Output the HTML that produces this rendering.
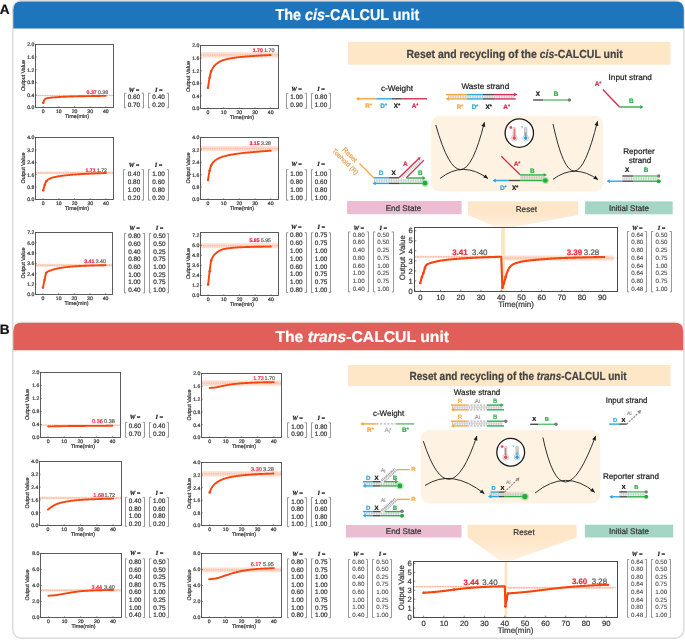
<!DOCTYPE html>
<html><head><meta charset="utf-8"><title>CALCUL units</title>
<style>html,body{margin:0;padding:0;background:#fff;} svg{display:block;will-change:transform;} text{text-rendering:geometricPrecision;stroke-width:0.22px;}</style></head>
<body><svg width="685" height="640" viewBox="0 0 685 640" font-family='"Liberation Sans", sans-serif'>
<rect x="0" y="0" width="685" height="640" fill="#fff"/>
<rect x="12.7" y="0.7" width="671.2" height="637.6" rx="9" ry="9" fill="#fff" stroke="#dcdcdc" stroke-width="1.5"/>
<path d="M13.3,28.5 L13.3,10 Q13.3,1.6 21.5,1.6 L675.5,1.6 Q683.8,1.6 683.8,10 L683.8,28.5 Z" stroke="none" stroke-width="1" fill="#1f75bb"/>
<path d="M12.8,350.2 L12.8,330.5 Q12.8,321.6 21.5,321.6 L675,321.6 Q683.8,321.6 683.8,330.5 L683.8,350.2 Z" stroke="none" stroke-width="1" fill="#ebebeb"/>
<path d="M13.3,350.2 L13.3,331 Q13.3,322.7 21.5,322.7 L675,322.7 Q683.2,322.7 683.2,331 L683.2,350.2 Z" stroke="none" stroke-width="1" fill="#e15e59"/>
<text x="-0.3" y="14.2" font-size="13.6" font-family='"Liberation Sans", sans-serif' font-weight="bold" fill="#111" stroke="#111">A</text>
<text x="-0.3" y="334.1" font-size="13.6" font-family='"Liberation Sans", sans-serif' font-weight="bold" fill="#111" stroke="#111">B</text>
<text x="275.5" y="20.3" font-size="15.6" font-family='"Liberation Sans", sans-serif' font-weight="bold" fill="#fff" textLength="143.7" lengthAdjust="spacingAndGlyphs" stroke="#fff">The <tspan font-style="italic">cis</tspan>-CALCUL unit</text>
<text x="275.4" y="342.2" font-size="15.6" font-family='"Liberation Sans", sans-serif' font-weight="bold" fill="#fff" textLength="173.6" lengthAdjust="spacingAndGlyphs" stroke="#fff">The <tspan font-style="italic">trans</tspan>-CALCUL unit</text>
<rect x="35.5" y="94.93" width="78" height="1.2" fill="#fcd8c8" opacity="0.85"/>
<line x1="35.5" y1="95.53" x2="113.5" y2="95.53" stroke="#f59c82" stroke-width="0.7" stroke-dasharray="1.4,0.9"/>
<path d="M43.20,102.78 L43.59,101.79 L43.98,100.74 L44.37,99.82 L44.77,99.25 L45.16,98.96 L45.55,98.74 L45.94,98.57 L46.33,98.43 L46.72,98.31 L47.11,98.21 L47.50,98.12 L47.90,98.05 L48.29,97.98 L48.68,97.92 L49.07,97.87 L49.46,97.82 L49.85,97.77 L50.24,97.72 L50.63,97.68 L51.03,97.64 L51.42,97.60 L51.81,97.56 L52.20,97.53 L52.59,97.49 L52.98,97.46 L53.37,97.42 L53.76,97.39 L54.16,97.36 L54.55,97.33 L54.94,97.30 L55.33,97.27 L55.72,97.24 L56.11,97.21 L56.50,97.18 L56.89,97.16 L57.29,97.13 L57.68,97.11 L58.07,97.09 L58.46,97.06 L58.85,97.04 L59.24,97.02 L59.63,97.00 L60.02,96.98 L60.41,96.96 L60.81,96.94 L61.20,96.92 L61.59,96.90 L61.98,96.88 L62.37,96.86 L62.76,96.84 L63.15,96.82 L63.55,96.81 L63.94,96.79 L64.33,96.77 L64.72,96.75 L65.11,96.74 L65.50,96.72 L65.89,96.70 L66.28,96.69 L66.67,96.67 L67.07,96.66 L67.46,96.64 L67.85,96.63 L68.24,96.61 L68.63,96.60 L69.02,96.58 L69.41,96.57 L69.81,96.56 L70.20,96.54 L70.59,96.53 L70.98,96.52 L71.37,96.50 L71.76,96.49 L72.15,96.48 L72.54,96.47 L72.94,96.46 L73.33,96.44 L73.72,96.43 L74.11,96.42 L74.50,96.41 L74.89,96.40 L75.28,96.39 L75.67,96.38 L76.06,96.37 L76.46,96.36 L76.85,96.35 L77.24,96.34 L77.63,96.33 L78.02,96.33 L78.41,96.32 L78.80,96.31 L79.19,96.30 L79.59,96.29 L79.98,96.28 L80.37,96.28 L80.76,96.27 L81.15,96.26 L81.54,96.25 L81.93,96.24 L82.32,96.24 L82.72,96.23 L83.11,96.22 L83.50,96.22 L83.89,96.21 L84.28,96.20 L84.67,96.19 L85.06,96.19 L85.45,96.18 L85.85,96.17 L86.24,96.17 L86.63,96.16 L87.02,96.15 L87.41,96.15 L87.80,96.14 L88.19,96.13 L88.59,96.12 L88.98,96.12 L89.37,96.11 L89.76,96.10 L90.15,96.10 L90.54,96.09 L90.93,96.08 L91.32,96.08 L91.72,96.07 L92.11,96.06 L92.50,96.06 L92.89,96.05 L93.28,96.04 L93.67,96.04 L94.06,96.03 L94.45,96.02 L94.84,96.02 L95.24,96.01 L95.63,96.00 L96.02,96.00 L96.41,95.99 L96.80,95.99 L97.19,95.98 L97.58,95.97 L97.97,95.97 L98.37,95.96 L98.76,95.96 L99.15,95.95 L99.54,95.94 L99.93,95.94 L100.32,95.93 L100.71,95.92 L101.10,95.92 L101.50,95.91 L101.89,95.91 L102.28,95.90 L102.67,95.89 L103.06,95.89 L103.45,95.88 L103.84,95.88 L104.23,95.87 L104.63,95.86 L105.02,95.86 L105.41,95.85 L105.80,95.84" stroke="#f6450e" stroke-width="1.9" fill="none" stroke-linejoin="round" stroke-linecap="round"/>
<circle cx="43.2" cy="102.78" r="1.2" fill="#f6450e"/>
<rect x="35.5" y="44.5" width="78" height="63" fill="none" stroke="#4a4a4a" stroke-width="0.9"/>
<line x1="35.5" y1="107.5" x2="36.8" y2="107.5" stroke="#4a4a4a" stroke-width="0.6"/>
<text x="34.3" y="109.3" font-size="5.1" font-family='"Liberation Sans", sans-serif' text-anchor="end" fill="#3a3a3a" stroke="#3a3a3a">0.0</text>
<line x1="35.5" y1="94.9" x2="36.8" y2="94.9" stroke="#4a4a4a" stroke-width="0.6"/>
<text x="34.3" y="96.7" font-size="5.1" font-family='"Liberation Sans", sans-serif' text-anchor="end" fill="#3a3a3a" stroke="#3a3a3a">0.4</text>
<line x1="35.5" y1="82.3" x2="36.8" y2="82.3" stroke="#4a4a4a" stroke-width="0.6"/>
<text x="34.3" y="84.1" font-size="5.1" font-family='"Liberation Sans", sans-serif' text-anchor="end" fill="#3a3a3a" stroke="#3a3a3a">0.8</text>
<line x1="35.5" y1="69.7" x2="36.8" y2="69.7" stroke="#4a4a4a" stroke-width="0.6"/>
<text x="34.3" y="71.5" font-size="5.1" font-family='"Liberation Sans", sans-serif' text-anchor="end" fill="#3a3a3a" stroke="#3a3a3a">1.2</text>
<line x1="35.5" y1="57.1" x2="36.8" y2="57.1" stroke="#4a4a4a" stroke-width="0.6"/>
<text x="34.3" y="58.9" font-size="5.1" font-family='"Liberation Sans", sans-serif' text-anchor="end" fill="#3a3a3a" stroke="#3a3a3a">1.6</text>
<line x1="35.5" y1="44.5" x2="36.8" y2="44.5" stroke="#4a4a4a" stroke-width="0.6"/>
<text x="34.3" y="46.3" font-size="5.1" font-family='"Liberation Sans", sans-serif' text-anchor="end" fill="#3a3a3a" stroke="#3a3a3a">2.0</text>
<line x1="43.2" y1="107.5" x2="43.2" y2="106.2" stroke="#4a4a4a" stroke-width="0.6"/>
<text x="43.2" y="113.1" font-size="5.1" font-family='"Liberation Sans", sans-serif' text-anchor="middle" fill="#3a3a3a" stroke="#3a3a3a">0</text>
<line x1="58.85" y1="107.5" x2="58.85" y2="106.2" stroke="#4a4a4a" stroke-width="0.6"/>
<text x="58.85" y="113.1" font-size="5.1" font-family='"Liberation Sans", sans-serif' text-anchor="middle" fill="#3a3a3a" stroke="#3a3a3a">10</text>
<line x1="74.5" y1="107.5" x2="74.5" y2="106.2" stroke="#4a4a4a" stroke-width="0.6"/>
<text x="74.5" y="113.1" font-size="5.1" font-family='"Liberation Sans", sans-serif' text-anchor="middle" fill="#3a3a3a" stroke="#3a3a3a">20</text>
<line x1="90.15" y1="107.5" x2="90.15" y2="106.2" stroke="#4a4a4a" stroke-width="0.6"/>
<text x="90.15" y="113.1" font-size="5.1" font-family='"Liberation Sans", sans-serif' text-anchor="middle" fill="#3a3a3a" stroke="#3a3a3a">30</text>
<line x1="105.8" y1="107.5" x2="105.8" y2="106.2" stroke="#4a4a4a" stroke-width="0.6"/>
<text x="105.8" y="113.1" font-size="5.1" font-family='"Liberation Sans", sans-serif' text-anchor="middle" fill="#3a3a3a" stroke="#3a3a3a">40</text>
<text x="77" y="117.7" font-size="5.4" font-family='"Liberation Sans", sans-serif' text-anchor="middle" fill="#3a3a3a" stroke="#3a3a3a">Time(min)</text>
<text transform="translate(25.1,75.5) rotate(-90)" font-size="5.4" font-family='"Liberation Sans", sans-serif' text-anchor="middle" fill="#3a3a3a" stroke="#3a3a3a">Output Value</text>
<text x="108.1" y="93.7" font-size="5.2" font-family='"Liberation Sans", sans-serif' text-anchor="end" fill="#666" stroke="#666"><tspan fill="#f2283f" font-weight="bold" stroke="#f2283f">0.37</tspan><tspan dx="1.3">0.38</tspan></text>
<rect x="200.5" y="52.27" width="78" height="5.35" fill="#fcd8c8" opacity="0.85"/>
<line x1="200.5" y1="54.95" x2="278.5" y2="54.95" stroke="#f59c82" stroke-width="0.7" stroke-dasharray="1.4,0.9"/>
<path d="M208.00,87.71 L208.39,85.08 L208.78,82.38 L209.18,79.82 L209.57,77.63 L209.96,75.73 L210.35,73.97 L210.74,72.47 L211.13,71.33 L211.53,70.45 L211.92,69.64 L212.31,68.89 L212.70,68.20 L213.09,67.57 L213.49,66.99 L213.88,66.46 L214.27,65.97 L214.66,65.53 L215.05,65.12 L215.45,64.74 L215.84,64.40 L216.23,64.07 L216.62,63.76 L217.01,63.46 L217.41,63.17 L217.80,62.89 L218.19,62.62 L218.58,62.36 L218.97,62.11 L219.36,61.88 L219.76,61.65 L220.15,61.44 L220.54,61.23 L220.93,61.04 L221.32,60.86 L221.72,60.69 L222.11,60.53 L222.50,60.38 L222.89,60.24 L223.28,60.11 L223.68,59.99 L224.07,59.88 L224.46,59.77 L224.85,59.66 L225.24,59.56 L225.63,59.46 L226.03,59.36 L226.42,59.26 L226.81,59.17 L227.20,59.08 L227.59,58.99 L227.99,58.90 L228.38,58.82 L228.77,58.74 L229.16,58.66 L229.55,58.58 L229.94,58.50 L230.34,58.43 L230.73,58.36 L231.12,58.29 L231.51,58.22 L231.90,58.16 L232.30,58.09 L232.69,58.03 L233.08,57.97 L233.47,57.91 L233.86,57.85 L234.26,57.79 L234.65,57.74 L235.04,57.68 L235.43,57.63 L235.82,57.58 L236.22,57.53 L236.61,57.48 L237.00,57.43 L237.39,57.38 L237.78,57.33 L238.17,57.29 L238.57,57.24 L238.96,57.20 L239.35,57.16 L239.74,57.11 L240.13,57.07 L240.53,57.03 L240.92,56.99 L241.31,56.95 L241.70,56.91 L242.09,56.87 L242.48,56.84 L242.88,56.80 L243.27,56.76 L243.66,56.73 L244.05,56.69 L244.44,56.66 L244.84,56.63 L245.23,56.60 L245.62,56.56 L246.01,56.53 L246.40,56.50 L246.80,56.47 L247.19,56.44 L247.58,56.41 L247.97,56.38 L248.36,56.35 L248.75,56.33 L249.15,56.30 L249.54,56.27 L249.93,56.24 L250.32,56.22 L250.71,56.19 L251.11,56.16 L251.50,56.14 L251.89,56.11 L252.28,56.08 L252.67,56.06 L253.07,56.03 L253.46,56.00 L253.85,55.98 L254.24,55.95 L254.63,55.92 L255.02,55.90 L255.42,55.87 L255.81,55.84 L256.20,55.82 L256.59,55.79 L256.98,55.76 L257.38,55.74 L257.77,55.71 L258.16,55.69 L258.55,55.66 L258.94,55.64 L259.34,55.62 L259.73,55.59 L260.12,55.57 L260.51,55.54 L260.90,55.52 L261.30,55.50 L261.69,55.47 L262.08,55.45 L262.47,55.43 L262.86,55.41 L263.25,55.38 L263.65,55.36 L264.04,55.34 L264.43,55.32 L264.82,55.29 L265.21,55.27 L265.61,55.25 L266.00,55.22 L266.39,55.20 L266.78,55.18 L267.17,55.16 L267.56,55.13 L267.96,55.11 L268.35,55.09 L268.74,55.07 L269.13,55.04 L269.52,55.02 L269.92,55.00 L270.31,54.97 L270.70,54.95" stroke="#f6450e" stroke-width="1.9" fill="none" stroke-linejoin="round" stroke-linecap="round"/>
<circle cx="208" cy="87.71" r="1.2" fill="#f6450e"/>
<circle cx="209.57" cy="77.63" r="1.2" fill="#f6450e"/>
<circle cx="211.13" cy="71.33" r="1.2" fill="#f6450e"/>
<rect x="200.5" y="45.5" width="78" height="63" fill="none" stroke="#4a4a4a" stroke-width="0.9"/>
<line x1="200.5" y1="108.5" x2="201.8" y2="108.5" stroke="#4a4a4a" stroke-width="0.6"/>
<text x="199.3" y="110.3" font-size="5.1" font-family='"Liberation Sans", sans-serif' text-anchor="end" fill="#3a3a3a" stroke="#3a3a3a">0.0</text>
<line x1="200.5" y1="95.9" x2="201.8" y2="95.9" stroke="#4a4a4a" stroke-width="0.6"/>
<text x="199.3" y="97.7" font-size="5.1" font-family='"Liberation Sans", sans-serif' text-anchor="end" fill="#3a3a3a" stroke="#3a3a3a">0.4</text>
<line x1="200.5" y1="83.3" x2="201.8" y2="83.3" stroke="#4a4a4a" stroke-width="0.6"/>
<text x="199.3" y="85.1" font-size="5.1" font-family='"Liberation Sans", sans-serif' text-anchor="end" fill="#3a3a3a" stroke="#3a3a3a">0.8</text>
<line x1="200.5" y1="70.7" x2="201.8" y2="70.7" stroke="#4a4a4a" stroke-width="0.6"/>
<text x="199.3" y="72.5" font-size="5.1" font-family='"Liberation Sans", sans-serif' text-anchor="end" fill="#3a3a3a" stroke="#3a3a3a">1.2</text>
<line x1="200.5" y1="58.1" x2="201.8" y2="58.1" stroke="#4a4a4a" stroke-width="0.6"/>
<text x="199.3" y="59.9" font-size="5.1" font-family='"Liberation Sans", sans-serif' text-anchor="end" fill="#3a3a3a" stroke="#3a3a3a">1.6</text>
<line x1="200.5" y1="45.5" x2="201.8" y2="45.5" stroke="#4a4a4a" stroke-width="0.6"/>
<text x="199.3" y="47.3" font-size="5.1" font-family='"Liberation Sans", sans-serif' text-anchor="end" fill="#3a3a3a" stroke="#3a3a3a">2.0</text>
<line x1="208" y1="108.5" x2="208" y2="107.2" stroke="#4a4a4a" stroke-width="0.6"/>
<text x="208" y="114.1" font-size="5.1" font-family='"Liberation Sans", sans-serif' text-anchor="middle" fill="#3a3a3a" stroke="#3a3a3a">0</text>
<line x1="223.68" y1="108.5" x2="223.68" y2="107.2" stroke="#4a4a4a" stroke-width="0.6"/>
<text x="223.68" y="114.1" font-size="5.1" font-family='"Liberation Sans", sans-serif' text-anchor="middle" fill="#3a3a3a" stroke="#3a3a3a">10</text>
<line x1="239.35" y1="108.5" x2="239.35" y2="107.2" stroke="#4a4a4a" stroke-width="0.6"/>
<text x="239.35" y="114.1" font-size="5.1" font-family='"Liberation Sans", sans-serif' text-anchor="middle" fill="#3a3a3a" stroke="#3a3a3a">20</text>
<line x1="255.02" y1="108.5" x2="255.02" y2="107.2" stroke="#4a4a4a" stroke-width="0.6"/>
<text x="255.02" y="114.1" font-size="5.1" font-family='"Liberation Sans", sans-serif' text-anchor="middle" fill="#3a3a3a" stroke="#3a3a3a">30</text>
<line x1="270.7" y1="108.5" x2="270.7" y2="107.2" stroke="#4a4a4a" stroke-width="0.6"/>
<text x="270.7" y="114.1" font-size="5.1" font-family='"Liberation Sans", sans-serif' text-anchor="middle" fill="#3a3a3a" stroke="#3a3a3a">40</text>
<text x="242" y="118.7" font-size="5.4" font-family='"Liberation Sans", sans-serif' text-anchor="middle" fill="#3a3a3a" stroke="#3a3a3a">Time(min)</text>
<text transform="translate(190.1,76.5) rotate(-90)" font-size="5.4" font-family='"Liberation Sans", sans-serif' text-anchor="middle" fill="#3a3a3a" stroke="#3a3a3a">Output Value</text>
<text x="274.3" y="52" font-size="5.2" font-family='"Liberation Sans", sans-serif' text-anchor="end" fill="#666" stroke="#666"><tspan fill="#f2283f" font-weight="bold" stroke="#f2283f">1.70</tspan><tspan dx="1.3">1.70</tspan></text>
<rect x="35.5" y="171.51" width="78" height="2.67" fill="#fcd8c8" opacity="0.85"/>
<line x1="35.5" y1="172.84" x2="113.5" y2="172.84" stroke="#f59c82" stroke-width="0.7" stroke-dasharray="1.4,0.9"/>
<path d="M43.20,190.20 L43.59,188.79 L43.98,187.35 L44.38,185.97 L44.77,184.78 L45.16,183.70 L45.55,182.68 L45.94,181.81 L46.34,181.21 L46.73,180.79 L47.12,180.41 L47.51,180.06 L47.90,179.75 L48.29,179.47 L48.69,179.21 L49.08,178.98 L49.47,178.77 L49.86,178.59 L50.25,178.41 L50.65,178.26 L51.04,178.11 L51.43,177.97 L51.82,177.84 L52.21,177.71 L52.61,177.59 L53.00,177.48 L53.39,177.37 L53.78,177.26 L54.17,177.16 L54.56,177.07 L54.96,176.98 L55.35,176.89 L55.74,176.81 L56.13,176.73 L56.52,176.65 L56.92,176.58 L57.31,176.51 L57.70,176.44 L58.09,176.38 L58.48,176.31 L58.88,176.25 L59.27,176.19 L59.66,176.13 L60.05,176.07 L60.44,176.02 L60.83,175.96 L61.23,175.91 L61.62,175.85 L62.01,175.80 L62.40,175.75 L62.79,175.70 L63.19,175.65 L63.58,175.60 L63.97,175.55 L64.36,175.50 L64.75,175.46 L65.15,175.41 L65.54,175.37 L65.93,175.33 L66.32,175.28 L66.71,175.24 L67.10,175.20 L67.50,175.16 L67.89,175.12 L68.28,175.08 L68.67,175.05 L69.06,175.01 L69.46,174.97 L69.85,174.94 L70.24,174.90 L70.63,174.87 L71.02,174.83 L71.42,174.80 L71.81,174.77 L72.20,174.73 L72.59,174.70 L72.98,174.67 L73.37,174.64 L73.77,174.61 L74.16,174.58 L74.55,174.54 L74.94,174.52 L75.33,174.49 L75.73,174.46 L76.12,174.43 L76.51,174.40 L76.90,174.37 L77.29,174.34 L77.69,174.32 L78.08,174.29 L78.47,174.27 L78.86,174.24 L79.25,174.21 L79.64,174.19 L80.04,174.16 L80.43,174.14 L80.82,174.12 L81.21,174.09 L81.60,174.07 L82.00,174.05 L82.39,174.02 L82.78,174.00 L83.17,173.98 L83.56,173.96 L83.96,173.93 L84.35,173.91 L84.74,173.89 L85.13,173.87 L85.52,173.85 L85.91,173.83 L86.31,173.81 L86.70,173.79 L87.09,173.77 L87.48,173.75 L87.87,173.73 L88.27,173.71 L88.66,173.69 L89.05,173.67 L89.44,173.65 L89.83,173.63 L90.22,173.62 L90.62,173.60 L91.01,173.58 L91.40,173.56 L91.79,173.54 L92.18,173.53 L92.58,173.51 L92.97,173.49 L93.36,173.48 L93.75,173.46 L94.14,173.44 L94.54,173.43 L94.93,173.41 L95.32,173.40 L95.71,173.38 L96.10,173.36 L96.50,173.35 L96.89,173.33 L97.28,173.32 L97.67,173.30 L98.06,173.29 L98.45,173.27 L98.85,173.26 L99.24,173.25 L99.63,173.23 L100.02,173.22 L100.41,173.20 L100.81,173.19 L101.20,173.17 L101.59,173.16 L101.98,173.14 L102.37,173.13 L102.77,173.12 L103.16,173.10 L103.55,173.09 L103.94,173.07 L104.33,173.06 L104.72,173.04 L105.12,173.03 L105.51,173.01 L105.90,173.00" stroke="#f6450e" stroke-width="1.9" fill="none" stroke-linejoin="round" stroke-linecap="round"/>
<circle cx="43.2" cy="190.2" r="1.2" fill="#f6450e"/>
<circle cx="44.77" cy="184.78" r="1.2" fill="#f6450e"/>
<circle cx="46.34" cy="181.21" r="1.2" fill="#f6450e"/>
<rect x="35.5" y="137.5" width="78" height="62" fill="none" stroke="#4a4a4a" stroke-width="0.9"/>
<line x1="35.5" y1="199.5" x2="36.8" y2="199.5" stroke="#4a4a4a" stroke-width="0.6"/>
<text x="34.3" y="201.3" font-size="5.1" font-family='"Liberation Sans", sans-serif' text-anchor="end" fill="#3a3a3a" stroke="#3a3a3a">0.0</text>
<line x1="35.5" y1="187.1" x2="36.8" y2="187.1" stroke="#4a4a4a" stroke-width="0.6"/>
<text x="34.3" y="188.9" font-size="5.1" font-family='"Liberation Sans", sans-serif' text-anchor="end" fill="#3a3a3a" stroke="#3a3a3a">0.8</text>
<line x1="35.5" y1="174.7" x2="36.8" y2="174.7" stroke="#4a4a4a" stroke-width="0.6"/>
<text x="34.3" y="176.5" font-size="5.1" font-family='"Liberation Sans", sans-serif' text-anchor="end" fill="#3a3a3a" stroke="#3a3a3a">1.6</text>
<line x1="35.5" y1="162.3" x2="36.8" y2="162.3" stroke="#4a4a4a" stroke-width="0.6"/>
<text x="34.3" y="164.1" font-size="5.1" font-family='"Liberation Sans", sans-serif' text-anchor="end" fill="#3a3a3a" stroke="#3a3a3a">2.4</text>
<line x1="35.5" y1="149.9" x2="36.8" y2="149.9" stroke="#4a4a4a" stroke-width="0.6"/>
<text x="34.3" y="151.7" font-size="5.1" font-family='"Liberation Sans", sans-serif' text-anchor="end" fill="#3a3a3a" stroke="#3a3a3a">3.2</text>
<line x1="35.5" y1="137.5" x2="36.8" y2="137.5" stroke="#4a4a4a" stroke-width="0.6"/>
<text x="34.3" y="139.3" font-size="5.1" font-family='"Liberation Sans", sans-serif' text-anchor="end" fill="#3a3a3a" stroke="#3a3a3a">4.0</text>
<line x1="43.2" y1="199.5" x2="43.2" y2="198.2" stroke="#4a4a4a" stroke-width="0.6"/>
<text x="43.2" y="205.1" font-size="5.1" font-family='"Liberation Sans", sans-serif' text-anchor="middle" fill="#3a3a3a" stroke="#3a3a3a">0</text>
<line x1="58.88" y1="199.5" x2="58.88" y2="198.2" stroke="#4a4a4a" stroke-width="0.6"/>
<text x="58.88" y="205.1" font-size="5.1" font-family='"Liberation Sans", sans-serif' text-anchor="middle" fill="#3a3a3a" stroke="#3a3a3a">10</text>
<line x1="74.55" y1="199.5" x2="74.55" y2="198.2" stroke="#4a4a4a" stroke-width="0.6"/>
<text x="74.55" y="205.1" font-size="5.1" font-family='"Liberation Sans", sans-serif' text-anchor="middle" fill="#3a3a3a" stroke="#3a3a3a">20</text>
<line x1="90.22" y1="199.5" x2="90.22" y2="198.2" stroke="#4a4a4a" stroke-width="0.6"/>
<text x="90.22" y="205.1" font-size="5.1" font-family='"Liberation Sans", sans-serif' text-anchor="middle" fill="#3a3a3a" stroke="#3a3a3a">30</text>
<line x1="105.9" y1="199.5" x2="105.9" y2="198.2" stroke="#4a4a4a" stroke-width="0.6"/>
<text x="105.9" y="205.1" font-size="5.1" font-family='"Liberation Sans", sans-serif' text-anchor="middle" fill="#3a3a3a" stroke="#3a3a3a">40</text>
<text x="77" y="209.7" font-size="5.4" font-family='"Liberation Sans", sans-serif' text-anchor="middle" fill="#3a3a3a" stroke="#3a3a3a">Time(min)</text>
<text transform="translate(25.1,168) rotate(-90)" font-size="5.4" font-family='"Liberation Sans", sans-serif' text-anchor="middle" fill="#3a3a3a" stroke="#3a3a3a">Output Value</text>
<text x="107" y="171.5" font-size="5.2" font-family='"Liberation Sans", sans-serif' text-anchor="end" fill="#666" stroke="#666"><tspan fill="#f2283f" font-weight="bold" stroke="#f2283f">1.71</tspan><tspan dx="1.3">1.72</tspan></text>
<rect x="200.5" y="146.12" width="78" height="5.08" fill="#fcd8c8" opacity="0.85"/>
<line x1="200.5" y1="148.66" x2="278.5" y2="148.66" stroke="#f59c82" stroke-width="0.7" stroke-dasharray="1.4,0.9"/>
<path d="M208.00,180.12 L208.39,177.69 L208.78,175.17 L209.18,172.81 L209.57,170.82 L209.96,169.15 L210.35,167.63 L210.74,166.34 L211.13,165.40 L211.53,164.69 L211.92,164.04 L212.31,163.45 L212.70,162.91 L213.09,162.42 L213.49,161.98 L213.88,161.57 L214.27,161.20 L214.66,160.85 L215.05,160.54 L215.45,160.25 L215.84,159.97 L216.23,159.71 L216.62,159.47 L217.01,159.23 L217.41,159.00 L217.80,158.77 L218.19,158.56 L218.58,158.36 L218.97,158.17 L219.36,157.98 L219.76,157.80 L220.15,157.63 L220.54,157.47 L220.93,157.32 L221.32,157.17 L221.72,157.03 L222.11,156.89 L222.50,156.76 L222.89,156.64 L223.28,156.52 L223.68,156.41 L224.07,156.30 L224.46,156.20 L224.85,156.09 L225.24,155.99 L225.63,155.89 L226.03,155.80 L226.42,155.70 L226.81,155.61 L227.20,155.52 L227.59,155.43 L227.99,155.34 L228.38,155.26 L228.77,155.18 L229.16,155.10 L229.55,155.02 L229.94,154.94 L230.34,154.86 L230.73,154.79 L231.12,154.72 L231.51,154.65 L231.90,154.58 L232.30,154.51 L232.69,154.44 L233.08,154.37 L233.47,154.31 L233.86,154.25 L234.26,154.19 L234.65,154.12 L235.04,154.06 L235.43,154.01 L235.82,153.95 L236.22,153.89 L236.61,153.84 L237.00,153.78 L237.39,153.73 L237.78,153.67 L238.17,153.62 L238.57,153.57 L238.96,153.52 L239.35,153.47 L239.74,153.41 L240.13,153.37 L240.53,153.32 L240.92,153.27 L241.31,153.22 L241.70,153.18 L242.09,153.13 L242.48,153.09 L242.88,153.04 L243.27,153.00 L243.66,152.96 L244.05,152.92 L244.44,152.88 L244.84,152.84 L245.23,152.80 L245.62,152.76 L246.01,152.72 L246.40,152.68 L246.80,152.65 L247.19,152.61 L247.58,152.57 L247.97,152.54 L248.36,152.50 L248.75,152.46 L249.15,152.43 L249.54,152.39 L249.93,152.36 L250.32,152.32 L250.71,152.29 L251.11,152.26 L251.50,152.22 L251.89,152.19 L252.28,152.15 L252.67,152.12 L253.07,152.09 L253.46,152.05 L253.85,152.02 L254.24,151.98 L254.63,151.95 L255.02,151.91 L255.42,151.88 L255.81,151.85 L256.20,151.81 L256.59,151.78 L256.98,151.75 L257.38,151.71 L257.77,151.68 L258.16,151.65 L258.55,151.62 L258.94,151.59 L259.34,151.55 L259.73,151.52 L260.12,151.49 L260.51,151.46 L260.90,151.43 L261.30,151.40 L261.69,151.37 L262.08,151.34 L262.47,151.31 L262.86,151.28 L263.25,151.25 L263.65,151.22 L264.04,151.19 L264.43,151.16 L264.82,151.13 L265.21,151.10 L265.61,151.07 L266.00,151.04 L266.39,151.01 L266.78,150.98 L267.17,150.95 L267.56,150.92 L267.96,150.89 L268.35,150.86 L268.74,150.83 L269.13,150.80 L269.52,150.77 L269.92,150.74 L270.31,150.71 L270.70,150.68" stroke="#f6450e" stroke-width="1.9" fill="none" stroke-linejoin="round" stroke-linecap="round"/>
<circle cx="208" cy="180.12" r="1.2" fill="#f6450e"/>
<circle cx="209.57" cy="170.82" r="1.2" fill="#f6450e"/>
<circle cx="211.13" cy="165.4" r="1.2" fill="#f6450e"/>
<rect x="200.5" y="137.5" width="78" height="62" fill="none" stroke="#4a4a4a" stroke-width="0.9"/>
<line x1="200.5" y1="199.5" x2="201.8" y2="199.5" stroke="#4a4a4a" stroke-width="0.6"/>
<text x="199.3" y="201.3" font-size="5.1" font-family='"Liberation Sans", sans-serif' text-anchor="end" fill="#3a3a3a" stroke="#3a3a3a">0.0</text>
<line x1="200.5" y1="187.1" x2="201.8" y2="187.1" stroke="#4a4a4a" stroke-width="0.6"/>
<text x="199.3" y="188.9" font-size="5.1" font-family='"Liberation Sans", sans-serif' text-anchor="end" fill="#3a3a3a" stroke="#3a3a3a">0.8</text>
<line x1="200.5" y1="174.7" x2="201.8" y2="174.7" stroke="#4a4a4a" stroke-width="0.6"/>
<text x="199.3" y="176.5" font-size="5.1" font-family='"Liberation Sans", sans-serif' text-anchor="end" fill="#3a3a3a" stroke="#3a3a3a">1.6</text>
<line x1="200.5" y1="162.3" x2="201.8" y2="162.3" stroke="#4a4a4a" stroke-width="0.6"/>
<text x="199.3" y="164.1" font-size="5.1" font-family='"Liberation Sans", sans-serif' text-anchor="end" fill="#3a3a3a" stroke="#3a3a3a">2.4</text>
<line x1="200.5" y1="149.9" x2="201.8" y2="149.9" stroke="#4a4a4a" stroke-width="0.6"/>
<text x="199.3" y="151.7" font-size="5.1" font-family='"Liberation Sans", sans-serif' text-anchor="end" fill="#3a3a3a" stroke="#3a3a3a">3.2</text>
<line x1="200.5" y1="137.5" x2="201.8" y2="137.5" stroke="#4a4a4a" stroke-width="0.6"/>
<text x="199.3" y="139.3" font-size="5.1" font-family='"Liberation Sans", sans-serif' text-anchor="end" fill="#3a3a3a" stroke="#3a3a3a">4.0</text>
<line x1="208" y1="199.5" x2="208" y2="198.2" stroke="#4a4a4a" stroke-width="0.6"/>
<text x="208" y="205.1" font-size="5.1" font-family='"Liberation Sans", sans-serif' text-anchor="middle" fill="#3a3a3a" stroke="#3a3a3a">0</text>
<line x1="223.68" y1="199.5" x2="223.68" y2="198.2" stroke="#4a4a4a" stroke-width="0.6"/>
<text x="223.68" y="205.1" font-size="5.1" font-family='"Liberation Sans", sans-serif' text-anchor="middle" fill="#3a3a3a" stroke="#3a3a3a">10</text>
<line x1="239.35" y1="199.5" x2="239.35" y2="198.2" stroke="#4a4a4a" stroke-width="0.6"/>
<text x="239.35" y="205.1" font-size="5.1" font-family='"Liberation Sans", sans-serif' text-anchor="middle" fill="#3a3a3a" stroke="#3a3a3a">20</text>
<line x1="255.02" y1="199.5" x2="255.02" y2="198.2" stroke="#4a4a4a" stroke-width="0.6"/>
<text x="255.02" y="205.1" font-size="5.1" font-family='"Liberation Sans", sans-serif' text-anchor="middle" fill="#3a3a3a" stroke="#3a3a3a">30</text>
<line x1="270.7" y1="199.5" x2="270.7" y2="198.2" stroke="#4a4a4a" stroke-width="0.6"/>
<text x="270.7" y="205.1" font-size="5.1" font-family='"Liberation Sans", sans-serif' text-anchor="middle" fill="#3a3a3a" stroke="#3a3a3a">40</text>
<text x="242" y="209.7" font-size="5.4" font-family='"Liberation Sans", sans-serif' text-anchor="middle" fill="#3a3a3a" stroke="#3a3a3a">Time(min)</text>
<text transform="translate(190.1,168) rotate(-90)" font-size="5.4" font-family='"Liberation Sans", sans-serif' text-anchor="middle" fill="#3a3a3a" stroke="#3a3a3a">Output Value</text>
<text x="271" y="144.5" font-size="5.2" font-family='"Liberation Sans", sans-serif' text-anchor="end" fill="#666" stroke="#666"><tspan fill="#f2283f" font-weight="bold" stroke="#f2283f">3.15</tspan><tspan dx="1.3">3.28</tspan></text>
<rect x="35.5" y="263.76" width="77" height="2.93" fill="#fcd8c8" opacity="0.85"/>
<line x1="35.5" y1="265.22" x2="112.5" y2="265.22" stroke="#f59c82" stroke-width="0.7" stroke-dasharray="1.4,0.9"/>
<path d="M43.00,287.61 L43.39,285.65 L43.78,283.68 L44.17,281.73 L44.56,279.86 L44.96,277.84 L45.35,275.72 L45.74,273.95 L46.13,272.97 L46.52,272.56 L46.91,272.21 L47.30,271.91 L47.70,271.65 L48.09,271.43 L48.48,271.24 L48.87,271.08 L49.26,270.93 L49.65,270.79 L50.04,270.66 L50.43,270.53 L50.83,270.39 L51.22,270.24 L51.61,270.10 L52.00,269.96 L52.39,269.83 L52.78,269.70 L53.17,269.58 L53.56,269.46 L53.95,269.34 L54.35,269.22 L54.74,269.12 L55.13,269.01 L55.52,268.91 L55.91,268.81 L56.30,268.72 L56.69,268.63 L57.09,268.54 L57.48,268.46 L57.87,268.38 L58.26,268.31 L58.65,268.24 L59.04,268.17 L59.43,268.10 L59.82,268.03 L60.21,267.97 L60.61,267.91 L61.00,267.84 L61.39,267.78 L61.78,267.72 L62.17,267.66 L62.56,267.60 L62.95,267.55 L63.34,267.49 L63.74,267.44 L64.13,267.38 L64.52,267.33 L64.91,267.28 L65.30,267.23 L65.69,267.18 L66.08,267.13 L66.47,267.08 L66.87,267.04 L67.26,266.99 L67.65,266.95 L68.04,266.90 L68.43,266.86 L68.82,266.82 L69.21,266.78 L69.60,266.74 L70.00,266.70 L70.39,266.66 L70.78,266.63 L71.17,266.59 L71.56,266.56 L71.95,266.52 L72.34,266.49 L72.73,266.46 L73.13,266.43 L73.52,266.40 L73.91,266.37 L74.30,266.34 L74.69,266.31 L75.08,266.29 L75.47,266.26 L75.86,266.24 L76.26,266.21 L76.65,266.19 L77.04,266.16 L77.43,266.14 L77.82,266.11 L78.21,266.09 L78.60,266.07 L79.00,266.05 L79.39,266.03 L79.78,266.00 L80.17,265.98 L80.56,265.96 L80.95,265.94 L81.34,265.92 L81.73,265.90 L82.12,265.89 L82.52,265.87 L82.91,265.85 L83.30,265.83 L83.69,265.81 L84.08,265.80 L84.47,265.78 L84.86,265.76 L85.25,265.75 L85.65,265.73 L86.04,265.71 L86.43,265.70 L86.82,265.68 L87.21,265.67 L87.60,265.65 L87.99,265.64 L88.38,265.62 L88.78,265.61 L89.17,265.59 L89.56,265.58 L89.95,265.57 L90.34,265.55 L90.73,265.54 L91.12,265.53 L91.52,265.51 L91.91,265.50 L92.30,265.49 L92.69,265.48 L93.08,265.46 L93.47,265.45 L93.86,265.44 L94.25,265.43 L94.64,265.42 L95.04,265.41 L95.43,265.40 L95.82,265.39 L96.21,265.38 L96.60,265.37 L96.99,265.36 L97.38,265.35 L97.78,265.34 L98.17,265.33 L98.56,265.32 L98.95,265.31 L99.34,265.30 L99.73,265.29 L100.12,265.28 L100.51,265.27 L100.91,265.26 L101.30,265.25 L101.69,265.24 L102.08,265.23 L102.47,265.22 L102.86,265.21 L103.25,265.20 L103.64,265.19 L104.03,265.18 L104.43,265.17 L104.82,265.16 L105.21,265.15 L105.60,265.14" stroke="#f6450e" stroke-width="1.9" fill="none" stroke-linejoin="round" stroke-linecap="round"/>
<circle cx="43" cy="287.61" r="1.2" fill="#f6450e"/>
<circle cx="44.56" cy="279.86" r="1.2" fill="#f6450e"/>
<circle cx="46.13" cy="272.97" r="1.2" fill="#f6450e"/>
<rect x="35.5" y="232.5" width="77" height="62" fill="none" stroke="#4a4a4a" stroke-width="0.9"/>
<line x1="35.5" y1="294.5" x2="36.8" y2="294.5" stroke="#4a4a4a" stroke-width="0.6"/>
<text x="34.3" y="296.3" font-size="5.1" font-family='"Liberation Sans", sans-serif' text-anchor="end" fill="#3a3a3a" stroke="#3a3a3a">0.0</text>
<line x1="35.5" y1="284.17" x2="36.8" y2="284.17" stroke="#4a4a4a" stroke-width="0.6"/>
<text x="34.3" y="285.97" font-size="5.1" font-family='"Liberation Sans", sans-serif' text-anchor="end" fill="#3a3a3a" stroke="#3a3a3a">1.2</text>
<line x1="35.5" y1="273.83" x2="36.8" y2="273.83" stroke="#4a4a4a" stroke-width="0.6"/>
<text x="34.3" y="275.63" font-size="5.1" font-family='"Liberation Sans", sans-serif' text-anchor="end" fill="#3a3a3a" stroke="#3a3a3a">2.4</text>
<line x1="35.5" y1="263.5" x2="36.8" y2="263.5" stroke="#4a4a4a" stroke-width="0.6"/>
<text x="34.3" y="265.3" font-size="5.1" font-family='"Liberation Sans", sans-serif' text-anchor="end" fill="#3a3a3a" stroke="#3a3a3a">3.6</text>
<line x1="35.5" y1="253.17" x2="36.8" y2="253.17" stroke="#4a4a4a" stroke-width="0.6"/>
<text x="34.3" y="254.97" font-size="5.1" font-family='"Liberation Sans", sans-serif' text-anchor="end" fill="#3a3a3a" stroke="#3a3a3a">4.8</text>
<line x1="35.5" y1="242.83" x2="36.8" y2="242.83" stroke="#4a4a4a" stroke-width="0.6"/>
<text x="34.3" y="244.63" font-size="5.1" font-family='"Liberation Sans", sans-serif' text-anchor="end" fill="#3a3a3a" stroke="#3a3a3a">6.0</text>
<line x1="35.5" y1="232.5" x2="36.8" y2="232.5" stroke="#4a4a4a" stroke-width="0.6"/>
<text x="34.3" y="234.3" font-size="5.1" font-family='"Liberation Sans", sans-serif' text-anchor="end" fill="#3a3a3a" stroke="#3a3a3a">7.2</text>
<line x1="43" y1="294.5" x2="43" y2="293.2" stroke="#4a4a4a" stroke-width="0.6"/>
<text x="43" y="300.1" font-size="5.1" font-family='"Liberation Sans", sans-serif' text-anchor="middle" fill="#3a3a3a" stroke="#3a3a3a">0</text>
<line x1="58.65" y1="294.5" x2="58.65" y2="293.2" stroke="#4a4a4a" stroke-width="0.6"/>
<text x="58.65" y="300.1" font-size="5.1" font-family='"Liberation Sans", sans-serif' text-anchor="middle" fill="#3a3a3a" stroke="#3a3a3a">10</text>
<line x1="74.3" y1="294.5" x2="74.3" y2="293.2" stroke="#4a4a4a" stroke-width="0.6"/>
<text x="74.3" y="300.1" font-size="5.1" font-family='"Liberation Sans", sans-serif' text-anchor="middle" fill="#3a3a3a" stroke="#3a3a3a">20</text>
<line x1="89.95" y1="294.5" x2="89.95" y2="293.2" stroke="#4a4a4a" stroke-width="0.6"/>
<text x="89.95" y="300.1" font-size="5.1" font-family='"Liberation Sans", sans-serif' text-anchor="middle" fill="#3a3a3a" stroke="#3a3a3a">30</text>
<line x1="105.6" y1="294.5" x2="105.6" y2="293.2" stroke="#4a4a4a" stroke-width="0.6"/>
<text x="105.6" y="300.1" font-size="5.1" font-family='"Liberation Sans", sans-serif' text-anchor="middle" fill="#3a3a3a" stroke="#3a3a3a">40</text>
<text x="76.5" y="304.7" font-size="5.4" font-family='"Liberation Sans", sans-serif' text-anchor="middle" fill="#3a3a3a" stroke="#3a3a3a">Time(min)</text>
<text transform="translate(25.1,263) rotate(-90)" font-size="5.4" font-family='"Liberation Sans", sans-serif' text-anchor="middle" fill="#3a3a3a" stroke="#3a3a3a">Output Value</text>
<text x="105.8" y="262.6" font-size="5.2" font-family='"Liberation Sans", sans-serif' text-anchor="end" fill="#666" stroke="#666"><tspan fill="#f2283f" font-weight="bold" stroke="#f2283f">3.41</tspan><tspan dx="1.3">3.40</tspan></text>
<rect x="200.5" y="243.23" width="78" height="4.98" fill="#fcd8c8" opacity="0.85"/>
<line x1="200.5" y1="245.72" x2="278.5" y2="245.72" stroke="#f59c82" stroke-width="0.7" stroke-dasharray="1.4,0.9"/>
<path d="M208.10,284.62 L208.49,281.21 L208.88,277.76 L209.28,274.39 L209.67,271.24 L210.06,268.05 L210.45,264.84 L210.85,262.11 L211.24,260.36 L211.63,259.33 L212.03,258.41 L212.42,257.59 L212.81,256.87 L213.20,256.22 L213.59,255.65 L213.99,255.15 L214.38,254.70 L214.77,254.29 L215.16,253.92 L215.56,253.58 L215.95,253.25 L216.34,252.93 L216.73,252.62 L217.13,252.33 L217.52,252.04 L217.91,251.76 L218.30,251.50 L218.70,251.24 L219.09,251.00 L219.48,250.77 L219.88,250.55 L220.27,250.34 L220.66,250.15 L221.05,249.96 L221.44,249.79 L221.84,249.64 L222.23,249.50 L222.62,249.37 L223.01,249.25 L223.41,249.15 L223.80,249.07 L224.19,248.99 L224.58,248.91 L224.98,248.84 L225.37,248.77 L225.76,248.70 L226.16,248.63 L226.55,248.57 L226.94,248.51 L227.33,248.45 L227.72,248.39 L228.12,248.33 L228.51,248.28 L228.90,248.22 L229.29,248.17 L229.69,248.12 L230.08,248.07 L230.47,248.02 L230.86,247.98 L231.26,247.94 L231.65,247.89 L232.04,247.85 L232.44,247.81 L232.83,247.78 L233.22,247.74 L233.61,247.70 L234.00,247.67 L234.40,247.64 L234.79,247.61 L235.18,247.58 L235.57,247.55 L235.97,247.52 L236.36,247.49 L236.75,247.47 L237.14,247.44 L237.54,247.42 L237.93,247.39 L238.32,247.37 L238.71,247.35 L239.11,247.33 L239.50,247.31 L239.89,247.29 L240.28,247.27 L240.68,247.25 L241.07,247.23 L241.46,247.22 L241.85,247.20 L242.25,247.18 L242.64,247.17 L243.03,247.15 L243.42,247.14 L243.82,247.12 L244.21,247.11 L244.60,247.09 L244.99,247.08 L245.39,247.06 L245.78,247.05 L246.17,247.04 L246.56,247.03 L246.96,247.01 L247.35,247.00 L247.74,246.99 L248.13,246.98 L248.53,246.97 L248.92,246.96 L249.31,246.95 L249.70,246.94 L250.10,246.93 L250.49,246.92 L250.88,246.91 L251.27,246.90 L251.67,246.89 L252.06,246.88 L252.45,246.87 L252.84,246.86 L253.24,246.85 L253.63,246.84 L254.02,246.83 L254.41,246.82 L254.81,246.82 L255.20,246.81 L255.59,246.80 L255.98,246.79 L256.38,246.78 L256.77,246.77 L257.16,246.77 L257.55,246.76 L257.95,246.75 L258.34,246.75 L258.73,246.74 L259.12,246.73 L259.52,246.73 L259.91,246.72 L260.30,246.71 L260.69,246.71 L261.09,246.70 L261.48,246.69 L261.87,246.69 L262.26,246.68 L262.66,246.68 L263.05,246.67 L263.44,246.67 L263.83,246.66 L264.23,246.65 L264.62,246.65 L265.01,246.64 L265.40,246.64 L265.80,246.63 L266.19,246.63 L266.58,246.62 L266.97,246.61 L267.37,246.61 L267.76,246.60 L268.15,246.60 L268.54,246.59 L268.94,246.59 L269.33,246.58 L269.72,246.57 L270.12,246.57 L270.51,246.56 L270.90,246.56" stroke="#f6450e" stroke-width="1.9" fill="none" stroke-linejoin="round" stroke-linecap="round"/>
<circle cx="208.1" cy="284.62" r="1.2" fill="#f6450e"/>
<circle cx="209.67" cy="271.24" r="1.2" fill="#f6450e"/>
<circle cx="211.24" cy="260.36" r="1.2" fill="#f6450e"/>
<rect x="200.5" y="232.5" width="78" height="63" fill="none" stroke="#4a4a4a" stroke-width="0.9"/>
<line x1="200.5" y1="295.5" x2="201.8" y2="295.5" stroke="#4a4a4a" stroke-width="0.6"/>
<text x="199.3" y="297.3" font-size="5.1" font-family='"Liberation Sans", sans-serif' text-anchor="end" fill="#3a3a3a" stroke="#3a3a3a">0.0</text>
<line x1="200.5" y1="285.46" x2="201.8" y2="285.46" stroke="#4a4a4a" stroke-width="0.6"/>
<text x="199.3" y="287.26" font-size="5.1" font-family='"Liberation Sans", sans-serif' text-anchor="end" fill="#3a3a3a" stroke="#3a3a3a">1.2</text>
<line x1="200.5" y1="275.42" x2="201.8" y2="275.42" stroke="#4a4a4a" stroke-width="0.6"/>
<text x="199.3" y="277.22" font-size="5.1" font-family='"Liberation Sans", sans-serif' text-anchor="end" fill="#3a3a3a" stroke="#3a3a3a">2.4</text>
<line x1="200.5" y1="265.38" x2="201.8" y2="265.38" stroke="#4a4a4a" stroke-width="0.6"/>
<text x="199.3" y="267.18" font-size="5.1" font-family='"Liberation Sans", sans-serif' text-anchor="end" fill="#3a3a3a" stroke="#3a3a3a">3.6</text>
<line x1="200.5" y1="255.34" x2="201.8" y2="255.34" stroke="#4a4a4a" stroke-width="0.6"/>
<text x="199.3" y="257.14" font-size="5.1" font-family='"Liberation Sans", sans-serif' text-anchor="end" fill="#3a3a3a" stroke="#3a3a3a">4.8</text>
<line x1="200.5" y1="245.3" x2="201.8" y2="245.3" stroke="#4a4a4a" stroke-width="0.6"/>
<text x="199.3" y="247.1" font-size="5.1" font-family='"Liberation Sans", sans-serif' text-anchor="end" fill="#3a3a3a" stroke="#3a3a3a">6.0</text>
<line x1="200.5" y1="235.26" x2="201.8" y2="235.26" stroke="#4a4a4a" stroke-width="0.6"/>
<text x="199.3" y="237.06" font-size="5.1" font-family='"Liberation Sans", sans-serif' text-anchor="end" fill="#3a3a3a" stroke="#3a3a3a">7.2</text>
<line x1="208.1" y1="295.5" x2="208.1" y2="294.2" stroke="#4a4a4a" stroke-width="0.6"/>
<text x="208.1" y="301.1" font-size="5.1" font-family='"Liberation Sans", sans-serif' text-anchor="middle" fill="#3a3a3a" stroke="#3a3a3a">0</text>
<line x1="223.8" y1="295.5" x2="223.8" y2="294.2" stroke="#4a4a4a" stroke-width="0.6"/>
<text x="223.8" y="301.1" font-size="5.1" font-family='"Liberation Sans", sans-serif' text-anchor="middle" fill="#3a3a3a" stroke="#3a3a3a">10</text>
<line x1="239.5" y1="295.5" x2="239.5" y2="294.2" stroke="#4a4a4a" stroke-width="0.6"/>
<text x="239.5" y="301.1" font-size="5.1" font-family='"Liberation Sans", sans-serif' text-anchor="middle" fill="#3a3a3a" stroke="#3a3a3a">20</text>
<line x1="255.2" y1="295.5" x2="255.2" y2="294.2" stroke="#4a4a4a" stroke-width="0.6"/>
<text x="255.2" y="301.1" font-size="5.1" font-family='"Liberation Sans", sans-serif' text-anchor="middle" fill="#3a3a3a" stroke="#3a3a3a">30</text>
<line x1="270.9" y1="295.5" x2="270.9" y2="294.2" stroke="#4a4a4a" stroke-width="0.6"/>
<text x="270.9" y="301.1" font-size="5.1" font-family='"Liberation Sans", sans-serif' text-anchor="middle" fill="#3a3a3a" stroke="#3a3a3a">40</text>
<text x="242" y="305.7" font-size="5.4" font-family='"Liberation Sans", sans-serif' text-anchor="middle" fill="#3a3a3a" stroke="#3a3a3a">Time(min)</text>
<text transform="translate(190.1,263.5) rotate(-90)" font-size="5.4" font-family='"Liberation Sans", sans-serif' text-anchor="middle" fill="#3a3a3a" stroke="#3a3a3a">Output Value</text>
<text x="271" y="241.8" font-size="5.2" font-family='"Liberation Sans", sans-serif' text-anchor="end" fill="#666" stroke="#666"><tspan fill="#f2283f" font-weight="bold" stroke="#f2283f">5.85</tspan><tspan dx="1.3">5.95</tspan></text>
<path d="M126.3,93.2 L124.5,93.2 L124.5,107.9 L126.3,107.9" stroke="#777" stroke-width="0.75" fill="none"/>
<path d="M141.7,93.2 L143.5,93.2 L143.5,107.9 L141.7,107.9" stroke="#777" stroke-width="0.75" fill="none"/>
<text x="134" y="91.5" font-size="6.3" font-family='"Liberation Serif", serif' text-anchor="middle" font-weight="bold" font-style="italic" fill="#222" stroke="#222">W =</text>
<text x="133.9" y="99" font-size="6.4" font-family='"Liberation Sans", sans-serif' text-anchor="middle" fill="#3a3a3a" stroke="#3a3a3a">0.60</text>
<text x="133.9" y="106.9" font-size="6.4" font-family='"Liberation Sans", sans-serif' text-anchor="middle" fill="#3a3a3a" stroke="#3a3a3a">0.70</text>
<path d="M150.3,93.2 L148.5,93.2 L148.5,107.9 L150.3,107.9" stroke="#777" stroke-width="0.75" fill="none"/>
<path d="M166.7,93.2 L168.5,93.2 L168.5,107.9 L166.7,107.9" stroke="#777" stroke-width="0.75" fill="none"/>
<text x="158.7" y="91.5" font-size="6.3" font-family='"Liberation Serif", serif' text-anchor="middle" font-weight="bold" font-style="italic" fill="#222" stroke="#222">I =</text>
<text x="158.6" y="99" font-size="6.4" font-family='"Liberation Sans", sans-serif' text-anchor="middle" fill="#3a3a3a" stroke="#3a3a3a">0.40</text>
<text x="158.6" y="106.9" font-size="6.4" font-family='"Liberation Sans", sans-serif' text-anchor="middle" fill="#3a3a3a" stroke="#3a3a3a">0.20</text>
<path d="M288.3,93.3 L286.5,93.3 L286.5,108.3 L288.3,108.3" stroke="#777" stroke-width="0.75" fill="none"/>
<path d="M304.7,93.3 L306.5,93.3 L306.5,108.3 L304.7,108.3" stroke="#777" stroke-width="0.75" fill="none"/>
<text x="296.65" y="91.3" font-size="6.3" font-family='"Liberation Serif", serif' text-anchor="middle" font-weight="bold" font-style="italic" fill="#222" stroke="#222">W =</text>
<text x="296.55" y="99.3" font-size="6.4" font-family='"Liberation Sans", sans-serif' text-anchor="middle" fill="#3a3a3a" stroke="#3a3a3a">1.00</text>
<text x="296.55" y="107.2" font-size="6.4" font-family='"Liberation Sans", sans-serif' text-anchor="middle" fill="#3a3a3a" stroke="#3a3a3a">0.90</text>
<path d="M313.3,93.3 L311.5,93.3 L311.5,108.3 L313.3,108.3" stroke="#777" stroke-width="0.75" fill="none"/>
<path d="M328.7,93.3 L330.5,93.3 L330.5,108.3 L328.7,108.3" stroke="#777" stroke-width="0.75" fill="none"/>
<text x="321.1" y="91.3" font-size="6.3" font-family='"Liberation Serif", serif' text-anchor="middle" font-weight="bold" font-style="italic" fill="#222" stroke="#222">I =</text>
<text x="321" y="99.3" font-size="6.4" font-family='"Liberation Sans", sans-serif' text-anchor="middle" fill="#3a3a3a" stroke="#3a3a3a">0.80</text>
<text x="321" y="107.2" font-size="6.4" font-family='"Liberation Sans", sans-serif' text-anchor="middle" fill="#3a3a3a" stroke="#3a3a3a">1.00</text>
<path d="M125.3,169.7 L123.5,169.7 L123.5,200.2 L125.3,200.2" stroke="#777" stroke-width="0.75" fill="none"/>
<path d="M141.7,169.7 L143.5,169.7 L143.5,200.2 L141.7,200.2" stroke="#777" stroke-width="0.75" fill="none"/>
<text x="134.1" y="166.5" font-size="6.3" font-family='"Liberation Serif", serif' text-anchor="middle" font-weight="bold" font-style="italic" fill="#222" stroke="#222">W =</text>
<text x="134" y="175.7" font-size="6.4" font-family='"Liberation Sans", sans-serif' text-anchor="middle" fill="#3a3a3a" stroke="#3a3a3a">0.40</text>
<text x="134" y="183.7" font-size="6.4" font-family='"Liberation Sans", sans-serif' text-anchor="middle" fill="#3a3a3a" stroke="#3a3a3a">0.80</text>
<text x="134" y="191.7" font-size="6.4" font-family='"Liberation Sans", sans-serif' text-anchor="middle" fill="#3a3a3a" stroke="#3a3a3a">1.00</text>
<text x="134" y="199.7" font-size="6.4" font-family='"Liberation Sans", sans-serif' text-anchor="middle" fill="#3a3a3a" stroke="#3a3a3a">0.20</text>
<path d="M150.3,169.7 L148.5,169.7 L148.5,200.2 L150.3,200.2" stroke="#777" stroke-width="0.75" fill="none"/>
<path d="M166.7,169.7 L168.5,169.7 L168.5,200.2 L166.7,200.2" stroke="#777" stroke-width="0.75" fill="none"/>
<text x="158.65" y="166.5" font-size="6.3" font-family='"Liberation Serif", serif' text-anchor="middle" font-weight="bold" font-style="italic" fill="#222" stroke="#222">I =</text>
<text x="158.55" y="175.7" font-size="6.4" font-family='"Liberation Sans", sans-serif' text-anchor="middle" fill="#3a3a3a" stroke="#3a3a3a">1.00</text>
<text x="158.55" y="183.7" font-size="6.4" font-family='"Liberation Sans", sans-serif' text-anchor="middle" fill="#3a3a3a" stroke="#3a3a3a">0.60</text>
<text x="158.55" y="191.7" font-size="6.4" font-family='"Liberation Sans", sans-serif' text-anchor="middle" fill="#3a3a3a" stroke="#3a3a3a">0.80</text>
<text x="158.55" y="199.7" font-size="6.4" font-family='"Liberation Sans", sans-serif' text-anchor="middle" fill="#3a3a3a" stroke="#3a3a3a">0.20</text>
<path d="M288.3,169.7 L286.5,169.7 L286.5,200.2 L288.3,200.2" stroke="#777" stroke-width="0.75" fill="none"/>
<path d="M304.7,169.7 L306.5,169.7 L306.5,200.2 L304.7,200.2" stroke="#777" stroke-width="0.75" fill="none"/>
<text x="296.65" y="166.3" font-size="6.3" font-family='"Liberation Serif", serif' text-anchor="middle" font-weight="bold" font-style="italic" fill="#222" stroke="#222">W =</text>
<text x="296.55" y="176.3" font-size="6.4" font-family='"Liberation Sans", sans-serif' text-anchor="middle" fill="#3a3a3a" stroke="#3a3a3a">1.00</text>
<text x="296.55" y="184.05" font-size="6.4" font-family='"Liberation Sans", sans-serif' text-anchor="middle" fill="#3a3a3a" stroke="#3a3a3a">0.80</text>
<text x="296.55" y="191.8" font-size="6.4" font-family='"Liberation Sans", sans-serif' text-anchor="middle" fill="#3a3a3a" stroke="#3a3a3a">1.00</text>
<text x="296.55" y="199.55" font-size="6.4" font-family='"Liberation Sans", sans-serif' text-anchor="middle" fill="#3a3a3a" stroke="#3a3a3a">1.00</text>
<path d="M313.3,169.7 L311.5,169.7 L311.5,200.2 L313.3,200.2" stroke="#777" stroke-width="0.75" fill="none"/>
<path d="M328.7,169.7 L330.5,169.7 L330.5,200.2 L328.7,200.2" stroke="#777" stroke-width="0.75" fill="none"/>
<text x="321.1" y="166.3" font-size="6.3" font-family='"Liberation Serif", serif' text-anchor="middle" font-weight="bold" font-style="italic" fill="#222" stroke="#222">I =</text>
<text x="321" y="176.3" font-size="6.4" font-family='"Liberation Sans", sans-serif' text-anchor="middle" fill="#3a3a3a" stroke="#3a3a3a">1.00</text>
<text x="321" y="184.05" font-size="6.4" font-family='"Liberation Sans", sans-serif' text-anchor="middle" fill="#3a3a3a" stroke="#3a3a3a">0.60</text>
<text x="321" y="191.8" font-size="6.4" font-family='"Liberation Sans", sans-serif' text-anchor="middle" fill="#3a3a3a" stroke="#3a3a3a">0.80</text>
<text x="321" y="199.55" font-size="6.4" font-family='"Liberation Sans", sans-serif' text-anchor="middle" fill="#3a3a3a" stroke="#3a3a3a">1.00</text>
<path d="M126.3,233.4 L124.5,233.4 L124.5,292.9 L126.3,292.9" stroke="#777" stroke-width="0.75" fill="none"/>
<path d="M142.7,233.4 L144.5,233.4 L144.5,292.9 L142.7,292.9" stroke="#777" stroke-width="0.75" fill="none"/>
<text x="134.55" y="229.6" font-size="6.3" font-family='"Liberation Serif", serif' text-anchor="middle" font-weight="bold" font-style="italic" fill="#222" stroke="#222">W =</text>
<text x="134.45" y="238.2" font-size="6.4" font-family='"Liberation Sans", sans-serif' text-anchor="middle" fill="#3a3a3a" stroke="#3a3a3a">0.80</text>
<text x="134.45" y="245.87" font-size="6.4" font-family='"Liberation Sans", sans-serif' text-anchor="middle" fill="#3a3a3a" stroke="#3a3a3a">0.60</text>
<text x="134.45" y="253.54" font-size="6.4" font-family='"Liberation Sans", sans-serif' text-anchor="middle" fill="#3a3a3a" stroke="#3a3a3a">0.40</text>
<text x="134.45" y="261.21" font-size="6.4" font-family='"Liberation Sans", sans-serif' text-anchor="middle" fill="#3a3a3a" stroke="#3a3a3a">0.80</text>
<text x="134.45" y="268.88" font-size="6.4" font-family='"Liberation Sans", sans-serif' text-anchor="middle" fill="#3a3a3a" stroke="#3a3a3a">0.60</text>
<text x="134.45" y="276.55" font-size="6.4" font-family='"Liberation Sans", sans-serif' text-anchor="middle" fill="#3a3a3a" stroke="#3a3a3a">1.00</text>
<text x="134.45" y="284.22" font-size="6.4" font-family='"Liberation Sans", sans-serif' text-anchor="middle" fill="#3a3a3a" stroke="#3a3a3a">1.00</text>
<text x="134.45" y="291.89" font-size="6.4" font-family='"Liberation Sans", sans-serif' text-anchor="middle" fill="#3a3a3a" stroke="#3a3a3a">0.40</text>
<path d="M151.3,233.4 L149.5,233.4 L149.5,292.9 L151.3,292.9" stroke="#777" stroke-width="0.75" fill="none"/>
<path d="M166.7,233.4 L168.5,233.4 L168.5,292.9 L166.7,292.9" stroke="#777" stroke-width="0.75" fill="none"/>
<text x="159.55" y="229.6" font-size="6.3" font-family='"Liberation Serif", serif' text-anchor="middle" font-weight="bold" font-style="italic" fill="#222" stroke="#222">I =</text>
<text x="159.45" y="238.2" font-size="6.4" font-family='"Liberation Sans", sans-serif' text-anchor="middle" fill="#3a3a3a" stroke="#3a3a3a">0.50</text>
<text x="159.45" y="245.87" font-size="6.4" font-family='"Liberation Sans", sans-serif' text-anchor="middle" fill="#3a3a3a" stroke="#3a3a3a">0.50</text>
<text x="159.45" y="253.54" font-size="6.4" font-family='"Liberation Sans", sans-serif' text-anchor="middle" fill="#3a3a3a" stroke="#3a3a3a">0.25</text>
<text x="159.45" y="261.21" font-size="6.4" font-family='"Liberation Sans", sans-serif' text-anchor="middle" fill="#3a3a3a" stroke="#3a3a3a">0.75</text>
<text x="159.45" y="268.88" font-size="6.4" font-family='"Liberation Sans", sans-serif' text-anchor="middle" fill="#3a3a3a" stroke="#3a3a3a">1.00</text>
<text x="159.45" y="276.55" font-size="6.4" font-family='"Liberation Sans", sans-serif' text-anchor="middle" fill="#3a3a3a" stroke="#3a3a3a">0.25</text>
<text x="159.45" y="284.22" font-size="6.4" font-family='"Liberation Sans", sans-serif' text-anchor="middle" fill="#3a3a3a" stroke="#3a3a3a">0.75</text>
<text x="159.45" y="291.89" font-size="6.4" font-family='"Liberation Sans", sans-serif' text-anchor="middle" fill="#3a3a3a" stroke="#3a3a3a">1.00</text>
<path d="M288.3,232.7 L286.5,232.7 L286.5,292.5 L288.3,292.5" stroke="#777" stroke-width="0.75" fill="none"/>
<path d="M304.7,232.7 L306.5,232.7 L306.5,292.5 L304.7,292.5" stroke="#777" stroke-width="0.75" fill="none"/>
<text x="296.4" y="229" font-size="6.3" font-family='"Liberation Serif", serif' text-anchor="middle" font-weight="bold" font-style="italic" fill="#222" stroke="#222">W =</text>
<text x="296.3" y="237.3" font-size="6.4" font-family='"Liberation Sans", sans-serif' text-anchor="middle" fill="#3a3a3a" stroke="#3a3a3a">0.80</text>
<text x="296.3" y="245.1" font-size="6.4" font-family='"Liberation Sans", sans-serif' text-anchor="middle" fill="#3a3a3a" stroke="#3a3a3a">0.60</text>
<text x="296.3" y="252.9" font-size="6.4" font-family='"Liberation Sans", sans-serif' text-anchor="middle" fill="#3a3a3a" stroke="#3a3a3a">1.00</text>
<text x="296.3" y="260.7" font-size="6.4" font-family='"Liberation Sans", sans-serif' text-anchor="middle" fill="#3a3a3a" stroke="#3a3a3a">1.00</text>
<text x="296.3" y="268.5" font-size="6.4" font-family='"Liberation Sans", sans-serif' text-anchor="middle" fill="#3a3a3a" stroke="#3a3a3a">0.60</text>
<text x="296.3" y="276.3" font-size="6.4" font-family='"Liberation Sans", sans-serif' text-anchor="middle" fill="#3a3a3a" stroke="#3a3a3a">1.00</text>
<text x="296.3" y="284.1" font-size="6.4" font-family='"Liberation Sans", sans-serif' text-anchor="middle" fill="#3a3a3a" stroke="#3a3a3a">1.00</text>
<text x="296.3" y="291.9" font-size="6.4" font-family='"Liberation Sans", sans-serif' text-anchor="middle" fill="#3a3a3a" stroke="#3a3a3a">0.80</text>
<path d="M313.3,232.7 L311.5,232.7 L311.5,292.5 L313.3,292.5" stroke="#777" stroke-width="0.75" fill="none"/>
<path d="M328.7,232.7 L330.5,232.7 L330.5,292.5 L328.7,292.5" stroke="#777" stroke-width="0.75" fill="none"/>
<text x="321.2" y="229" font-size="6.3" font-family='"Liberation Serif", serif' text-anchor="middle" font-weight="bold" font-style="italic" fill="#222" stroke="#222">I =</text>
<text x="321.1" y="237.3" font-size="6.4" font-family='"Liberation Sans", sans-serif' text-anchor="middle" fill="#3a3a3a" stroke="#3a3a3a">0.75</text>
<text x="321.1" y="245.1" font-size="6.4" font-family='"Liberation Sans", sans-serif' text-anchor="middle" fill="#3a3a3a" stroke="#3a3a3a">0.75</text>
<text x="321.1" y="252.9" font-size="6.4" font-family='"Liberation Sans", sans-serif' text-anchor="middle" fill="#3a3a3a" stroke="#3a3a3a">1.00</text>
<text x="321.1" y="260.7" font-size="6.4" font-family='"Liberation Sans", sans-serif' text-anchor="middle" fill="#3a3a3a" stroke="#3a3a3a">1.00</text>
<text x="321.1" y="268.5" font-size="6.4" font-family='"Liberation Sans", sans-serif' text-anchor="middle" fill="#3a3a3a" stroke="#3a3a3a">1.00</text>
<text x="321.1" y="276.3" font-size="6.4" font-family='"Liberation Sans", sans-serif' text-anchor="middle" fill="#3a3a3a" stroke="#3a3a3a">0.75</text>
<text x="321.1" y="284.1" font-size="6.4" font-family='"Liberation Sans", sans-serif' text-anchor="middle" fill="#3a3a3a" stroke="#3a3a3a">0.75</text>
<text x="321.1" y="291.9" font-size="6.4" font-family='"Liberation Sans", sans-serif' text-anchor="middle" fill="#3a3a3a" stroke="#3a3a3a">1.00</text>
<rect x="40.5" y="424.53" width="80" height="1.23" fill="#fcd8c8" opacity="0.85"/>
<line x1="40.5" y1="425.15" x2="120.5" y2="425.15" stroke="#f59c82" stroke-width="0.7" stroke-dasharray="1.4,0.9"/>
<path d="M48.10,426.45 L48.50,426.44 L48.91,426.43 L49.31,426.43 L49.71,426.42 L50.11,426.41 L50.52,426.40 L50.92,426.39 L51.32,426.38 L51.72,426.37 L52.12,426.36 L52.53,426.35 L52.93,426.35 L53.33,426.34 L53.73,426.33 L54.14,426.32 L54.54,426.31 L54.94,426.30 L55.34,426.29 L55.75,426.28 L56.15,426.27 L56.55,426.27 L56.95,426.26 L57.36,426.25 L57.76,426.24 L58.16,426.23 L58.56,426.22 L58.97,426.21 L59.37,426.21 L59.77,426.20 L60.18,426.19 L60.58,426.18 L60.98,426.18 L61.38,426.17 L61.79,426.16 L62.19,426.16 L62.59,426.15 L62.99,426.14 L63.40,426.14 L63.80,426.13 L64.20,426.12 L64.60,426.12 L65.00,426.11 L65.41,426.11 L65.81,426.10 L66.21,426.10 L66.62,426.09 L67.02,426.09 L67.42,426.08 L67.82,426.08 L68.23,426.07 L68.63,426.07 L69.03,426.07 L69.43,426.06 L69.84,426.06 L70.24,426.05 L70.64,426.05 L71.04,426.04 L71.45,426.04 L71.85,426.04 L72.25,426.03 L72.65,426.03 L73.06,426.02 L73.46,426.02 L73.86,426.02 L74.26,426.01 L74.67,426.01 L75.07,426.01 L75.47,426.00 L75.87,426.00 L76.28,425.99 L76.68,425.99 L77.08,425.99 L77.48,425.98 L77.89,425.98 L78.29,425.98 L78.69,425.97 L79.09,425.97 L79.50,425.97 L79.90,425.97 L80.30,425.96 L80.70,425.96 L81.11,425.96 L81.51,425.95 L81.91,425.95 L82.31,425.95 L82.72,425.94 L83.12,425.94 L83.52,425.94 L83.92,425.94 L84.33,425.93 L84.73,425.93 L85.13,425.93 L85.53,425.93 L85.94,425.92 L86.34,425.92 L86.74,425.92 L87.14,425.92 L87.55,425.91 L87.95,425.91 L88.35,425.91 L88.75,425.91 L89.16,425.90 L89.56,425.90 L89.96,425.90 L90.36,425.90 L90.77,425.89 L91.17,425.89 L91.57,425.89 L91.97,425.89 L92.38,425.89 L92.78,425.88 L93.18,425.88 L93.58,425.88 L93.99,425.88 L94.39,425.87 L94.79,425.87 L95.19,425.87 L95.59,425.87 L96.00,425.87 L96.40,425.87 L96.80,425.86 L97.21,425.86 L97.61,425.86 L98.01,425.86 L98.41,425.86 L98.81,425.85 L99.22,425.85 L99.62,425.85 L100.02,425.85 L100.43,425.85 L100.83,425.85 L101.23,425.84 L101.63,425.84 L102.03,425.84 L102.44,425.84 L102.84,425.84 L103.24,425.84 L103.65,425.83 L104.05,425.83 L104.45,425.83 L104.85,425.83 L105.26,425.83 L105.66,425.83 L106.06,425.82 L106.46,425.82 L106.87,425.82 L107.27,425.82 L107.67,425.82 L108.07,425.82 L108.47,425.82 L108.88,425.81 L109.28,425.81 L109.68,425.81 L110.09,425.81 L110.49,425.81 L110.89,425.81 L111.29,425.80 L111.70,425.80 L112.10,425.80 L112.50,425.80" stroke="#f6450e" stroke-width="1.9" fill="none" stroke-linejoin="round" stroke-linecap="round"/>
<rect x="40.5" y="372.5" width="80" height="65" fill="none" stroke="#4a4a4a" stroke-width="0.9"/>
<line x1="40.5" y1="437.5" x2="41.8" y2="437.5" stroke="#4a4a4a" stroke-width="0.6"/>
<text x="39.3" y="439.3" font-size="5.1" font-family='"Liberation Sans", sans-serif' text-anchor="end" fill="#3a3a3a" stroke="#3a3a3a">0.0</text>
<line x1="40.5" y1="424.5" x2="41.8" y2="424.5" stroke="#4a4a4a" stroke-width="0.6"/>
<text x="39.3" y="426.3" font-size="5.1" font-family='"Liberation Sans", sans-serif' text-anchor="end" fill="#3a3a3a" stroke="#3a3a3a">0.4</text>
<line x1="40.5" y1="411.5" x2="41.8" y2="411.5" stroke="#4a4a4a" stroke-width="0.6"/>
<text x="39.3" y="413.3" font-size="5.1" font-family='"Liberation Sans", sans-serif' text-anchor="end" fill="#3a3a3a" stroke="#3a3a3a">0.8</text>
<line x1="40.5" y1="398.5" x2="41.8" y2="398.5" stroke="#4a4a4a" stroke-width="0.6"/>
<text x="39.3" y="400.3" font-size="5.1" font-family='"Liberation Sans", sans-serif' text-anchor="end" fill="#3a3a3a" stroke="#3a3a3a">1.2</text>
<line x1="40.5" y1="385.5" x2="41.8" y2="385.5" stroke="#4a4a4a" stroke-width="0.6"/>
<text x="39.3" y="387.3" font-size="5.1" font-family='"Liberation Sans", sans-serif' text-anchor="end" fill="#3a3a3a" stroke="#3a3a3a">1.6</text>
<line x1="40.5" y1="372.5" x2="41.8" y2="372.5" stroke="#4a4a4a" stroke-width="0.6"/>
<text x="39.3" y="374.3" font-size="5.1" font-family='"Liberation Sans", sans-serif' text-anchor="end" fill="#3a3a3a" stroke="#3a3a3a">2.0</text>
<line x1="48.1" y1="437.5" x2="48.1" y2="436.2" stroke="#4a4a4a" stroke-width="0.6"/>
<text x="48.1" y="443.1" font-size="5.1" font-family='"Liberation Sans", sans-serif' text-anchor="middle" fill="#3a3a3a" stroke="#3a3a3a">0</text>
<line x1="64.2" y1="437.5" x2="64.2" y2="436.2" stroke="#4a4a4a" stroke-width="0.6"/>
<text x="64.2" y="443.1" font-size="5.1" font-family='"Liberation Sans", sans-serif' text-anchor="middle" fill="#3a3a3a" stroke="#3a3a3a">10</text>
<line x1="80.3" y1="437.5" x2="80.3" y2="436.2" stroke="#4a4a4a" stroke-width="0.6"/>
<text x="80.3" y="443.1" font-size="5.1" font-family='"Liberation Sans", sans-serif' text-anchor="middle" fill="#3a3a3a" stroke="#3a3a3a">20</text>
<line x1="96.4" y1="437.5" x2="96.4" y2="436.2" stroke="#4a4a4a" stroke-width="0.6"/>
<text x="96.4" y="443.1" font-size="5.1" font-family='"Liberation Sans", sans-serif' text-anchor="middle" fill="#3a3a3a" stroke="#3a3a3a">30</text>
<line x1="112.5" y1="437.5" x2="112.5" y2="436.2" stroke="#4a4a4a" stroke-width="0.6"/>
<text x="112.5" y="443.1" font-size="5.1" font-family='"Liberation Sans", sans-serif' text-anchor="middle" fill="#3a3a3a" stroke="#3a3a3a">40</text>
<text x="83" y="447.7" font-size="5.4" font-family='"Liberation Sans", sans-serif' text-anchor="middle" fill="#3a3a3a" stroke="#3a3a3a">Time(min)</text>
<text transform="translate(29.3,404.5) rotate(-90)" font-size="5.4" font-family='"Liberation Sans", sans-serif' text-anchor="middle" fill="#3a3a3a" stroke="#3a3a3a">Output Value</text>
<text x="114.8" y="422.5" font-size="5.5" font-family='"Liberation Sans", sans-serif' text-anchor="end" fill="#666" stroke="#666"><tspan fill="#f2283f" stroke="#f2283f">0.36</tspan><tspan dx="1.3">0.38</tspan></text>
<rect x="201.5" y="380.38" width="80" height="5.44" fill="#fcd8c8" opacity="0.85"/>
<line x1="201.5" y1="383.1" x2="281.5" y2="383.1" stroke="#f59c82" stroke-width="0.7" stroke-dasharray="1.4,0.9"/>
<path d="M209.70,387.90 L210.10,387.87 L210.50,387.85 L210.90,387.83 L211.30,387.80 L211.70,387.78 L212.10,387.76 L212.50,387.73 L212.91,387.71 L213.31,387.68 L213.71,387.65 L214.11,387.62 L214.51,387.58 L214.91,387.54 L215.31,387.49 L215.71,387.43 L216.11,387.36 L216.51,387.29 L216.91,387.21 L217.31,387.13 L217.71,387.05 L218.11,386.96 L218.51,386.87 L218.91,386.78 L219.31,386.68 L219.72,386.59 L220.12,386.50 L220.52,386.40 L220.92,386.31 L221.32,386.22 L221.72,386.14 L222.12,386.06 L222.52,385.98 L222.92,385.91 L223.32,385.83 L223.72,385.75 L224.12,385.68 L224.52,385.60 L224.92,385.52 L225.32,385.45 L225.72,385.37 L226.13,385.29 L226.53,385.22 L226.93,385.14 L227.33,385.07 L227.73,384.99 L228.13,384.92 L228.53,384.85 L228.93,384.78 L229.33,384.71 L229.73,384.64 L230.13,384.57 L230.53,384.51 L230.93,384.44 L231.33,384.38 L231.73,384.32 L232.13,384.26 L232.54,384.21 L232.94,384.16 L233.34,384.11 L233.74,384.06 L234.14,384.01 L234.54,383.97 L234.94,383.93 L235.34,383.88 L235.74,383.84 L236.14,383.80 L236.54,383.76 L236.94,383.72 L237.34,383.69 L237.74,383.65 L238.14,383.61 L238.54,383.58 L238.95,383.54 L239.35,383.51 L239.75,383.48 L240.15,383.44 L240.55,383.41 L240.95,383.38 L241.35,383.35 L241.75,383.32 L242.15,383.29 L242.55,383.26 L242.95,383.23 L243.35,383.21 L243.75,383.18 L244.15,383.15 L244.55,383.13 L244.95,383.10 L245.36,383.07 L245.76,383.05 L246.16,383.02 L246.56,383.00 L246.96,382.98 L247.36,382.95 L247.76,382.93 L248.16,382.90 L248.56,382.88 L248.96,382.86 L249.36,382.83 L249.76,382.81 L250.16,382.79 L250.56,382.77 L250.96,382.75 L251.37,382.72 L251.77,382.70 L252.17,382.68 L252.57,382.66 L252.97,382.65 L253.37,382.63 L253.77,382.61 L254.17,382.59 L254.57,382.57 L254.97,382.56 L255.37,382.54 L255.77,382.53 L256.17,382.51 L256.57,382.50 L256.97,382.48 L257.37,382.47 L257.77,382.46 L258.18,382.45 L258.58,382.44 L258.98,382.43 L259.38,382.42 L259.78,382.41 L260.18,382.40 L260.58,382.39 L260.98,382.38 L261.38,382.37 L261.78,382.36 L262.18,382.35 L262.58,382.34 L262.98,382.33 L263.38,382.33 L263.78,382.32 L264.19,382.31 L264.59,382.30 L264.99,382.30 L265.39,382.29 L265.79,382.28 L266.19,382.27 L266.59,382.27 L266.99,382.26 L267.39,382.25 L267.79,382.25 L268.19,382.24 L268.59,382.23 L268.99,382.23 L269.39,382.22 L269.79,382.21 L270.19,382.21 L270.60,382.20 L271.00,382.19 L271.40,382.19 L271.80,382.18 L272.20,382.17 L272.60,382.16 L273.00,382.16 L273.40,382.15 L273.80,382.14" stroke="#f6450e" stroke-width="1.9" fill="none" stroke-linejoin="round" stroke-linecap="round"/>
<rect x="201.5" y="373.5" width="80" height="64" fill="none" stroke="#4a4a4a" stroke-width="0.9"/>
<line x1="201.5" y1="437.5" x2="202.8" y2="437.5" stroke="#4a4a4a" stroke-width="0.6"/>
<text x="200.3" y="439.3" font-size="5.1" font-family='"Liberation Sans", sans-serif' text-anchor="end" fill="#3a3a3a" stroke="#3a3a3a">0.0</text>
<line x1="201.5" y1="424.7" x2="202.8" y2="424.7" stroke="#4a4a4a" stroke-width="0.6"/>
<text x="200.3" y="426.5" font-size="5.1" font-family='"Liberation Sans", sans-serif' text-anchor="end" fill="#3a3a3a" stroke="#3a3a3a">0.4</text>
<line x1="201.5" y1="411.9" x2="202.8" y2="411.9" stroke="#4a4a4a" stroke-width="0.6"/>
<text x="200.3" y="413.7" font-size="5.1" font-family='"Liberation Sans", sans-serif' text-anchor="end" fill="#3a3a3a" stroke="#3a3a3a">0.8</text>
<line x1="201.5" y1="399.1" x2="202.8" y2="399.1" stroke="#4a4a4a" stroke-width="0.6"/>
<text x="200.3" y="400.9" font-size="5.1" font-family='"Liberation Sans", sans-serif' text-anchor="end" fill="#3a3a3a" stroke="#3a3a3a">1.2</text>
<line x1="201.5" y1="386.3" x2="202.8" y2="386.3" stroke="#4a4a4a" stroke-width="0.6"/>
<text x="200.3" y="388.1" font-size="5.1" font-family='"Liberation Sans", sans-serif' text-anchor="end" fill="#3a3a3a" stroke="#3a3a3a">1.6</text>
<line x1="201.5" y1="373.5" x2="202.8" y2="373.5" stroke="#4a4a4a" stroke-width="0.6"/>
<text x="200.3" y="375.3" font-size="5.1" font-family='"Liberation Sans", sans-serif' text-anchor="end" fill="#3a3a3a" stroke="#3a3a3a">2.0</text>
<line x1="209.7" y1="437.5" x2="209.7" y2="436.2" stroke="#4a4a4a" stroke-width="0.6"/>
<text x="209.7" y="443.1" font-size="5.1" font-family='"Liberation Sans", sans-serif' text-anchor="middle" fill="#3a3a3a" stroke="#3a3a3a">0</text>
<line x1="225.72" y1="437.5" x2="225.72" y2="436.2" stroke="#4a4a4a" stroke-width="0.6"/>
<text x="225.72" y="443.1" font-size="5.1" font-family='"Liberation Sans", sans-serif' text-anchor="middle" fill="#3a3a3a" stroke="#3a3a3a">10</text>
<line x1="241.75" y1="437.5" x2="241.75" y2="436.2" stroke="#4a4a4a" stroke-width="0.6"/>
<text x="241.75" y="443.1" font-size="5.1" font-family='"Liberation Sans", sans-serif' text-anchor="middle" fill="#3a3a3a" stroke="#3a3a3a">20</text>
<line x1="257.77" y1="437.5" x2="257.77" y2="436.2" stroke="#4a4a4a" stroke-width="0.6"/>
<text x="257.77" y="443.1" font-size="5.1" font-family='"Liberation Sans", sans-serif' text-anchor="middle" fill="#3a3a3a" stroke="#3a3a3a">30</text>
<line x1="273.8" y1="437.5" x2="273.8" y2="436.2" stroke="#4a4a4a" stroke-width="0.6"/>
<text x="273.8" y="443.1" font-size="5.1" font-family='"Liberation Sans", sans-serif' text-anchor="middle" fill="#3a3a3a" stroke="#3a3a3a">40</text>
<text x="244" y="447.7" font-size="5.4" font-family='"Liberation Sans", sans-serif' text-anchor="middle" fill="#3a3a3a" stroke="#3a3a3a">Time(min)</text>
<text transform="translate(191.1,405) rotate(-90)" font-size="5.4" font-family='"Liberation Sans", sans-serif' text-anchor="middle" fill="#3a3a3a" stroke="#3a3a3a">Output Value</text>
<text x="274.9" y="379.8" font-size="5.4" font-family='"Liberation Sans", sans-serif' text-anchor="end" fill="#666" stroke="#666"><tspan fill="#f2283f" stroke="#f2283f">1.73</tspan><tspan dx="0.6">1.70</tspan></text>
<rect x="39.5" y="496.6" width="82" height="2.75" fill="#fcd8c8" opacity="0.85"/>
<line x1="39.5" y1="497.98" x2="121.5" y2="497.98" stroke="#f59c82" stroke-width="0.7" stroke-dasharray="1.4,0.9"/>
<path d="M47.90,509.50 L48.31,509.20 L48.71,508.89 L49.12,508.57 L49.53,508.26 L49.94,507.95 L50.34,507.66 L50.75,507.37 L51.16,507.10 L51.57,506.84 L51.97,506.58 L52.38,506.33 L52.79,506.07 L53.20,505.83 L53.60,505.59 L54.01,505.36 L54.42,505.14 L54.83,504.93 L55.23,504.73 L55.64,504.55 L56.05,504.38 L56.46,504.22 L56.86,504.07 L57.27,503.91 L57.68,503.77 L58.09,503.62 L58.49,503.48 L58.90,503.35 L59.31,503.22 L59.72,503.09 L60.12,502.97 L60.53,502.85 L60.94,502.73 L61.35,502.62 L61.75,502.52 L62.16,502.42 L62.57,502.32 L62.98,502.23 L63.38,502.14 L63.79,502.06 L64.20,501.98 L64.61,501.90 L65.02,501.83 L65.42,501.76 L65.83,501.69 L66.24,501.62 L66.64,501.55 L67.05,501.48 L67.46,501.41 L67.87,501.35 L68.27,501.28 L68.68,501.22 L69.09,501.16 L69.50,501.10 L69.91,501.04 L70.31,500.98 L70.72,500.92 L71.13,500.87 L71.53,500.81 L71.94,500.76 L72.35,500.70 L72.76,500.65 L73.16,500.60 L73.57,500.55 L73.98,500.51 L74.39,500.46 L74.79,500.42 L75.20,500.37 L75.61,500.33 L76.02,500.29 L76.42,500.25 L76.83,500.21 L77.24,500.17 L77.65,500.13 L78.05,500.09 L78.46,500.06 L78.87,500.02 L79.28,499.99 L79.69,499.96 L80.09,499.93 L80.50,499.90 L80.91,499.87 L81.31,499.84 L81.72,499.82 L82.13,499.79 L82.54,499.76 L82.94,499.74 L83.35,499.71 L83.76,499.69 L84.17,499.66 L84.57,499.64 L84.98,499.62 L85.39,499.60 L85.80,499.57 L86.20,499.55 L86.61,499.53 L87.02,499.51 L87.43,499.49 L87.83,499.47 L88.24,499.45 L88.65,499.43 L89.06,499.41 L89.46,499.39 L89.87,499.37 L90.28,499.36 L90.69,499.34 L91.09,499.32 L91.50,499.31 L91.91,499.29 L92.32,499.27 L92.72,499.26 L93.13,499.24 L93.54,499.22 L93.95,499.21 L94.35,499.19 L94.76,499.18 L95.17,499.16 L95.58,499.15 L95.98,499.13 L96.39,499.12 L96.80,499.10 L97.21,499.09 L97.61,499.07 L98.02,499.06 L98.43,499.04 L98.84,499.03 L99.24,499.01 L99.65,499.00 L100.06,498.99 L100.47,498.98 L100.87,498.96 L101.28,498.95 L101.69,498.94 L102.10,498.93 L102.50,498.91 L102.91,498.90 L103.32,498.89 L103.73,498.88 L104.13,498.87 L104.54,498.86 L104.95,498.85 L105.36,498.83 L105.76,498.82 L106.17,498.81 L106.58,498.80 L106.99,498.79 L107.39,498.78 L107.80,498.77 L108.21,498.76 L108.62,498.75 L109.02,498.73 L109.43,498.72 L109.84,498.71 L110.25,498.70 L110.65,498.69 L111.06,498.68 L111.47,498.67 L111.88,498.66 L112.28,498.64 L112.69,498.63 L113.10,498.62" stroke="#f6450e" stroke-width="1.9" fill="none" stroke-linejoin="round" stroke-linecap="round"/>
<rect x="39.5" y="461.5" width="82" height="64" fill="none" stroke="#4a4a4a" stroke-width="0.9"/>
<line x1="39.5" y1="525.5" x2="40.8" y2="525.5" stroke="#4a4a4a" stroke-width="0.6"/>
<text x="38.3" y="527.3" font-size="5.1" font-family='"Liberation Sans", sans-serif' text-anchor="end" fill="#3a3a3a" stroke="#3a3a3a">0.0</text>
<line x1="39.5" y1="512.7" x2="40.8" y2="512.7" stroke="#4a4a4a" stroke-width="0.6"/>
<text x="38.3" y="514.5" font-size="5.1" font-family='"Liberation Sans", sans-serif' text-anchor="end" fill="#3a3a3a" stroke="#3a3a3a">0.8</text>
<line x1="39.5" y1="499.9" x2="40.8" y2="499.9" stroke="#4a4a4a" stroke-width="0.6"/>
<text x="38.3" y="501.7" font-size="5.1" font-family='"Liberation Sans", sans-serif' text-anchor="end" fill="#3a3a3a" stroke="#3a3a3a">1.6</text>
<line x1="39.5" y1="487.1" x2="40.8" y2="487.1" stroke="#4a4a4a" stroke-width="0.6"/>
<text x="38.3" y="488.9" font-size="5.1" font-family='"Liberation Sans", sans-serif' text-anchor="end" fill="#3a3a3a" stroke="#3a3a3a">2.4</text>
<line x1="39.5" y1="474.3" x2="40.8" y2="474.3" stroke="#4a4a4a" stroke-width="0.6"/>
<text x="38.3" y="476.1" font-size="5.1" font-family='"Liberation Sans", sans-serif' text-anchor="end" fill="#3a3a3a" stroke="#3a3a3a">3.2</text>
<line x1="39.5" y1="461.5" x2="40.8" y2="461.5" stroke="#4a4a4a" stroke-width="0.6"/>
<text x="38.3" y="463.3" font-size="5.1" font-family='"Liberation Sans", sans-serif' text-anchor="end" fill="#3a3a3a" stroke="#3a3a3a">4.0</text>
<line x1="47.9" y1="525.5" x2="47.9" y2="524.2" stroke="#4a4a4a" stroke-width="0.6"/>
<text x="47.9" y="531.1" font-size="5.1" font-family='"Liberation Sans", sans-serif' text-anchor="middle" fill="#3a3a3a" stroke="#3a3a3a">0</text>
<line x1="64.2" y1="525.5" x2="64.2" y2="524.2" stroke="#4a4a4a" stroke-width="0.6"/>
<text x="64.2" y="531.1" font-size="5.1" font-family='"Liberation Sans", sans-serif' text-anchor="middle" fill="#3a3a3a" stroke="#3a3a3a">10</text>
<line x1="80.5" y1="525.5" x2="80.5" y2="524.2" stroke="#4a4a4a" stroke-width="0.6"/>
<text x="80.5" y="531.1" font-size="5.1" font-family='"Liberation Sans", sans-serif' text-anchor="middle" fill="#3a3a3a" stroke="#3a3a3a">20</text>
<line x1="96.8" y1="525.5" x2="96.8" y2="524.2" stroke="#4a4a4a" stroke-width="0.6"/>
<text x="96.8" y="531.1" font-size="5.1" font-family='"Liberation Sans", sans-serif' text-anchor="middle" fill="#3a3a3a" stroke="#3a3a3a">30</text>
<line x1="113.1" y1="525.5" x2="113.1" y2="524.2" stroke="#4a4a4a" stroke-width="0.6"/>
<text x="113.1" y="531.1" font-size="5.1" font-family='"Liberation Sans", sans-serif' text-anchor="middle" fill="#3a3a3a" stroke="#3a3a3a">40</text>
<text x="83" y="535.7" font-size="5.4" font-family='"Liberation Sans", sans-serif' text-anchor="middle" fill="#3a3a3a" stroke="#3a3a3a">Time(min)</text>
<text transform="translate(28.6,493) rotate(-90)" font-size="5.4" font-family='"Liberation Sans", sans-serif' text-anchor="middle" fill="#3a3a3a" stroke="#3a3a3a">Output Value</text>
<text x="115.2" y="496.6" font-size="5.5" font-family='"Liberation Sans", sans-serif' text-anchor="end" fill="#666" stroke="#666"><tspan fill="#f2283f" stroke="#f2283f">1.68</tspan><tspan dx="0.4">1.72</tspan></text>
<rect x="201.5" y="471.26" width="80" height="5.17" fill="#fcd8c8" opacity="0.85"/>
<line x1="201.5" y1="473.84" x2="281.5" y2="473.84" stroke="#f59c82" stroke-width="0.7" stroke-dasharray="1.4,0.9"/>
<path d="M209.70,492.43 L210.10,491.39 L210.50,490.32 L210.90,489.32 L211.29,488.49 L211.69,487.80 L212.09,487.15 L212.49,486.56 L212.89,486.01 L213.29,485.50 L213.69,485.04 L214.09,484.61 L214.48,484.24 L214.88,483.88 L215.28,483.55 L215.68,483.23 L216.08,482.92 L216.48,482.63 L216.88,482.35 L217.28,482.08 L217.67,481.82 L218.07,481.58 L218.47,481.35 L218.87,481.12 L219.27,480.91 L219.67,480.71 L220.07,480.51 L220.47,480.32 L220.86,480.14 L221.26,479.96 L221.66,479.79 L222.06,479.63 L222.46,479.46 L222.86,479.30 L223.26,479.15 L223.66,479.00 L224.05,478.86 L224.45,478.72 L224.85,478.58 L225.25,478.45 L225.65,478.32 L226.05,478.20 L226.45,478.08 L226.85,477.96 L227.25,477.85 L227.64,477.75 L228.04,477.65 L228.44,477.55 L228.84,477.46 L229.24,477.37 L229.64,477.29 L230.04,477.20 L230.44,477.12 L230.83,477.04 L231.23,476.96 L231.63,476.88 L232.03,476.81 L232.43,476.73 L232.83,476.66 L233.23,476.59 L233.62,476.52 L234.02,476.45 L234.42,476.38 L234.82,476.32 L235.22,476.25 L235.62,476.19 L236.02,476.13 L236.42,476.07 L236.81,476.01 L237.21,475.96 L237.61,475.90 L238.01,475.85 L238.41,475.79 L238.81,475.74 L239.21,475.69 L239.61,475.64 L240.00,475.59 L240.40,475.55 L240.80,475.50 L241.20,475.46 L241.60,475.42 L242.00,475.37 L242.40,475.33 L242.80,475.29 L243.19,475.25 L243.59,475.21 L243.99,475.17 L244.39,475.13 L244.79,475.09 L245.19,475.05 L245.59,475.02 L245.99,474.98 L246.38,474.94 L246.78,474.91 L247.18,474.87 L247.58,474.84 L247.98,474.81 L248.38,474.77 L248.78,474.74 L249.18,474.71 L249.57,474.68 L249.97,474.65 L250.37,474.61 L250.77,474.58 L251.17,474.56 L251.57,474.53 L251.97,474.50 L252.37,474.47 L252.76,474.44 L253.16,474.42 L253.56,474.39 L253.96,474.36 L254.36,474.34 L254.76,474.31 L255.16,474.29 L255.56,474.27 L255.95,474.24 L256.35,474.22 L256.75,474.20 L257.15,474.18 L257.55,474.15 L257.95,474.13 L258.35,474.11 L258.75,474.09 L259.14,474.07 L259.54,474.06 L259.94,474.04 L260.34,474.02 L260.74,474.00 L261.14,473.98 L261.54,473.97 L261.94,473.95 L262.33,473.94 L262.73,473.92 L263.13,473.90 L263.53,473.89 L263.93,473.87 L264.33,473.86 L264.73,473.84 L265.13,473.83 L265.52,473.81 L265.92,473.80 L266.32,473.79 L266.72,473.77 L267.12,473.76 L267.52,473.74 L267.92,473.73 L268.32,473.71 L268.71,473.70 L269.11,473.69 L269.51,473.67 L269.91,473.66 L270.31,473.64 L270.71,473.63 L271.11,473.62 L271.51,473.60 L271.90,473.59 L272.30,473.57 L272.70,473.56 L273.10,473.54 L273.50,473.52" stroke="#f6450e" stroke-width="1.9" fill="none" stroke-linejoin="round" stroke-linecap="round"/>
<circle cx="209.7" cy="492.43" r="1.2" fill="#f6450e"/>
<rect x="201.5" y="462.5" width="80" height="63" fill="none" stroke="#4a4a4a" stroke-width="0.9"/>
<line x1="201.5" y1="525.5" x2="202.8" y2="525.5" stroke="#4a4a4a" stroke-width="0.6"/>
<text x="200.3" y="527.3" font-size="5.1" font-family='"Liberation Sans", sans-serif' text-anchor="end" fill="#3a3a3a" stroke="#3a3a3a">0.0</text>
<line x1="201.5" y1="512.9" x2="202.8" y2="512.9" stroke="#4a4a4a" stroke-width="0.6"/>
<text x="200.3" y="514.7" font-size="5.1" font-family='"Liberation Sans", sans-serif' text-anchor="end" fill="#3a3a3a" stroke="#3a3a3a">0.8</text>
<line x1="201.5" y1="500.3" x2="202.8" y2="500.3" stroke="#4a4a4a" stroke-width="0.6"/>
<text x="200.3" y="502.1" font-size="5.1" font-family='"Liberation Sans", sans-serif' text-anchor="end" fill="#3a3a3a" stroke="#3a3a3a">1.6</text>
<line x1="201.5" y1="487.7" x2="202.8" y2="487.7" stroke="#4a4a4a" stroke-width="0.6"/>
<text x="200.3" y="489.5" font-size="5.1" font-family='"Liberation Sans", sans-serif' text-anchor="end" fill="#3a3a3a" stroke="#3a3a3a">2.4</text>
<line x1="201.5" y1="475.1" x2="202.8" y2="475.1" stroke="#4a4a4a" stroke-width="0.6"/>
<text x="200.3" y="476.9" font-size="5.1" font-family='"Liberation Sans", sans-serif' text-anchor="end" fill="#3a3a3a" stroke="#3a3a3a">3.2</text>
<line x1="201.5" y1="462.5" x2="202.8" y2="462.5" stroke="#4a4a4a" stroke-width="0.6"/>
<text x="200.3" y="464.3" font-size="5.1" font-family='"Liberation Sans", sans-serif' text-anchor="end" fill="#3a3a3a" stroke="#3a3a3a">4.0</text>
<line x1="209.7" y1="525.5" x2="209.7" y2="524.2" stroke="#4a4a4a" stroke-width="0.6"/>
<text x="209.7" y="531.1" font-size="5.1" font-family='"Liberation Sans", sans-serif' text-anchor="middle" fill="#3a3a3a" stroke="#3a3a3a">0</text>
<line x1="225.65" y1="525.5" x2="225.65" y2="524.2" stroke="#4a4a4a" stroke-width="0.6"/>
<text x="225.65" y="531.1" font-size="5.1" font-family='"Liberation Sans", sans-serif' text-anchor="middle" fill="#3a3a3a" stroke="#3a3a3a">10</text>
<line x1="241.6" y1="525.5" x2="241.6" y2="524.2" stroke="#4a4a4a" stroke-width="0.6"/>
<text x="241.6" y="531.1" font-size="5.1" font-family='"Liberation Sans", sans-serif' text-anchor="middle" fill="#3a3a3a" stroke="#3a3a3a">20</text>
<line x1="257.55" y1="525.5" x2="257.55" y2="524.2" stroke="#4a4a4a" stroke-width="0.6"/>
<text x="257.55" y="531.1" font-size="5.1" font-family='"Liberation Sans", sans-serif' text-anchor="middle" fill="#3a3a3a" stroke="#3a3a3a">30</text>
<line x1="273.5" y1="525.5" x2="273.5" y2="524.2" stroke="#4a4a4a" stroke-width="0.6"/>
<text x="273.5" y="531.1" font-size="5.1" font-family='"Liberation Sans", sans-serif' text-anchor="middle" fill="#3a3a3a" stroke="#3a3a3a">40</text>
<text x="244" y="535.7" font-size="5.4" font-family='"Liberation Sans", sans-serif' text-anchor="middle" fill="#3a3a3a" stroke="#3a3a3a">Time(min)</text>
<text transform="translate(191.1,493.5) rotate(-90)" font-size="5.4" font-family='"Liberation Sans", sans-serif' text-anchor="middle" fill="#3a3a3a" stroke="#3a3a3a">Output Value</text>
<text x="273.8" y="470.5" font-size="5.5" font-family='"Liberation Sans", sans-serif' text-anchor="end" fill="#666" stroke="#666"><tspan fill="#f2283f" stroke="#f2283f">3.30</tspan><tspan dx="1.3">3.28</tspan></text>
<rect x="40.5" y="588.94" width="81" height="2.72" fill="#fcd8c8" opacity="0.85"/>
<line x1="40.5" y1="590.3" x2="121.5" y2="590.3" stroke="#f59c82" stroke-width="0.7" stroke-dasharray="1.4,0.9"/>
<path d="M48.40,595.74 L48.80,595.71 L49.21,595.68 L49.61,595.65 L50.02,595.63 L50.42,595.60 L50.83,595.57 L51.23,595.55 L51.63,595.52 L52.04,595.49 L52.44,595.46 L52.85,595.43 L53.25,595.40 L53.66,595.37 L54.06,595.34 L54.47,595.30 L54.87,595.26 L55.27,595.22 L55.68,595.17 L56.08,595.12 L56.49,595.07 L56.89,595.01 L57.30,594.95 L57.70,594.89 L58.10,594.82 L58.51,594.75 L58.91,594.68 L59.32,594.61 L59.72,594.54 L60.13,594.47 L60.53,594.39 L60.94,594.32 L61.34,594.24 L61.74,594.16 L62.15,594.09 L62.55,594.02 L62.96,593.94 L63.36,593.87 L63.77,593.80 L64.17,593.73 L64.57,593.66 L64.98,593.59 L65.38,593.52 L65.79,593.46 L66.19,593.39 L66.60,593.32 L67.00,593.25 L67.41,593.18 L67.81,593.11 L68.21,593.04 L68.62,592.96 L69.02,592.89 L69.43,592.82 L69.83,592.76 L70.24,592.69 L70.64,592.62 L71.04,592.55 L71.45,592.49 L71.85,592.42 L72.26,592.36 L72.66,592.29 L73.07,592.23 L73.47,592.17 L73.88,592.12 L74.28,592.06 L74.68,592.01 L75.09,591.95 L75.49,591.90 L75.90,591.84 L76.30,591.79 L76.71,591.73 L77.11,591.68 L77.52,591.63 L77.92,591.57 L78.32,591.52 L78.73,591.47 L79.13,591.42 L79.54,591.37 L79.94,591.32 L80.35,591.28 L80.75,591.23 L81.15,591.19 L81.56,591.15 L81.96,591.11 L82.37,591.07 L82.77,591.04 L83.18,591.00 L83.58,590.97 L83.98,590.94 L84.39,590.91 L84.79,590.88 L85.20,590.86 L85.60,590.83 L86.01,590.80 L86.41,590.78 L86.82,590.75 L87.22,590.73 L87.62,590.71 L88.03,590.68 L88.43,590.66 L88.84,590.64 L89.24,590.61 L89.65,590.59 L90.05,590.57 L90.45,590.55 L90.86,590.53 L91.26,590.51 L91.67,590.49 L92.07,590.48 L92.48,590.46 L92.88,590.44 L93.29,590.43 L93.69,590.41 L94.09,590.39 L94.50,590.38 L94.90,590.36 L95.31,590.35 L95.71,590.34 L96.12,590.32 L96.52,590.31 L96.92,590.30 L97.33,590.29 L97.73,590.28 L98.14,590.27 L98.54,590.26 L98.95,590.25 L99.35,590.24 L99.76,590.23 L100.16,590.22 L100.56,590.21 L100.97,590.20 L101.37,590.19 L101.78,590.18 L102.18,590.17 L102.59,590.17 L102.99,590.16 L103.39,590.15 L103.80,590.14 L104.20,590.14 L104.61,590.13 L105.01,590.12 L105.42,590.11 L105.82,590.11 L106.23,590.10 L106.63,590.09 L107.03,590.09 L107.44,590.08 L107.84,590.07 L108.25,590.07 L108.65,590.06 L109.06,590.05 L109.46,590.05 L109.86,590.04 L110.27,590.03 L110.67,590.03 L111.08,590.02 L111.48,590.01 L111.89,590.00 L112.29,590.00 L112.70,589.99 L113.10,589.98" stroke="#f6450e" stroke-width="1.9" fill="none" stroke-linejoin="round" stroke-linecap="round"/>
<rect x="40.5" y="553.5" width="81" height="64" fill="none" stroke="#4a4a4a" stroke-width="0.9"/>
<line x1="40.5" y1="617.5" x2="41.8" y2="617.5" stroke="#4a4a4a" stroke-width="0.6"/>
<text x="39.3" y="619.3" font-size="5.1" font-family='"Liberation Sans", sans-serif' text-anchor="end" fill="#3a3a3a" stroke="#3a3a3a">0.0</text>
<line x1="40.5" y1="601.5" x2="41.8" y2="601.5" stroke="#4a4a4a" stroke-width="0.6"/>
<text x="39.3" y="603.3" font-size="5.1" font-family='"Liberation Sans", sans-serif' text-anchor="end" fill="#3a3a3a" stroke="#3a3a3a">2.0</text>
<line x1="40.5" y1="585.5" x2="41.8" y2="585.5" stroke="#4a4a4a" stroke-width="0.6"/>
<text x="39.3" y="587.3" font-size="5.1" font-family='"Liberation Sans", sans-serif' text-anchor="end" fill="#3a3a3a" stroke="#3a3a3a">4.0</text>
<line x1="40.5" y1="569.5" x2="41.8" y2="569.5" stroke="#4a4a4a" stroke-width="0.6"/>
<text x="39.3" y="571.3" font-size="5.1" font-family='"Liberation Sans", sans-serif' text-anchor="end" fill="#3a3a3a" stroke="#3a3a3a">6.0</text>
<line x1="40.5" y1="553.5" x2="41.8" y2="553.5" stroke="#4a4a4a" stroke-width="0.6"/>
<text x="39.3" y="555.3" font-size="5.1" font-family='"Liberation Sans", sans-serif' text-anchor="end" fill="#3a3a3a" stroke="#3a3a3a">8.0</text>
<line x1="48.4" y1="617.5" x2="48.4" y2="616.2" stroke="#4a4a4a" stroke-width="0.6"/>
<text x="48.4" y="623.1" font-size="5.1" font-family='"Liberation Sans", sans-serif' text-anchor="middle" fill="#3a3a3a" stroke="#3a3a3a">0</text>
<line x1="64.57" y1="617.5" x2="64.57" y2="616.2" stroke="#4a4a4a" stroke-width="0.6"/>
<text x="64.57" y="623.1" font-size="5.1" font-family='"Liberation Sans", sans-serif' text-anchor="middle" fill="#3a3a3a" stroke="#3a3a3a">10</text>
<line x1="80.75" y1="617.5" x2="80.75" y2="616.2" stroke="#4a4a4a" stroke-width="0.6"/>
<text x="80.75" y="623.1" font-size="5.1" font-family='"Liberation Sans", sans-serif' text-anchor="middle" fill="#3a3a3a" stroke="#3a3a3a">20</text>
<line x1="96.92" y1="617.5" x2="96.92" y2="616.2" stroke="#4a4a4a" stroke-width="0.6"/>
<text x="96.92" y="623.1" font-size="5.1" font-family='"Liberation Sans", sans-serif' text-anchor="middle" fill="#3a3a3a" stroke="#3a3a3a">30</text>
<line x1="113.1" y1="617.5" x2="113.1" y2="616.2" stroke="#4a4a4a" stroke-width="0.6"/>
<text x="113.1" y="623.1" font-size="5.1" font-family='"Liberation Sans", sans-serif' text-anchor="middle" fill="#3a3a3a" stroke="#3a3a3a">40</text>
<text x="83.5" y="627.7" font-size="5.4" font-family='"Liberation Sans", sans-serif' text-anchor="middle" fill="#3a3a3a" stroke="#3a3a3a">Time(min)</text>
<text transform="translate(29.2,585) rotate(-90)" font-size="5.4" font-family='"Liberation Sans", sans-serif' text-anchor="middle" fill="#3a3a3a" stroke="#3a3a3a">Output Value</text>
<text x="114.8" y="588.6" font-size="5.5" font-family='"Liberation Sans", sans-serif' text-anchor="end" fill="#666" stroke="#666"><tspan fill="#f2283f" stroke="#f2283f">3.44</tspan><tspan dx="1.9">3.40</tspan></text>
<rect x="201.5" y="567.52" width="80" height="4.76" fill="#fcd8c8" opacity="0.85"/>
<line x1="201.5" y1="569.9" x2="281.5" y2="569.9" stroke="#f59c82" stroke-width="0.7" stroke-dasharray="1.4,0.9"/>
<path d="M209.20,579.26 L209.60,579.21 L210.01,579.16 L210.41,579.12 L210.81,579.07 L211.22,579.03 L211.62,578.99 L212.03,578.94 L212.43,578.90 L212.83,578.85 L213.24,578.81 L213.64,578.76 L214.04,578.70 L214.45,578.65 L214.85,578.59 L215.26,578.53 L215.66,578.46 L216.06,578.39 L216.47,578.30 L216.87,578.21 L217.27,578.12 L217.68,578.01 L218.08,577.90 L218.49,577.79 L218.89,577.67 L219.29,577.54 L219.70,577.41 L220.10,577.28 L220.50,577.14 L220.91,577.00 L221.31,576.86 L221.72,576.72 L222.12,576.58 L222.52,576.44 L222.93,576.30 L223.33,576.16 L223.73,576.02 L224.14,575.89 L224.54,575.75 L224.95,575.63 L225.35,575.50 L225.75,575.38 L226.16,575.25 L226.56,575.12 L226.97,574.99 L227.37,574.87 L227.77,574.74 L228.18,574.61 L228.58,574.48 L228.98,574.34 L229.39,574.21 L229.79,574.08 L230.19,573.96 L230.60,573.83 L231.00,573.70 L231.41,573.57 L231.81,573.45 L232.21,573.33 L232.62,573.21 L233.02,573.09 L233.43,572.97 L233.83,572.86 L234.23,572.75 L234.64,572.64 L235.04,572.54 L235.44,572.44 L235.85,572.34 L236.25,572.24 L236.66,572.14 L237.06,572.04 L237.46,571.94 L237.87,571.84 L238.27,571.75 L238.67,571.66 L239.08,571.56 L239.48,571.47 L239.88,571.38 L240.29,571.29 L240.69,571.21 L241.10,571.12 L241.50,571.04 L241.90,570.96 L242.31,570.88 L242.71,570.80 L243.12,570.73 L243.52,570.66 L243.92,570.59 L244.33,570.52 L244.73,570.46 L245.13,570.40 L245.54,570.34 L245.94,570.28 L246.34,570.22 L246.75,570.16 L247.15,570.10 L247.56,570.04 L247.96,569.99 L248.36,569.93 L248.77,569.87 L249.17,569.82 L249.57,569.77 L249.98,569.72 L250.38,569.66 L250.79,569.61 L251.19,569.57 L251.59,569.52 L252.00,569.47 L252.40,569.42 L252.81,569.38 L253.21,569.34 L253.61,569.29 L254.02,569.25 L254.42,569.21 L254.82,569.17 L255.23,569.14 L255.63,569.10 L256.04,569.07 L256.44,569.03 L256.84,569.00 L257.25,568.97 L257.65,568.94 L258.05,568.91 L258.46,568.88 L258.86,568.86 L259.26,568.83 L259.67,568.81 L260.07,568.78 L260.48,568.76 L260.88,568.74 L261.28,568.71 L261.69,568.69 L262.09,568.67 L262.50,568.65 L262.90,568.63 L263.30,568.61 L263.71,568.59 L264.11,568.57 L264.51,568.55 L264.92,568.53 L265.32,568.52 L265.73,568.50 L266.13,568.48 L266.53,568.46 L266.94,568.44 L267.34,568.43 L267.74,568.41 L268.15,568.39 L268.55,568.38 L268.95,568.36 L269.36,568.34 L269.76,568.32 L270.17,568.31 L270.57,568.29 L270.97,568.27 L271.38,568.25 L271.78,568.24 L272.19,568.22 L272.59,568.20 L272.99,568.18 L273.40,568.16 L273.80,568.14" stroke="#f6450e" stroke-width="1.9" fill="none" stroke-linejoin="round" stroke-linecap="round"/>
<rect x="201.5" y="553.5" width="80" height="64" fill="none" stroke="#4a4a4a" stroke-width="0.9"/>
<line x1="201.5" y1="617.5" x2="202.8" y2="617.5" stroke="#4a4a4a" stroke-width="0.6"/>
<text x="200.3" y="619.3" font-size="5.1" font-family='"Liberation Sans", sans-serif' text-anchor="end" fill="#3a3a3a" stroke="#3a3a3a">0.0</text>
<line x1="201.5" y1="601.5" x2="202.8" y2="601.5" stroke="#4a4a4a" stroke-width="0.6"/>
<text x="200.3" y="603.3" font-size="5.1" font-family='"Liberation Sans", sans-serif' text-anchor="end" fill="#3a3a3a" stroke="#3a3a3a">2.0</text>
<line x1="201.5" y1="585.5" x2="202.8" y2="585.5" stroke="#4a4a4a" stroke-width="0.6"/>
<text x="200.3" y="587.3" font-size="5.1" font-family='"Liberation Sans", sans-serif' text-anchor="end" fill="#3a3a3a" stroke="#3a3a3a">4.0</text>
<line x1="201.5" y1="569.5" x2="202.8" y2="569.5" stroke="#4a4a4a" stroke-width="0.6"/>
<text x="200.3" y="571.3" font-size="5.1" font-family='"Liberation Sans", sans-serif' text-anchor="end" fill="#3a3a3a" stroke="#3a3a3a">6.0</text>
<line x1="201.5" y1="553.5" x2="202.8" y2="553.5" stroke="#4a4a4a" stroke-width="0.6"/>
<text x="200.3" y="555.3" font-size="5.1" font-family='"Liberation Sans", sans-serif' text-anchor="end" fill="#3a3a3a" stroke="#3a3a3a">8.0</text>
<line x1="209.2" y1="617.5" x2="209.2" y2="616.2" stroke="#4a4a4a" stroke-width="0.6"/>
<text x="209.2" y="623.1" font-size="5.1" font-family='"Liberation Sans", sans-serif' text-anchor="middle" fill="#3a3a3a" stroke="#3a3a3a">0</text>
<line x1="225.35" y1="617.5" x2="225.35" y2="616.2" stroke="#4a4a4a" stroke-width="0.6"/>
<text x="225.35" y="623.1" font-size="5.1" font-family='"Liberation Sans", sans-serif' text-anchor="middle" fill="#3a3a3a" stroke="#3a3a3a">10</text>
<line x1="241.5" y1="617.5" x2="241.5" y2="616.2" stroke="#4a4a4a" stroke-width="0.6"/>
<text x="241.5" y="623.1" font-size="5.1" font-family='"Liberation Sans", sans-serif' text-anchor="middle" fill="#3a3a3a" stroke="#3a3a3a">20</text>
<line x1="257.65" y1="617.5" x2="257.65" y2="616.2" stroke="#4a4a4a" stroke-width="0.6"/>
<text x="257.65" y="623.1" font-size="5.1" font-family='"Liberation Sans", sans-serif' text-anchor="middle" fill="#3a3a3a" stroke="#3a3a3a">30</text>
<line x1="273.8" y1="617.5" x2="273.8" y2="616.2" stroke="#4a4a4a" stroke-width="0.6"/>
<text x="273.8" y="623.1" font-size="5.1" font-family='"Liberation Sans", sans-serif' text-anchor="middle" fill="#3a3a3a" stroke="#3a3a3a">40</text>
<text x="244" y="627.7" font-size="5.4" font-family='"Liberation Sans", sans-serif' text-anchor="middle" fill="#3a3a3a" stroke="#3a3a3a">Time(min)</text>
<text transform="translate(191.1,585) rotate(-90)" font-size="5.4" font-family='"Liberation Sans", sans-serif' text-anchor="middle" fill="#3a3a3a" stroke="#3a3a3a">Output Value</text>
<text x="273.8" y="565.9" font-size="5.5" font-family='"Liberation Sans", sans-serif' text-anchor="end" fill="#666" stroke="#666"><tspan fill="#f2283f" stroke="#f2283f">6.17</tspan><tspan dx="1.7">5.95</tspan></text>
<path d="M127.3,422.4 L125.5,422.4 L125.5,437.3 L127.3,437.3" stroke="#777" stroke-width="0.75" fill="none"/>
<path d="M142.7,422.4 L144.5,422.4 L144.5,437.3 L142.7,437.3" stroke="#777" stroke-width="0.75" fill="none"/>
<text x="135.05" y="419.2" font-size="6.3" font-family='"Liberation Serif", serif' text-anchor="middle" font-weight="bold" font-style="italic" fill="#222" stroke="#222">W =</text>
<text x="134.95" y="428.4" font-size="6.4" font-family='"Liberation Sans", sans-serif' text-anchor="middle" fill="#3a3a3a" stroke="#3a3a3a">0.60</text>
<text x="134.95" y="435.9" font-size="6.4" font-family='"Liberation Sans", sans-serif' text-anchor="middle" fill="#3a3a3a" stroke="#3a3a3a">0.70</text>
<path d="M151.3,422.4 L149.5,422.4 L149.5,437.3 L151.3,437.3" stroke="#777" stroke-width="0.75" fill="none"/>
<path d="M166.7,422.4 L168.5,422.4 L168.5,437.3 L166.7,437.3" stroke="#777" stroke-width="0.75" fill="none"/>
<text x="159.3" y="419.2" font-size="6.3" font-family='"Liberation Serif", serif' text-anchor="middle" font-weight="bold" font-style="italic" fill="#222" stroke="#222">I =</text>
<text x="159.2" y="428.4" font-size="6.4" font-family='"Liberation Sans", sans-serif' text-anchor="middle" fill="#3a3a3a" stroke="#3a3a3a">0.40</text>
<text x="159.2" y="435.9" font-size="6.4" font-family='"Liberation Sans", sans-serif' text-anchor="middle" fill="#3a3a3a" stroke="#3a3a3a">0.20</text>
<path d="M289.3,422.8 L287.5,422.8 L287.5,437.6 L289.3,437.6" stroke="#777" stroke-width="0.75" fill="none"/>
<path d="M304.7,422.8 L306.5,422.8 L306.5,437.6 L304.7,437.6" stroke="#777" stroke-width="0.75" fill="none"/>
<text x="297.5" y="420.3" font-size="6.3" font-family='"Liberation Serif", serif' text-anchor="middle" font-weight="bold" font-style="italic" fill="#222" stroke="#222">W =</text>
<text x="297.4" y="428.8" font-size="6.4" font-family='"Liberation Sans", sans-serif' text-anchor="middle" fill="#3a3a3a" stroke="#3a3a3a">1.00</text>
<text x="297.4" y="436.3" font-size="6.4" font-family='"Liberation Sans", sans-serif' text-anchor="middle" fill="#3a3a3a" stroke="#3a3a3a">0.90</text>
<path d="M313.3,422.8 L311.5,422.8 L311.5,437.6 L313.3,437.6" stroke="#777" stroke-width="0.75" fill="none"/>
<path d="M328.7,422.8 L330.5,422.8 L330.5,437.6 L328.7,437.6" stroke="#777" stroke-width="0.75" fill="none"/>
<text x="321.2" y="420.3" font-size="6.3" font-family='"Liberation Serif", serif' text-anchor="middle" font-weight="bold" font-style="italic" fill="#222" stroke="#222">I =</text>
<text x="321.1" y="428.8" font-size="6.4" font-family='"Liberation Sans", sans-serif' text-anchor="middle" fill="#3a3a3a" stroke="#3a3a3a">0.80</text>
<text x="321.1" y="436.3" font-size="6.4" font-family='"Liberation Sans", sans-serif' text-anchor="middle" fill="#3a3a3a" stroke="#3a3a3a">1.00</text>
<path d="M127.3,497.3 L125.5,497.3 L125.5,526.4 L127.3,526.4" stroke="#777" stroke-width="0.75" fill="none"/>
<path d="M142.7,497.3 L144.5,497.3 L144.5,526.4 L142.7,526.4" stroke="#777" stroke-width="0.75" fill="none"/>
<text x="135.15" y="495.2" font-size="6.3" font-family='"Liberation Serif", serif' text-anchor="middle" font-weight="bold" font-style="italic" fill="#222" stroke="#222">W =</text>
<text x="135.05" y="503.2" font-size="6.4" font-family='"Liberation Sans", sans-serif' text-anchor="middle" fill="#3a3a3a" stroke="#3a3a3a">0.40</text>
<text x="135.05" y="510.75" font-size="6.4" font-family='"Liberation Sans", sans-serif' text-anchor="middle" fill="#3a3a3a" stroke="#3a3a3a">0.80</text>
<text x="135.05" y="518.3" font-size="6.4" font-family='"Liberation Sans", sans-serif' text-anchor="middle" fill="#3a3a3a" stroke="#3a3a3a">1.00</text>
<text x="135.05" y="525.85" font-size="6.4" font-family='"Liberation Sans", sans-serif' text-anchor="middle" fill="#3a3a3a" stroke="#3a3a3a">0.20</text>
<path d="M151.3,497.3 L149.5,497.3 L149.5,526.4 L151.3,526.4" stroke="#777" stroke-width="0.75" fill="none"/>
<path d="M166.7,497.3 L168.5,497.3 L168.5,526.4 L166.7,526.4" stroke="#777" stroke-width="0.75" fill="none"/>
<text x="159.3" y="495.2" font-size="6.3" font-family='"Liberation Serif", serif' text-anchor="middle" font-weight="bold" font-style="italic" fill="#222" stroke="#222">I =</text>
<text x="159.2" y="503.2" font-size="6.4" font-family='"Liberation Sans", sans-serif' text-anchor="middle" fill="#3a3a3a" stroke="#3a3a3a">1.00</text>
<text x="159.2" y="510.75" font-size="6.4" font-family='"Liberation Sans", sans-serif' text-anchor="middle" fill="#3a3a3a" stroke="#3a3a3a">0.60</text>
<text x="159.2" y="518.3" font-size="6.4" font-family='"Liberation Sans", sans-serif' text-anchor="middle" fill="#3a3a3a" stroke="#3a3a3a">0.80</text>
<text x="159.2" y="525.85" font-size="6.4" font-family='"Liberation Sans", sans-serif' text-anchor="middle" fill="#3a3a3a" stroke="#3a3a3a">0.20</text>
<path d="M289.3,497.6 L287.5,497.6 L287.5,526.6 L289.3,526.6" stroke="#777" stroke-width="0.75" fill="none"/>
<path d="M304.7,497.6 L306.5,497.6 L306.5,526.6 L304.7,526.6" stroke="#777" stroke-width="0.75" fill="none"/>
<text x="297.5" y="495.4" font-size="6.3" font-family='"Liberation Serif", serif' text-anchor="middle" font-weight="bold" font-style="italic" fill="#222" stroke="#222">W =</text>
<text x="297.4" y="503.9" font-size="6.4" font-family='"Liberation Sans", sans-serif' text-anchor="middle" fill="#3a3a3a" stroke="#3a3a3a">1.00</text>
<text x="297.4" y="511.37" font-size="6.4" font-family='"Liberation Sans", sans-serif' text-anchor="middle" fill="#3a3a3a" stroke="#3a3a3a">0.80</text>
<text x="297.4" y="518.84" font-size="6.4" font-family='"Liberation Sans", sans-serif' text-anchor="middle" fill="#3a3a3a" stroke="#3a3a3a">1.00</text>
<text x="297.4" y="526.31" font-size="6.4" font-family='"Liberation Sans", sans-serif' text-anchor="middle" fill="#3a3a3a" stroke="#3a3a3a">1.00</text>
<path d="M313.3,497.6 L311.5,497.6 L311.5,526.6 L313.3,526.6" stroke="#777" stroke-width="0.75" fill="none"/>
<path d="M328.7,497.6 L330.5,497.6 L330.5,526.6 L328.7,526.6" stroke="#777" stroke-width="0.75" fill="none"/>
<text x="321.2" y="495.4" font-size="6.3" font-family='"Liberation Serif", serif' text-anchor="middle" font-weight="bold" font-style="italic" fill="#222" stroke="#222">I =</text>
<text x="321.1" y="503.9" font-size="6.4" font-family='"Liberation Sans", sans-serif' text-anchor="middle" fill="#3a3a3a" stroke="#3a3a3a">1.00</text>
<text x="321.1" y="511.37" font-size="6.4" font-family='"Liberation Sans", sans-serif' text-anchor="middle" fill="#3a3a3a" stroke="#3a3a3a">0.60</text>
<text x="321.1" y="518.84" font-size="6.4" font-family='"Liberation Sans", sans-serif' text-anchor="middle" fill="#3a3a3a" stroke="#3a3a3a">0.80</text>
<text x="321.1" y="526.31" font-size="6.4" font-family='"Liberation Sans", sans-serif' text-anchor="middle" fill="#3a3a3a" stroke="#3a3a3a">1.00</text>
<path d="M127.3,558.8 L125.5,558.8 L125.5,617.6 L127.3,617.6" stroke="#777" stroke-width="0.75" fill="none"/>
<path d="M142.7,558.8 L144.5,558.8 L144.5,617.6 L142.7,617.6" stroke="#777" stroke-width="0.75" fill="none"/>
<text x="135.3" y="555.3" font-size="6.3" font-family='"Liberation Serif", serif' text-anchor="middle" font-weight="bold" font-style="italic" fill="#222" stroke="#222">W =</text>
<text x="135.2" y="564" font-size="6.4" font-family='"Liberation Sans", sans-serif' text-anchor="middle" fill="#3a3a3a" stroke="#3a3a3a">0.80</text>
<text x="135.2" y="571.59" font-size="6.4" font-family='"Liberation Sans", sans-serif' text-anchor="middle" fill="#3a3a3a" stroke="#3a3a3a">0.60</text>
<text x="135.2" y="579.18" font-size="6.4" font-family='"Liberation Sans", sans-serif' text-anchor="middle" fill="#3a3a3a" stroke="#3a3a3a">0.40</text>
<text x="135.2" y="586.77" font-size="6.4" font-family='"Liberation Sans", sans-serif' text-anchor="middle" fill="#3a3a3a" stroke="#3a3a3a">0.80</text>
<text x="135.2" y="594.36" font-size="6.4" font-family='"Liberation Sans", sans-serif' text-anchor="middle" fill="#3a3a3a" stroke="#3a3a3a">0.60</text>
<text x="135.2" y="601.95" font-size="6.4" font-family='"Liberation Sans", sans-serif' text-anchor="middle" fill="#3a3a3a" stroke="#3a3a3a">1.00</text>
<text x="135.2" y="609.54" font-size="6.4" font-family='"Liberation Sans", sans-serif' text-anchor="middle" fill="#3a3a3a" stroke="#3a3a3a">1.00</text>
<text x="135.2" y="617.13" font-size="6.4" font-family='"Liberation Sans", sans-serif' text-anchor="middle" fill="#3a3a3a" stroke="#3a3a3a">0.40</text>
<path d="M151.3,558.8 L149.5,558.8 L149.5,617.6 L151.3,617.6" stroke="#777" stroke-width="0.75" fill="none"/>
<path d="M166.7,558.8 L168.5,558.8 L168.5,617.6 L166.7,617.6" stroke="#777" stroke-width="0.75" fill="none"/>
<text x="159.55" y="555.3" font-size="6.3" font-family='"Liberation Serif", serif' text-anchor="middle" font-weight="bold" font-style="italic" fill="#222" stroke="#222">I =</text>
<text x="159.45" y="564" font-size="6.4" font-family='"Liberation Sans", sans-serif' text-anchor="middle" fill="#3a3a3a" stroke="#3a3a3a">0.50</text>
<text x="159.45" y="571.59" font-size="6.4" font-family='"Liberation Sans", sans-serif' text-anchor="middle" fill="#3a3a3a" stroke="#3a3a3a">0.50</text>
<text x="159.45" y="579.18" font-size="6.4" font-family='"Liberation Sans", sans-serif' text-anchor="middle" fill="#3a3a3a" stroke="#3a3a3a">0.25</text>
<text x="159.45" y="586.77" font-size="6.4" font-family='"Liberation Sans", sans-serif' text-anchor="middle" fill="#3a3a3a" stroke="#3a3a3a">0.75</text>
<text x="159.45" y="594.36" font-size="6.4" font-family='"Liberation Sans", sans-serif' text-anchor="middle" fill="#3a3a3a" stroke="#3a3a3a">1.00</text>
<text x="159.45" y="601.95" font-size="6.4" font-family='"Liberation Sans", sans-serif' text-anchor="middle" fill="#3a3a3a" stroke="#3a3a3a">0.25</text>
<text x="159.45" y="609.54" font-size="6.4" font-family='"Liberation Sans", sans-serif' text-anchor="middle" fill="#3a3a3a" stroke="#3a3a3a">0.75</text>
<text x="159.45" y="617.13" font-size="6.4" font-family='"Liberation Sans", sans-serif' text-anchor="middle" fill="#3a3a3a" stroke="#3a3a3a">1.00</text>
<path d="M289.3,558.8 L287.5,558.8 L287.5,617.8 L289.3,617.8" stroke="#777" stroke-width="0.75" fill="none"/>
<path d="M304.7,558.8 L306.5,558.8 L306.5,617.8 L304.7,617.8" stroke="#777" stroke-width="0.75" fill="none"/>
<text x="297.5" y="555.6" font-size="6.3" font-family='"Liberation Serif", serif' text-anchor="middle" font-weight="bold" font-style="italic" fill="#222" stroke="#222">W =</text>
<text x="297.4" y="564.1" font-size="6.4" font-family='"Liberation Sans", sans-serif' text-anchor="middle" fill="#3a3a3a" stroke="#3a3a3a">0.80</text>
<text x="297.4" y="571.69" font-size="6.4" font-family='"Liberation Sans", sans-serif' text-anchor="middle" fill="#3a3a3a" stroke="#3a3a3a">0.60</text>
<text x="297.4" y="579.28" font-size="6.4" font-family='"Liberation Sans", sans-serif' text-anchor="middle" fill="#3a3a3a" stroke="#3a3a3a">1.00</text>
<text x="297.4" y="586.87" font-size="6.4" font-family='"Liberation Sans", sans-serif' text-anchor="middle" fill="#3a3a3a" stroke="#3a3a3a">1.00</text>
<text x="297.4" y="594.46" font-size="6.4" font-family='"Liberation Sans", sans-serif' text-anchor="middle" fill="#3a3a3a" stroke="#3a3a3a">0.60</text>
<text x="297.4" y="602.05" font-size="6.4" font-family='"Liberation Sans", sans-serif' text-anchor="middle" fill="#3a3a3a" stroke="#3a3a3a">1.00</text>
<text x="297.4" y="609.64" font-size="6.4" font-family='"Liberation Sans", sans-serif' text-anchor="middle" fill="#3a3a3a" stroke="#3a3a3a">1.00</text>
<text x="297.4" y="617.23" font-size="6.4" font-family='"Liberation Sans", sans-serif' text-anchor="middle" fill="#3a3a3a" stroke="#3a3a3a">0.80</text>
<path d="M313.3,558.8 L311.5,558.8 L311.5,617.8 L313.3,617.8" stroke="#777" stroke-width="0.75" fill="none"/>
<path d="M328.7,558.8 L330.5,558.8 L330.5,617.8 L328.7,617.8" stroke="#777" stroke-width="0.75" fill="none"/>
<text x="321.45" y="555.6" font-size="6.3" font-family='"Liberation Serif", serif' text-anchor="middle" font-weight="bold" font-style="italic" fill="#222" stroke="#222">I =</text>
<text x="321.35" y="564.1" font-size="6.4" font-family='"Liberation Sans", sans-serif' text-anchor="middle" fill="#3a3a3a" stroke="#3a3a3a">0.75</text>
<text x="321.35" y="571.69" font-size="6.4" font-family='"Liberation Sans", sans-serif' text-anchor="middle" fill="#3a3a3a" stroke="#3a3a3a">0.75</text>
<text x="321.35" y="579.28" font-size="6.4" font-family='"Liberation Sans", sans-serif' text-anchor="middle" fill="#3a3a3a" stroke="#3a3a3a">1.00</text>
<text x="321.35" y="586.87" font-size="6.4" font-family='"Liberation Sans", sans-serif' text-anchor="middle" fill="#3a3a3a" stroke="#3a3a3a">1.00</text>
<text x="321.35" y="594.46" font-size="6.4" font-family='"Liberation Sans", sans-serif' text-anchor="middle" fill="#3a3a3a" stroke="#3a3a3a">1.00</text>
<text x="321.35" y="602.05" font-size="6.4" font-family='"Liberation Sans", sans-serif' text-anchor="middle" fill="#3a3a3a" stroke="#3a3a3a">0.75</text>
<text x="321.35" y="609.64" font-size="6.4" font-family='"Liberation Sans", sans-serif' text-anchor="middle" fill="#3a3a3a" stroke="#3a3a3a">0.75</text>
<text x="321.35" y="617.23" font-size="6.4" font-family='"Liberation Sans", sans-serif' text-anchor="middle" fill="#3a3a3a" stroke="#3a3a3a">1.00</text>
<rect x="347.9" y="41.8" width="322.6" height="22.9" fill="#fee7c6"/>
<text x="406.5" y="57.6" font-size="11.7" font-family='"Liberation Sans", sans-serif' font-weight="bold" fill="#444" textLength="216.2" lengthAdjust="spacingAndGlyphs" stroke="#444">Reset and recycling of the <tspan font-style="italic">cis</tspan>-CALCUL unit</text>
<text x="380.9" y="91.4" font-size="8.1" font-family='"Liberation Sans", sans-serif' fill="#222" textLength="32.1" lengthAdjust="spacingAndGlyphs" stroke="#222">c-Weight</text>
<line x1="358" y1="98.8" x2="376.2" y2="98.8" stroke="#f4a53b" stroke-width="1.4"/>
<path d="M355.8,98.8 L359.1,96.9 L359.1,100.7 Z" stroke="none" stroke-width="1" fill="#f4a53b"/>
<line x1="376.2" y1="98.8" x2="392" y2="98.8" stroke="#2aa7e0" stroke-width="1.4"/>
<line x1="392" y1="98.8" x2="402.3" y2="98.8" stroke="#4d4d4d" stroke-width="1.4"/>
<line x1="402.3" y1="98.8" x2="427.1" y2="98.8" stroke="#d42f50" stroke-width="1.4"/>
<text x="368.6" y="107.8" font-size="6.4" font-family='"Liberation Sans", sans-serif' font-weight="bold" text-anchor="middle" fill="#f4a53b" stroke="#f4a53b">R<tspan font-size="5.12" dy="-1.0">*</tspan></text>
<text x="383.6" y="107.8" font-size="6.4" font-family='"Liberation Sans", sans-serif' font-weight="bold" text-anchor="middle" fill="#2aa7e0" stroke="#2aa7e0">D<tspan font-size="5.12" dy="-1.0">*</tspan></text>
<text x="397" y="107.8" font-size="6.4" font-family='"Liberation Sans", sans-serif' font-weight="bold" text-anchor="middle" fill="#111" stroke="#111">X<tspan font-size="5.12" dy="-1.0">*</tspan></text>
<text x="415" y="107.8" font-size="6.4" font-family='"Liberation Sans", sans-serif' font-weight="bold" text-anchor="middle" fill="#d42f50" stroke="#d42f50">A<tspan font-size="5.12" dy="-1.0">*</tspan></text>
<text x="461.4" y="89" font-size="8.1" font-family='"Liberation Sans", sans-serif' fill="#222" textLength="47.8" lengthAdjust="spacingAndGlyphs" stroke="#222">Waste strand</text>
<path d="M448.50,95.3 L448.50,98.2 M450.20,95.3 L450.20,98.2 M451.90,95.3 L451.90,98.2 M453.60,95.3 L453.60,98.2 M455.30,95.3 L455.30,98.2 M457.00,95.3 L457.00,98.2 M458.70,95.3 L458.70,98.2 M460.40,95.3 L460.40,98.2 M462.10,95.3 L462.10,98.2 M463.80,95.3 L463.80,98.2 M465.50,95.3 L465.50,98.2 M467.20,95.3 L467.20,98.2 M468.90,95.3 L468.90,98.2 M470.60,95.3 L470.60,98.2 M472.30,95.3 L472.30,98.2 M474.00,95.3 L474.00,98.2 M475.70,95.3 L475.70,98.2 M477.40,95.3 L477.40,98.2 M479.10,95.3 L479.10,98.2 M480.80,95.3 L480.80,98.2 M482.50,95.3 L482.50,98.2 M484.20,95.3 L484.20,98.2 M485.90,95.3 L485.90,98.2 M487.60,95.3 L487.60,98.2 M489.30,95.3 L489.30,98.2 M491.00,95.3 L491.00,98.2 M492.70,95.3 L492.70,98.2 M494.40,95.3 L494.40,98.2 M496.10,95.3 L496.10,98.2 M497.80,95.3 L497.80,98.2 M499.50,95.3 L499.50,98.2 M501.20,95.3 L501.20,98.2 M502.90,95.3 L502.90,98.2 M504.60,95.3 L504.60,98.2 M506.30,95.3 L506.30,98.2 M508.00,95.3 L508.00,98.2 M509.70,95.3 L509.70,98.2 M511.40,95.3 L511.40,98.2 M513.10,95.3 L513.10,98.2" stroke="#9a9a9a" stroke-width="0.5" fill="none"/>
<line x1="448.5" y1="96.75" x2="514.5" y2="96.75" stroke="#c8c8c8" stroke-width="0.4"/>
<line x1="446" y1="94.6" x2="467" y2="94.6" stroke="#f4a53b" stroke-width="1.4"/>
<line x1="467" y1="94.6" x2="483" y2="94.6" stroke="#2aa7e0" stroke-width="1.4"/>
<line x1="483" y1="94.6" x2="494" y2="94.6" stroke="#4d4d4d" stroke-width="1.4"/>
<line x1="494" y1="94.6" x2="515" y2="94.6" stroke="#d42f50" stroke-width="1.4"/>
<path d="M517.5,94.6 L514.2,92.7 L514.2,96.5 Z" stroke="none" stroke-width="1" fill="#d42f50"/>
<line x1="448" y1="98.9" x2="467" y2="98.9" stroke="#f4a53b" stroke-width="1.4"/>
<path d="M445.6,98.9 L448.9,97 L448.9,100.8 Z" stroke="none" stroke-width="1" fill="#f4a53b"/>
<line x1="467" y1="98.9" x2="483" y2="98.9" stroke="#2aa7e0" stroke-width="1.4"/>
<line x1="483" y1="98.9" x2="494" y2="98.9" stroke="#4d4d4d" stroke-width="1.4"/>
<line x1="494" y1="98.9" x2="515.7" y2="98.9" stroke="#d42f50" stroke-width="1.4"/>
<text x="460" y="108.6" font-size="6.4" font-family='"Liberation Sans", sans-serif' font-weight="bold" text-anchor="middle" fill="#f4a53b" stroke="#f4a53b">R<tspan font-size="5.12" dy="-1.0">*</tspan></text>
<text x="475" y="108.6" font-size="6.4" font-family='"Liberation Sans", sans-serif' font-weight="bold" text-anchor="middle" fill="#2aa7e0" stroke="#2aa7e0">D<tspan font-size="5.12" dy="-1.0">*</tspan></text>
<text x="488.7" y="108.6" font-size="6.4" font-family='"Liberation Sans", sans-serif' font-weight="bold" text-anchor="middle" fill="#111" stroke="#111">X<tspan font-size="5.12" dy="-1.0">*</tspan></text>
<text x="506.6" y="108.6" font-size="6.4" font-family='"Liberation Sans", sans-serif' font-weight="bold" text-anchor="middle" fill="#d42f50" stroke="#d42f50">A<tspan font-size="5.12" dy="-1.0">*</tspan></text>
<line x1="533.2" y1="100" x2="543.2" y2="100" stroke="#4d4d4d" stroke-width="1.4"/>
<line x1="543.2" y1="100" x2="569.4" y2="100" stroke="#5cc06e" stroke-width="1.4"/>
<circle cx="569.4" cy="100" r="1.7" fill="#7a7a7a"/>
<text x="537.9" y="95.8" font-size="6.4" font-family='"Liberation Sans", sans-serif' font-weight="bold" text-anchor="middle" fill="#111" stroke="#111">X</text>
<text x="556" y="95.6" font-size="6.4" font-family='"Liberation Sans", sans-serif' font-weight="bold" text-anchor="middle" fill="#2fae4a" stroke="#2fae4a">B</text>
<text x="608.6" y="79.9" font-size="8.1" font-family='"Liberation Sans", sans-serif' fill="#222" textLength="43.3" lengthAdjust="spacingAndGlyphs" stroke="#222">Input strand</text>
<text x="598" y="85.6" font-size="6.4" font-family='"Liberation Sans", sans-serif' font-weight="bold" text-anchor="middle" fill="#d42f50" stroke="#d42f50">A<tspan font-size="5.12" dy="-1.0">*</tspan></text>
<line x1="602.8" y1="89.5" x2="619.6" y2="107" stroke="#d42f50" stroke-width="1.4"/>
<line x1="619.6" y1="107" x2="641" y2="107" stroke="#2fae4a" stroke-width="1.4"/>
<path d="M643.5,107 L640.2,105.1 L640.2,108.9 Z" stroke="none" stroke-width="1" fill="#2fae4a"/>
<text x="631.3" y="103.4" font-size="6.4" font-family='"Liberation Sans", sans-serif' font-weight="bold" text-anchor="middle" fill="#2fae4a" stroke="#2fae4a">B</text>
<rect x="431.1" y="116.1" width="172.0" height="75.3" rx="8" ry="8" fill="#fef2e2"/>
<path d="M435.8,125 Q461.5,215.5 484.4,122.2" stroke="#1a1a1a" stroke-width="0.9" fill="none"/>
<path d="M0,0 L-4.4,-2.0 L-4.4,2.0 Z" fill="#1a1a1a" transform="translate(484.4,122.2) rotate(-76.21)"/>
<path d="M440,178.5 Q463,160.3 488,178.6" stroke="#1a1a1a" stroke-width="0.9" fill="none"/>
<path d="M0,0 L-4.4,-2.0 L-4.4,2.0 Z" fill="#1a1a1a" transform="translate(488,178.6) rotate(36.2)"/>
<path d="M553,124 Q573.5,219.5 597.5,121.2" stroke="#1a1a1a" stroke-width="0.9" fill="none"/>
<path d="M0,0 L-4.4,-2.0 L-4.4,2.0 Z" fill="#1a1a1a" transform="translate(597.5,121.2) rotate(-76.28)"/>
<path d="M553,179.3 Q575,163 598,179.7" stroke="#1a1a1a" stroke-width="0.9" fill="none"/>
<path d="M0,0 L-4.4,-2.0 L-4.4,2.0 Z" fill="#1a1a1a" transform="translate(598,179.7) rotate(35.98)"/>
<circle cx="519.3" cy="133.1" r="14.2" fill="#fff" stroke="#1a1a1a" stroke-width="1.3"/>
<rect x="513.1" y="127.2" width="2.4" height="10" rx="1.2" fill="#fff" stroke="#a0a0a0" stroke-width="0.55"/>
<circle cx="514.3" cy="138.1" r="2.9" fill="#fff" stroke="#a0a0a0" stroke-width="0.55"/>
<line x1="514.3" y1="128.5" x2="514.3" y2="138.1" stroke="#f04a5a" stroke-width="1"/>
<circle cx="514.3" cy="138.1" r="1.8" fill="#f04a5a"/>
<rect x="524.5" y="127.2" width="2.4" height="10" rx="1.2" fill="#d6d6d6" stroke="#a0a0a0" stroke-width="0.55"/>
<circle cx="525.7" cy="138.1" r="2.9" fill="#fff" stroke="#a0a0a0" stroke-width="0.55"/>
<line x1="525.7" y1="132.5" x2="525.7" y2="138.1" stroke="#23a2e0" stroke-width="1"/>
<circle cx="525.7" cy="138.1" r="1.8" fill="#23a2e0"/>
<circle cx="510.8" cy="127.5" r="1.4" fill="#f04a5a"/>
<path d="M521,126.3 L523.2,126.3 L522.1,128.5 Z" stroke="none" stroke-width="1" fill="#40b8e8"/>
<line x1="501.3" y1="156.3" x2="519.9" y2="174.6" stroke="#d42f50" stroke-width="1.4"/>
<text x="517" y="165.6" font-size="6.4" font-family='"Liberation Sans", sans-serif' font-weight="bold" text-anchor="middle" fill="#d42f50" stroke="#d42f50">A<tspan font-size="5.12" dy="-1.0">*</tspan></text>
<path d="M521.00,175.6 L521.00,179.8 M522.70,175.6 L522.70,179.8 M524.40,175.6 L524.40,179.8 M526.10,175.6 L526.10,179.8 M527.80,175.6 L527.80,179.8 M529.50,175.6 L529.50,179.8 M531.20,175.6 L531.20,179.8 M532.90,175.6 L532.90,179.8 M534.60,175.6 L534.60,179.8 M536.30,175.6 L536.30,179.8 M538.00,175.6 L538.00,179.8 M539.70,175.6 L539.70,179.8 M541.40,175.6 L541.40,179.8 M543.10,175.6 L543.10,179.8" stroke="#9a9a9a" stroke-width="0.5" fill="none"/>
<line x1="521" y1="177.7" x2="544.5" y2="177.7" stroke="#c8c8c8" stroke-width="0.4"/>
<line x1="519.9" y1="174.9" x2="544.5" y2="174.9" stroke="#2fae4a" stroke-width="1.4"/>
<path d="M547,174.9 L543.7,173 L543.7,176.8 Z" stroke="none" stroke-width="1" fill="#2fae4a"/>
<text x="532.3" y="172.9" font-size="6.4" font-family='"Liberation Sans", sans-serif' font-weight="bold" text-anchor="middle" fill="#2fae4a" stroke="#2fae4a">B</text>
<line x1="495" y1="180.5" x2="508.8" y2="180.5" stroke="#2aa7e0" stroke-width="1.4"/>
<path d="M492.5,180.5 L495.8,178.6 L495.8,182.4 Z" stroke="none" stroke-width="1" fill="#2aa7e0"/>
<line x1="508.8" y1="180.5" x2="520" y2="180.5" stroke="#4d4d4d" stroke-width="1.4"/>
<line x1="520" y1="180.5" x2="545.4" y2="180.5" stroke="#2fae4a" stroke-width="1.4"/>
<circle cx="545.4" cy="180.5" r="3.6" fill="#7fd68a" opacity="0.55"/>
<circle cx="545.4" cy="180.5" r="2.3" fill="#1fae3a"/>
<text x="503.2" y="189.7" font-size="6.4" font-family='"Liberation Sans", sans-serif' font-weight="bold" text-anchor="middle" fill="#2aa7e0" stroke="#2aa7e0">D<tspan font-size="5.12" dy="-1.0">*</tspan></text>
<text x="515.1" y="189.7" font-size="6.4" font-family='"Liberation Sans", sans-serif' font-weight="bold" text-anchor="middle" fill="#111" stroke="#111">X<tspan font-size="5.12" dy="-1.0">*</tspan></text>
<line x1="359.4" y1="163.4" x2="373.7" y2="177.8" stroke="#f4a53b" stroke-width="1.3"/>
<text transform="translate(348.3,156.4) rotate(45)" font-size="6.8" font-family='"Liberation Sans", sans-serif' text-anchor="middle" fill="#eba357" stroke="#eba357">Reset</text>
<text transform="translate(343.7,163.1) rotate(45)" font-size="6.6" font-family='"Liberation Sans", sans-serif' text-anchor="middle" fill="#eba357" stroke="#eba357">Toehold (R)</text>
<path d="M402.5,176.5 L421.5,159.5" stroke="#aaaaaa" stroke-width="3.2" fill="none" stroke-dasharray="0.5,1.3"/>
<line x1="399" y1="177.8" x2="418.6" y2="158.8" stroke="#d42f50" stroke-width="1.3"/>
<path d="M0,0 L-3.0,-1.7 L-3.0,1.7 Z" fill="#d42f50" transform="translate(420.6,156.9) rotate(-44)"/>
<line x1="406.3" y1="177.8" x2="424" y2="160.1" stroke="#d42f50" stroke-width="1.3"/>
<path d="M374.50,178.8 L374.50,182.5 M376.20,178.8 L376.20,182.5 M377.90,178.8 L377.90,182.5 M379.60,178.8 L379.60,182.5 M381.30,178.8 L381.30,182.5 M383.00,178.8 L383.00,182.5 M384.70,178.8 L384.70,182.5 M386.40,178.8 L386.40,182.5 M388.10,178.8 L388.10,182.5 M389.80,178.8 L389.80,182.5 M391.50,178.8 L391.50,182.5 M393.20,178.8 L393.20,182.5 M394.90,178.8 L394.90,182.5 M396.60,178.8 L396.60,182.5 M398.30,178.8 L398.30,182.5 M400.00,178.8 L400.00,182.5 M401.70,178.8 L401.70,182.5 M403.40,178.8 L403.40,182.5 M405.10,178.8 L405.10,182.5 M406.80,178.8 L406.80,182.5 M408.50,178.8 L408.50,182.5 M410.20,178.8 L410.20,182.5 M411.90,178.8 L411.90,182.5 M413.60,178.8 L413.60,182.5 M415.30,178.8 L415.30,182.5 M417.00,178.8 L417.00,182.5 M418.70,178.8 L418.70,182.5 M420.40,178.8 L420.40,182.5 M422.10,178.8 L422.10,182.5 M423.80,178.8 L423.80,182.5" stroke="#9a9a9a" stroke-width="0.5" fill="none"/>
<line x1="374.5" y1="180.65" x2="424" y2="180.65" stroke="#c8c8c8" stroke-width="0.4"/>
<line x1="373.7" y1="177.8" x2="388.6" y2="177.8" stroke="#2aa7e0" stroke-width="1.4"/>
<line x1="388.6" y1="177.8" x2="399" y2="177.8" stroke="#4d4d4d" stroke-width="1.4"/>
<line x1="406.3" y1="178" x2="423.2" y2="178" stroke="#2fae4a" stroke-width="1.4"/>
<path d="M425.8,178 L422.5,176.1 L422.5,179.9 Z" stroke="none" stroke-width="1" fill="#2fae4a"/>
<line x1="375" y1="183.4" x2="388.6" y2="183.4" stroke="#2aa7e0" stroke-width="1.4"/>
<path d="M372.4,183.4 L375.7,181.5 L375.7,185.3 Z" stroke="none" stroke-width="1" fill="#2aa7e0"/>
<line x1="388.6" y1="183.4" x2="399" y2="183.4" stroke="#4d4d4d" stroke-width="1.4"/>
<line x1="399" y1="183.4" x2="425" y2="183.4" stroke="#2fae4a" stroke-width="1.4"/>
<circle cx="425" cy="183.2" r="3.7" fill="#7fd68a" opacity="0.55"/>
<circle cx="425" cy="183.2" r="2.4" fill="#1fae3a"/>
<text x="381" y="174.5" font-size="6.4" font-family='"Liberation Sans", sans-serif' font-weight="bold" text-anchor="middle" fill="#2aa7e0" stroke="#2aa7e0">D</text>
<text x="393.7" y="174.5" font-size="6.4" font-family='"Liberation Sans", sans-serif' font-weight="bold" text-anchor="middle" fill="#111" stroke="#111">X</text>
<text x="405.2" y="166" font-size="6.4" font-family='"Liberation Sans", sans-serif' font-weight="bold" text-anchor="middle" fill="#d42f50" stroke="#d42f50">A</text>
<text x="420.3" y="174.5" font-size="6.4" font-family='"Liberation Sans", sans-serif' font-weight="bold" text-anchor="middle" fill="#2fae4a" stroke="#2fae4a">B</text>
<text x="638.9" y="153.6" font-size="8.1" font-family='"Liberation Sans", sans-serif' text-anchor="middle" fill="#222" stroke="#222">Reporter</text>
<text x="639.9" y="163.3" font-size="8.1" font-family='"Liberation Sans", sans-serif' text-anchor="middle" fill="#222" stroke="#222">strand</text>
<text x="627.2" y="171.7" font-size="6.4" font-family='"Liberation Sans", sans-serif' font-weight="bold" text-anchor="middle" fill="#111" stroke="#111">X</text>
<text x="646" y="171.7" font-size="6.4" font-family='"Liberation Sans", sans-serif' font-weight="bold" text-anchor="middle" fill="#2fae4a" stroke="#2fae4a">B</text>
<path d="M623.00,176.9 L623.00,180.4 M624.70,176.9 L624.70,180.4 M626.40,176.9 L626.40,180.4 M628.10,176.9 L628.10,180.4 M629.80,176.9 L629.80,180.4 M631.50,176.9 L631.50,180.4 M633.20,176.9 L633.20,180.4 M634.90,176.9 L634.90,180.4 M636.60,176.9 L636.60,180.4 M638.30,176.9 L638.30,180.4 M640.00,176.9 L640.00,180.4 M641.70,176.9 L641.70,180.4 M643.40,176.9 L643.40,180.4 M645.10,176.9 L645.10,180.4 M646.80,176.9 L646.80,180.4 M648.50,176.9 L648.50,180.4 M650.20,176.9 L650.20,180.4 M651.90,176.9 L651.90,180.4 M653.60,176.9 L653.60,180.4 M655.30,176.9 L655.30,180.4 M657.00,176.9 L657.00,180.4" stroke="#9a9a9a" stroke-width="0.5" fill="none"/>
<line x1="623" y1="178.65" x2="657.5" y2="178.65" stroke="#c8c8c8" stroke-width="0.4"/>
<line x1="622.3" y1="176" x2="633.1" y2="176" stroke="#4d4d4d" stroke-width="1.4"/>
<line x1="633.1" y1="176" x2="658.7" y2="176" stroke="#5cc06e" stroke-width="1.4"/>
<circle cx="658.7" cy="176" r="1.7" fill="#7a7a7a"/>
<line x1="609" y1="181.2" x2="622.3" y2="181.2" stroke="#2aa7e0" stroke-width="1.4"/>
<path d="M606.6,181.2 L609.9,179.3 L609.9,183.1 Z" stroke="none" stroke-width="1" fill="#2aa7e0"/>
<line x1="622.3" y1="181.2" x2="633.1" y2="181.2" stroke="#4d4d4d" stroke-width="1.4"/>
<line x1="633.1" y1="181.2" x2="658.7" y2="181.2" stroke="#2fae4a" stroke-width="1.4"/>
<circle cx="658.7" cy="181.2" r="2" fill="#1fae3a"/>
<rect x="347.1" y="201" width="114.5" height="13.2" fill="#ecbcd2"/>
<text x="403.4" y="210.6" font-size="8.2" font-family='"Liberation Sans", sans-serif' text-anchor="middle" fill="#333" textLength="35.5" lengthAdjust="spacingAndGlyphs" stroke="#333">End State</text>
<defs><linearGradient id="rg" x1="0" y1="0" x2="0" y2="1"><stop offset="0" stop-color="#fee6c8"/><stop offset="0.5" stop-color="#fee7ca"/><stop offset="1" stop-color="#fef2e3"/></linearGradient></defs>
<path d="M467.8,201.2 L578.1,201.2 L578.1,214.9 L510.5,227.8 L497.5,227.8 L467.8,214.9 Z" stroke="none" stroke-width="1" fill="url(#rg)"/>
<text x="526.4" y="211.6" font-size="8.2" font-family='"Liberation Sans", sans-serif' text-anchor="middle" fill="#333" textLength="21.4" lengthAdjust="spacingAndGlyphs" stroke="#333">Reset</text>
<rect x="585.1" y="201.4" width="87.6" height="12.9" fill="#a5d5c4"/>
<text x="628.9" y="211" font-size="8.2" font-family='"Liberation Sans", sans-serif' text-anchor="middle" fill="#333" textLength="40" lengthAdjust="spacingAndGlyphs" stroke="#333">Initial State</text>
<rect x="501.2" y="227.5" width="3.6" height="64" fill="#fde3bf"/>
<rect x="414.5" y="255.62" width="86.7" height="2.41" fill="#fcd8c8" opacity="0.7"/>
<line x1="414.5" y1="256.83" x2="501.2" y2="256.83" stroke="#f59c82" stroke-width="0.8" stroke-dasharray="1.6,1"/>
<rect x="504.23" y="255.52" width="109.27" height="5.03" fill="#fcd8c8" opacity="0.9"/>
<line x1="504.23" y1="258.04" x2="616.5" y2="258.04" stroke="#f59c82" stroke-width="0.7" stroke-dasharray="1.6,1"/>
<path d="M420.30,282.96 L420.81,281.01 L421.31,279.05 L421.82,277.25 L422.32,275.77 L422.83,274.48 L423.33,273.11 L423.84,271.49 L424.35,269.76 L424.85,268.16 L425.36,266.76 L425.86,265.52 L426.37,264.89 L426.87,264.54 L427.38,264.28 L427.88,264.07 L428.39,263.87 L428.90,263.65 L429.40,263.45 L429.91,263.26 L430.41,263.08 L430.92,262.91 L431.42,262.75 L431.93,262.60 L432.44,262.46 L432.94,262.32 L433.45,262.18 L433.95,262.05 L434.46,261.91 L434.96,261.79 L435.47,261.66 L435.97,261.54 L436.48,261.42 L436.99,261.31 L437.49,261.20 L438.00,261.10 L438.50,261.00 L439.01,260.90 L439.51,260.81 L440.02,260.73 L440.52,260.65 L441.03,260.57 L441.54,260.50 L442.04,260.43 L442.55,260.36 L443.05,260.29 L443.56,260.22 L444.06,260.15 L444.57,260.09 L445.08,260.02 L445.58,259.96 L446.09,259.90 L446.59,259.84 L447.10,259.78 L447.60,259.72 L448.11,259.66 L448.62,259.61 L449.12,259.55 L449.63,259.50 L450.13,259.45 L450.64,259.40 L451.14,259.35 L451.65,259.30 L452.15,259.25 L452.66,259.20 L453.17,259.15 L453.67,259.11 L454.18,259.06 L454.68,259.02 L455.19,258.97 L455.69,258.93 L456.20,258.89 L456.70,258.85 L457.21,258.81 L457.72,258.77 L458.22,258.73 L458.73,258.69 L459.23,258.65 L459.74,258.61 L460.24,258.58 L460.75,258.54 L461.26,258.50 L461.76,258.47 L462.27,258.43 L462.77,258.40 L463.28,258.36 L463.78,258.33 L464.29,258.30 L464.80,258.27 L465.30,258.23 L465.81,258.20 L466.31,258.17 L466.82,258.14 L467.32,258.11 L467.83,258.08 L468.33,258.05 L468.84,258.02 L469.35,257.99 L469.85,257.97 L470.36,257.94 L470.86,257.91 L471.37,257.89 L471.87,257.86 L472.38,257.83 L472.88,257.81 L473.39,257.78 L473.90,257.76 L474.40,257.73 L474.91,257.71 L475.41,257.68 L475.92,257.66 L476.42,257.63 L476.93,257.61 L477.44,257.59 L477.94,257.57 L478.45,257.54 L478.95,257.52 L479.46,257.50 L479.96,257.48 L480.47,257.45 L480.97,257.43 L481.48,257.41 L481.99,257.39 L482.49,257.37 L483.00,257.35 L483.50,257.33 L484.01,257.31 L484.51,257.29 L485.02,257.27 L485.53,257.25 L486.03,257.24 L486.54,257.22 L487.04,257.20 L487.55,257.18 L488.05,257.16 L488.56,257.15 L489.06,257.13 L489.57,257.11 L490.08,257.10 L490.58,257.08 L491.09,257.06 L491.59,257.05 L492.10,257.03 L492.60,257.01 L493.11,257.00 L493.62,256.98 L494.12,256.96 L494.63,256.95 L495.13,256.93 L495.64,256.91 L496.14,256.90 L496.65,256.88 L497.15,256.87 L497.66,256.85 L498.17,256.83 L498.67,256.82 L499.18,256.80 L499.68,256.78 L500.19,256.76 L500.69,256.75 L501.20,256.73 L502.41,287.68 L502.92,286.21 L503.42,284.72 L503.93,283.13 L504.44,281.33 L504.94,279.44 L505.45,277.61 L505.95,275.94 L506.46,274.28 L506.96,272.71 L507.47,271.32 L507.98,270.20 L508.48,269.23 L508.99,268.34 L509.49,267.54 L510.00,266.84 L510.50,266.26 L511.01,265.79 L511.51,265.39 L512.02,265.03 L512.53,264.71 L513.03,264.42 L513.54,264.15 L514.04,263.91 L514.55,263.69 L515.05,263.48 L515.56,263.29 L516.07,263.10 L516.57,262.92 L517.08,262.75 L517.58,262.59 L518.09,262.44 L518.59,262.30 L519.10,262.16 L519.60,262.03 L520.11,261.92 L520.62,261.81 L521.12,261.71 L521.63,261.62 L522.13,261.53 L522.64,261.45 L523.14,261.36 L523.65,261.28 L524.16,261.21 L524.66,261.13 L525.17,261.06 L525.67,260.98 L526.18,260.91 L526.68,260.84 L527.19,260.78 L527.69,260.71 L528.20,260.65 L528.71,260.58 L529.21,260.52 L529.72,260.46 L530.22,260.41 L530.73,260.35 L531.23,260.29 L531.74,260.24 L532.25,260.19 L532.75,260.14 L533.26,260.08 L533.76,260.04 L534.27,259.99 L534.77,259.94 L535.28,259.89 L535.78,259.84 L536.29,259.80 L536.80,259.75 L537.30,259.71 L537.81,259.67 L538.31,259.62 L538.82,259.58 L539.32,259.54 L539.83,259.49 L540.34,259.45 L540.84,259.41 L541.35,259.37 L541.85,259.33 L542.36,259.28 L542.86,259.24 L543.37,259.20 L543.87,259.16 L544.38,259.12 L544.89,259.08 L545.39,259.04 L545.90,259.00 L546.40,258.97 L546.91,258.93 L547.41,258.89 L547.92,258.85 L548.43,258.82 L548.93,258.78 L549.44,258.74 L549.94,258.71 L550.45,258.67 L550.95,258.64 L551.46,258.60 L551.96,258.57 L552.47,258.54 L552.98,258.51 L553.48,258.47 L553.99,258.44 L554.49,258.41 L555.00,258.38 L555.50,258.35 L556.01,258.32 L556.52,258.29 L557.02,258.27 L557.53,258.24 L558.03,258.21 L558.54,258.19 L559.04,258.16 L559.55,258.14 L560.05,258.12 L560.56,258.09 L561.07,258.07 L561.57,258.05 L562.08,258.03 L562.58,258.01 L563.09,257.99 L563.59,257.97 L564.10,257.95 L564.61,257.93 L565.11,257.91 L565.62,257.89 L566.12,257.88 L566.63,257.86 L567.13,257.84 L567.64,257.83 L568.14,257.81 L568.65,257.79 L569.16,257.78 L569.66,257.76 L570.17,257.75 L570.67,257.73 L571.18,257.72 L571.68,257.71 L572.19,257.69 L572.70,257.68 L573.20,257.66 L573.71,257.65 L574.21,257.64 L574.72,257.62 L575.22,257.61 L575.73,257.60 L576.23,257.58 L576.74,257.57 L577.25,257.56 L577.75,257.54 L578.26,257.53 L578.76,257.52 L579.27,257.51 L579.77,257.49 L580.28,257.48 L580.79,257.47 L581.29,257.45 L581.80,257.44 L582.30,257.43 L582.81,257.41 L583.31,257.40 L583.82,257.39 L584.32,257.38 L584.83,257.36 L585.34,257.35 L585.84,257.34 L586.35,257.33 L586.85,257.32 L587.36,257.30 L587.86,257.29 L588.37,257.28 L588.88,257.27 L589.38,257.26 L589.89,257.25 L590.39,257.24 L590.90,257.22 L591.40,257.21 L591.91,257.20 L592.41,257.19 L592.92,257.18 L593.43,257.17 L593.93,257.16 L594.44,257.15 L594.94,257.14 L595.45,257.12 L595.95,257.11 L596.46,257.10 L596.97,257.09 L597.47,257.08 L597.98,257.07 L598.48,257.06 L598.99,257.05 L599.49,257.04 L600.00,257.03 L600.50,257.02 L601.01,257.00 L601.52,256.99 L602.02,256.98 L602.53,256.97 L603.03,256.96 L603.54,256.95 L604.04,256.94 L604.35,256.93" stroke="#f6450e" stroke-width="2.1" fill="none" stroke-linejoin="round" stroke-linecap="round"/>
<circle cx="420.3" cy="282.96" r="1.3" fill="#f6450e"/>
<circle cx="421.92" cy="276.93" r="1.3" fill="#f6450e"/>
<circle cx="423.33" cy="273.11" r="1.3" fill="#f6450e"/>
<circle cx="424.95" cy="267.88" r="1.3" fill="#f6450e"/>
<circle cx="502.41" cy="287.68" r="1.3" fill="#f6450e"/>
<circle cx="503.83" cy="283.46" r="1.3" fill="#f6450e"/>
<circle cx="505.65" cy="276.93" r="1.3" fill="#f6450e"/>
<rect x="414.5" y="227.5" width="203" height="64" fill="none" stroke="#4a4a4a" stroke-width="1"/>
<line x1="414.5" y1="291" x2="416.3" y2="291" stroke="#4a4a4a" stroke-width="0.7"/>
<text x="412.7" y="293.7" font-size="7.6" font-family='"Liberation Sans", sans-serif' text-anchor="end" fill="#3a3a3a" stroke="#3a3a3a">0</text>
<line x1="414.5" y1="280.95" x2="416.3" y2="280.95" stroke="#4a4a4a" stroke-width="0.7"/>
<text x="412.7" y="283.65" font-size="7.6" font-family='"Liberation Sans", sans-serif' text-anchor="end" fill="#3a3a3a" stroke="#3a3a3a">1</text>
<line x1="414.5" y1="270.9" x2="416.3" y2="270.9" stroke="#4a4a4a" stroke-width="0.7"/>
<text x="412.7" y="273.6" font-size="7.6" font-family='"Liberation Sans", sans-serif' text-anchor="end" fill="#3a3a3a" stroke="#3a3a3a">2</text>
<line x1="414.5" y1="260.85" x2="416.3" y2="260.85" stroke="#4a4a4a" stroke-width="0.7"/>
<text x="412.7" y="263.55" font-size="7.6" font-family='"Liberation Sans", sans-serif' text-anchor="end" fill="#3a3a3a" stroke="#3a3a3a">3</text>
<line x1="414.5" y1="250.8" x2="416.3" y2="250.8" stroke="#4a4a4a" stroke-width="0.7"/>
<text x="412.7" y="253.5" font-size="7.6" font-family='"Liberation Sans", sans-serif' text-anchor="end" fill="#3a3a3a" stroke="#3a3a3a">4</text>
<line x1="414.5" y1="240.75" x2="416.3" y2="240.75" stroke="#4a4a4a" stroke-width="0.7"/>
<text x="412.7" y="243.45" font-size="7.6" font-family='"Liberation Sans", sans-serif' text-anchor="end" fill="#3a3a3a" stroke="#3a3a3a">5</text>
<line x1="414.5" y1="230.7" x2="416.3" y2="230.7" stroke="#4a4a4a" stroke-width="0.7"/>
<text x="412.7" y="233.4" font-size="7.6" font-family='"Liberation Sans", sans-serif' text-anchor="end" fill="#3a3a3a" stroke="#3a3a3a">6</text>
<line x1="420.3" y1="291.5" x2="420.3" y2="289.7" stroke="#4a4a4a" stroke-width="0.7"/>
<text x="420.3" y="299.7" font-size="7.6" font-family='"Liberation Sans", sans-serif' text-anchor="middle" fill="#3a3a3a" stroke="#3a3a3a">0</text>
<line x1="440.52" y1="291.5" x2="440.52" y2="289.7" stroke="#4a4a4a" stroke-width="0.7"/>
<text x="440.52" y="299.7" font-size="7.6" font-family='"Liberation Sans", sans-serif' text-anchor="middle" fill="#3a3a3a" stroke="#3a3a3a">10</text>
<line x1="460.75" y1="291.5" x2="460.75" y2="289.7" stroke="#4a4a4a" stroke-width="0.7"/>
<text x="460.75" y="299.7" font-size="7.6" font-family='"Liberation Sans", sans-serif' text-anchor="middle" fill="#3a3a3a" stroke="#3a3a3a">20</text>
<line x1="480.97" y1="291.5" x2="480.97" y2="289.7" stroke="#4a4a4a" stroke-width="0.7"/>
<text x="480.97" y="299.7" font-size="7.6" font-family='"Liberation Sans", sans-serif' text-anchor="middle" fill="#3a3a3a" stroke="#3a3a3a">30</text>
<line x1="501.2" y1="291.5" x2="501.2" y2="289.7" stroke="#4a4a4a" stroke-width="0.7"/>
<text x="501.2" y="299.7" font-size="7.6" font-family='"Liberation Sans", sans-serif' text-anchor="middle" fill="#3a3a3a" stroke="#3a3a3a">40</text>
<line x1="521.42" y1="291.5" x2="521.42" y2="289.7" stroke="#4a4a4a" stroke-width="0.7"/>
<text x="521.42" y="299.7" font-size="7.6" font-family='"Liberation Sans", sans-serif' text-anchor="middle" fill="#3a3a3a" stroke="#3a3a3a">50</text>
<line x1="541.65" y1="291.5" x2="541.65" y2="289.7" stroke="#4a4a4a" stroke-width="0.7"/>
<text x="541.65" y="299.7" font-size="7.6" font-family='"Liberation Sans", sans-serif' text-anchor="middle" fill="#3a3a3a" stroke="#3a3a3a">60</text>
<line x1="561.88" y1="291.5" x2="561.88" y2="289.7" stroke="#4a4a4a" stroke-width="0.7"/>
<text x="561.88" y="299.7" font-size="7.6" font-family='"Liberation Sans", sans-serif' text-anchor="middle" fill="#3a3a3a" stroke="#3a3a3a">70</text>
<line x1="582.1" y1="291.5" x2="582.1" y2="289.7" stroke="#4a4a4a" stroke-width="0.7"/>
<text x="582.1" y="299.7" font-size="7.6" font-family='"Liberation Sans", sans-serif' text-anchor="middle" fill="#3a3a3a" stroke="#3a3a3a">80</text>
<line x1="602.32" y1="291.5" x2="602.32" y2="289.7" stroke="#4a4a4a" stroke-width="0.7"/>
<text x="602.32" y="299.7" font-size="7.6" font-family='"Liberation Sans", sans-serif' text-anchor="middle" fill="#3a3a3a" stroke="#3a3a3a">90</text>
<text x="516" y="306.8" font-size="8" font-family='"Liberation Sans", sans-serif' text-anchor="middle" fill="#3a3a3a" stroke="#3a3a3a">Time(min)</text>
<text transform="translate(405.3,257.7) rotate(-90)" font-size="7.8" font-family='"Liberation Sans", sans-serif' text-anchor="middle" fill="#3a3a3a" stroke="#3a3a3a">Output Value</text>
<text x="452.2" y="254.8" font-size="7.9" font-family='"Liberation Sans", sans-serif' fill="#555" stroke="#555"><tspan fill="#f2283f" font-weight="bold" stroke="#f2283f">3.41</tspan><tspan dx="4.5">3.40</tspan></text>
<text x="566.7" y="255.4" font-size="7.9" font-family='"Liberation Sans", sans-serif' fill="#555" stroke="#555"><tspan fill="#f2283f" font-weight="bold" stroke="#f2283f">3.39</tspan><tspan dx="1.8">3.28</tspan></text>
<path d="M350.3,231.9 L348.5,231.9 L348.5,291.9 L350.3,291.9" stroke="#777" stroke-width="0.75" fill="none"/>
<path d="M366.7,231.9 L368.5,231.9 L368.5,291.9 L366.7,291.9" stroke="#777" stroke-width="0.75" fill="none"/>
<text x="358.8" y="229.6" font-size="6.3" font-family='"Liberation Serif", serif' text-anchor="middle" font-weight="bold" font-style="italic" fill="#222" stroke="#222">W =</text>
<text x="358.7" y="236.7" font-size="6.2" font-family='"Liberation Sans", sans-serif' text-anchor="middle" fill="#4a4a4a" style="stroke-width:0.1px" stroke="#4a4a4a">0.80</text>
<text x="358.7" y="244.43" font-size="6.2" font-family='"Liberation Sans", sans-serif' text-anchor="middle" fill="#4a4a4a" style="stroke-width:0.1px" stroke="#4a4a4a">0.60</text>
<text x="358.7" y="252.16" font-size="6.2" font-family='"Liberation Sans", sans-serif' text-anchor="middle" fill="#4a4a4a" style="stroke-width:0.1px" stroke="#4a4a4a">0.40</text>
<text x="358.7" y="259.89" font-size="6.2" font-family='"Liberation Sans", sans-serif' text-anchor="middle" fill="#4a4a4a" style="stroke-width:0.1px" stroke="#4a4a4a">0.80</text>
<text x="358.7" y="267.62" font-size="6.2" font-family='"Liberation Sans", sans-serif' text-anchor="middle" fill="#4a4a4a" style="stroke-width:0.1px" stroke="#4a4a4a">0.60</text>
<text x="358.7" y="275.35" font-size="6.2" font-family='"Liberation Sans", sans-serif' text-anchor="middle" fill="#4a4a4a" style="stroke-width:0.1px" stroke="#4a4a4a">1.00</text>
<text x="358.7" y="283.08" font-size="6.2" font-family='"Liberation Sans", sans-serif' text-anchor="middle" fill="#4a4a4a" style="stroke-width:0.1px" stroke="#4a4a4a">1.00</text>
<text x="358.7" y="290.81" font-size="6.2" font-family='"Liberation Sans", sans-serif' text-anchor="middle" fill="#4a4a4a" style="stroke-width:0.1px" stroke="#4a4a4a">0.40</text>
<path d="M375.3,231.9 L373.5,231.9 L373.5,291.9 L375.3,291.9" stroke="#777" stroke-width="0.75" fill="none"/>
<path d="M391.7,231.9 L393.5,231.9 L393.5,291.9 L391.7,291.9" stroke="#777" stroke-width="0.75" fill="none"/>
<text x="383.4" y="229.6" font-size="6.3" font-family='"Liberation Serif", serif' text-anchor="middle" font-weight="bold" font-style="italic" fill="#222" stroke="#222">I =</text>
<text x="383.3" y="236.7" font-size="6.2" font-family='"Liberation Sans", sans-serif' text-anchor="middle" fill="#4a4a4a" style="stroke-width:0.1px" stroke="#4a4a4a">0.50</text>
<text x="383.3" y="244.43" font-size="6.2" font-family='"Liberation Sans", sans-serif' text-anchor="middle" fill="#4a4a4a" style="stroke-width:0.1px" stroke="#4a4a4a">0.50</text>
<text x="383.3" y="252.16" font-size="6.2" font-family='"Liberation Sans", sans-serif' text-anchor="middle" fill="#4a4a4a" style="stroke-width:0.1px" stroke="#4a4a4a">0.25</text>
<text x="383.3" y="259.89" font-size="6.2" font-family='"Liberation Sans", sans-serif' text-anchor="middle" fill="#4a4a4a" style="stroke-width:0.1px" stroke="#4a4a4a">0.75</text>
<text x="383.3" y="267.62" font-size="6.2" font-family='"Liberation Sans", sans-serif' text-anchor="middle" fill="#4a4a4a" style="stroke-width:0.1px" stroke="#4a4a4a">1.00</text>
<text x="383.3" y="275.35" font-size="6.2" font-family='"Liberation Sans", sans-serif' text-anchor="middle" fill="#4a4a4a" style="stroke-width:0.1px" stroke="#4a4a4a">0.25</text>
<text x="383.3" y="283.08" font-size="6.2" font-family='"Liberation Sans", sans-serif' text-anchor="middle" fill="#4a4a4a" style="stroke-width:0.1px" stroke="#4a4a4a">0.75</text>
<text x="383.3" y="290.81" font-size="6.2" font-family='"Liberation Sans", sans-serif' text-anchor="middle" fill="#4a4a4a" style="stroke-width:0.1px" stroke="#4a4a4a">1.00</text>
<path d="M629.3,231.5 L627.5,231.5 L627.5,291.9 L629.3,291.9" stroke="#777" stroke-width="0.75" fill="none"/>
<path d="M644.7,231.5 L646.5,231.5 L646.5,291.9 L644.7,291.9" stroke="#777" stroke-width="0.75" fill="none"/>
<text x="637.4" y="229.6" font-size="6.3" font-family='"Liberation Serif", serif' text-anchor="middle" font-weight="bold" font-style="italic" fill="#222" stroke="#222">W =</text>
<text x="637.3" y="236.7" font-size="6.2" font-family='"Liberation Sans", sans-serif' text-anchor="middle" fill="#4a4a4a" style="stroke-width:0.1px" stroke="#4a4a4a">0.64</text>
<text x="637.3" y="244.43" font-size="6.2" font-family='"Liberation Sans", sans-serif' text-anchor="middle" fill="#4a4a4a" style="stroke-width:0.1px" stroke="#4a4a4a">0.80</text>
<text x="637.3" y="252.16" font-size="6.2" font-family='"Liberation Sans", sans-serif' text-anchor="middle" fill="#4a4a4a" style="stroke-width:0.1px" stroke="#4a4a4a">0.80</text>
<text x="637.3" y="259.89" font-size="6.2" font-family='"Liberation Sans", sans-serif' text-anchor="middle" fill="#4a4a4a" style="stroke-width:0.1px" stroke="#4a4a4a">0.64</text>
<text x="637.3" y="267.62" font-size="6.2" font-family='"Liberation Sans", sans-serif' text-anchor="middle" fill="#4a4a4a" style="stroke-width:0.1px" stroke="#4a4a4a">0.64</text>
<text x="637.3" y="275.35" font-size="6.2" font-family='"Liberation Sans", sans-serif' text-anchor="middle" fill="#4a4a4a" style="stroke-width:0.1px" stroke="#4a4a4a">0.64</text>
<text x="637.3" y="283.08" font-size="6.2" font-family='"Liberation Sans", sans-serif' text-anchor="middle" fill="#4a4a4a" style="stroke-width:0.1px" stroke="#4a4a4a">0.80</text>
<text x="637.3" y="290.81" font-size="6.2" font-family='"Liberation Sans", sans-serif' text-anchor="middle" fill="#4a4a4a" style="stroke-width:0.1px" stroke="#4a4a4a">0.48</text>
<path d="M653.3,231.5 L651.5,231.5 L651.5,291.9 L653.3,291.9" stroke="#777" stroke-width="0.75" fill="none"/>
<path d="M669.7,231.5 L671.5,231.5 L671.5,291.9 L669.7,291.9" stroke="#777" stroke-width="0.75" fill="none"/>
<text x="661.65" y="229.6" font-size="6.3" font-family='"Liberation Serif", serif' text-anchor="middle" font-weight="bold" font-style="italic" fill="#222" stroke="#222">I =</text>
<text x="661.55" y="236.7" font-size="6.2" font-family='"Liberation Sans", sans-serif' text-anchor="middle" fill="#4a4a4a" style="stroke-width:0.1px" stroke="#4a4a4a">0.50</text>
<text x="661.55" y="244.43" font-size="6.2" font-family='"Liberation Sans", sans-serif' text-anchor="middle" fill="#4a4a4a" style="stroke-width:0.1px" stroke="#4a4a4a">0.50</text>
<text x="661.55" y="252.16" font-size="6.2" font-family='"Liberation Sans", sans-serif' text-anchor="middle" fill="#4a4a4a" style="stroke-width:0.1px" stroke="#4a4a4a">0.25</text>
<text x="661.55" y="259.89" font-size="6.2" font-family='"Liberation Sans", sans-serif' text-anchor="middle" fill="#4a4a4a" style="stroke-width:0.1px" stroke="#4a4a4a">0.75</text>
<text x="661.55" y="267.62" font-size="6.2" font-family='"Liberation Sans", sans-serif' text-anchor="middle" fill="#4a4a4a" style="stroke-width:0.1px" stroke="#4a4a4a">1.00</text>
<text x="661.55" y="275.35" font-size="6.2" font-family='"Liberation Sans", sans-serif' text-anchor="middle" fill="#4a4a4a" style="stroke-width:0.1px" stroke="#4a4a4a">0.25</text>
<text x="661.55" y="283.08" font-size="6.2" font-family='"Liberation Sans", sans-serif' text-anchor="middle" fill="#4a4a4a" style="stroke-width:0.1px" stroke="#4a4a4a">0.75</text>
<text x="661.55" y="290.81" font-size="6.2" font-family='"Liberation Sans", sans-serif' text-anchor="middle" fill="#4a4a4a" style="stroke-width:0.1px" stroke="#4a4a4a">1.00</text>
<rect x="347.9" y="365" width="322.6" height="21" fill="#fee7c6"/>
<text x="409.6" y="380.3" font-size="11.7" font-family='"Liberation Sans", sans-serif' font-weight="bold" fill="#444" textLength="217" lengthAdjust="spacingAndGlyphs" stroke="#444">Reset and recycling of the <tspan font-style="italic">trans</tspan>-CALCUL unit</text>
<text x="373" y="415.6" font-size="8.1" font-family='"Liberation Sans", sans-serif' fill="#222" textLength="31.2" lengthAdjust="spacingAndGlyphs" stroke="#222">c-Weight</text>
<line x1="362.5" y1="423.9" x2="376.5" y2="423.9" stroke="#f4a53b" stroke-width="1.4"/>
<path d="M360.2,423.9 L363.5,422 L363.5,425.8 Z" stroke="none" stroke-width="1" fill="#f4a53b"/>
<line x1="376.5" y1="423.9" x2="396.7" y2="423.9" stroke="#b5b5b5" stroke-width="1.4" stroke-dasharray="2.2,1.4"/>
<line x1="396.7" y1="423.9" x2="414.2" y2="423.9" stroke="#5cc06e" stroke-width="1.4"/>
<text x="370.4" y="432.4" font-size="6.4" font-family='"Liberation Sans", sans-serif' font-weight="bold" text-anchor="middle" fill="#f4a53b" stroke="#f4a53b">R<tspan font-size="5.12" dy="-1.0">*</tspan></text>
<text x="387.9" y="432.4" font-size="6.1" font-family='"Liberation Sans", sans-serif' text-anchor="middle" fill="#aaa" stroke="#aaa">A<tspan font-size="4" dy="1">i</tspan><tspan font-size="4" dy="-2.6">*</tspan></text>
<text x="405.4" y="432.4" font-size="6.4" font-family='"Liberation Sans", sans-serif' font-weight="bold" text-anchor="middle" fill="#2fae4a" stroke="#2fae4a">B<tspan font-size="5.12" dy="-1.0">*</tspan></text>
<text x="453.8" y="395.2" font-size="8.1" font-family='"Liberation Sans", sans-serif' fill="#222" textLength="46.5" lengthAdjust="spacingAndGlyphs" stroke="#222">Waste strand</text>
<path d="M452.50,405.9 L452.50,409 M454.20,405.9 L454.20,409 M455.90,405.9 L455.90,409 M457.60,405.9 L457.60,409 M459.30,405.9 L459.30,409 M461.00,405.9 L461.00,409 M462.70,405.9 L462.70,409 M464.40,405.9 L464.40,409 M466.10,405.9 L466.10,409 M467.80,405.9 L467.80,409 M469.50,405.9 L469.50,409 M471.20,405.9 L471.20,409 M472.90,405.9 L472.90,409 M474.60,405.9 L474.60,409 M476.30,405.9 L476.30,409 M478.00,405.9 L478.00,409 M479.70,405.9 L479.70,409 M481.40,405.9 L481.40,409 M483.10,405.9 L483.10,409 M484.80,405.9 L484.80,409 M486.50,405.9 L486.50,409 M488.20,405.9 L488.20,409 M489.90,405.9 L489.90,409 M491.60,405.9 L491.60,409 M493.30,405.9 L493.30,409 M495.00,405.9 L495.00,409 M496.70,405.9 L496.70,409 M498.40,405.9 L498.40,409 M500.10,405.9 L500.10,409 M501.80,405.9 L501.80,409" stroke="#9a9a9a" stroke-width="0.5" fill="none"/>
<line x1="452.5" y1="407.45" x2="503" y2="407.45" stroke="#c8c8c8" stroke-width="0.4"/>
<line x1="450.9" y1="405.1" x2="467.2" y2="405.1" stroke="#f4a53b" stroke-width="1.4"/>
<line x1="467.2" y1="405.1" x2="487" y2="405.1" stroke="#b5b5b5" stroke-width="1.3" stroke-dasharray="2,1.2"/>
<line x1="487" y1="405.1" x2="501.5" y2="405.1" stroke="#2fae4a" stroke-width="1.4"/>
<path d="M504,405.1 L500.7,403.2 L500.7,407 Z" stroke="none" stroke-width="1" fill="#2fae4a"/>
<line x1="453.3" y1="409.8" x2="467.2" y2="409.8" stroke="#f4a53b" stroke-width="1.4"/>
<path d="M450.9,409.8 L454.2,407.9 L454.2,411.7 Z" stroke="none" stroke-width="1" fill="#f4a53b"/>
<line x1="467.2" y1="409.8" x2="487" y2="409.8" stroke="#b5b5b5" stroke-width="1.3" stroke-dasharray="2,1.2"/>
<line x1="487" y1="409.8" x2="504" y2="409.8" stroke="#2fae4a" stroke-width="1.4"/>
<text x="460.1" y="402.9" font-size="6.3" font-family='"Liberation Sans", sans-serif' text-anchor="middle" fill="#f4a53b" stroke="#f4a53b">R</text>
<text x="477.3" y="402.9" font-size="6" font-family='"Liberation Sans", sans-serif' text-anchor="middle" fill="#a0a0a0" stroke="#a0a0a0">A<tspan font-size="5.7" dy="0.4">i</tspan></text>
<text x="495.2" y="402.9" font-size="6.3" font-family='"Liberation Sans", sans-serif' text-anchor="middle" fill="#2fae4a" stroke="#2fae4a">B</text>
<path d="M452.50,422 L452.50,425.1 M454.20,422 L454.20,425.1 M455.90,422 L455.90,425.1 M457.60,422 L457.60,425.1 M459.30,422 L459.30,425.1 M461.00,422 L461.00,425.1 M462.70,422 L462.70,425.1 M464.40,422 L464.40,425.1 M466.10,422 L466.10,425.1 M467.80,422 L467.80,425.1 M469.50,422 L469.50,425.1 M471.20,422 L471.20,425.1 M472.90,422 L472.90,425.1 M474.60,422 L474.60,425.1 M476.30,422 L476.30,425.1 M478.00,422 L478.00,425.1 M479.70,422 L479.70,425.1 M481.40,422 L481.40,425.1 M483.10,422 L483.10,425.1 M484.80,422 L484.80,425.1 M486.50,422 L486.50,425.1 M488.20,422 L488.20,425.1 M489.90,422 L489.90,425.1 M491.60,422 L491.60,425.1 M493.30,422 L493.30,425.1 M495.00,422 L495.00,425.1 M496.70,422 L496.70,425.1 M498.40,422 L498.40,425.1 M500.10,422 L500.10,425.1 M501.80,422 L501.80,425.1" stroke="#9a9a9a" stroke-width="0.5" fill="none"/>
<line x1="452.5" y1="423.55" x2="503" y2="423.55" stroke="#c8c8c8" stroke-width="0.4"/>
<line x1="450.9" y1="421.2" x2="467.2" y2="421.2" stroke="#f4a53b" stroke-width="1.4"/>
<line x1="467.2" y1="421.2" x2="487" y2="421.2" stroke="#b5b5b5" stroke-width="1.3" stroke-dasharray="2,1.2"/>
<line x1="487" y1="421.2" x2="504.5" y2="421.2" stroke="#2fae4a" stroke-width="1.4"/>
<circle cx="505.7" cy="421.2" r="1.7" fill="#7a7a7a"/>
<line x1="453.3" y1="425.9" x2="467.2" y2="425.9" stroke="#f4a53b" stroke-width="1.4"/>
<path d="M450.9,425.9 L454.2,424 L454.2,427.8 Z" stroke="none" stroke-width="1" fill="#f4a53b"/>
<line x1="467.2" y1="425.9" x2="487" y2="425.9" stroke="#b5b5b5" stroke-width="1.3" stroke-dasharray="2,1.2"/>
<line x1="487" y1="425.9" x2="504" y2="425.9" stroke="#2fae4a" stroke-width="1.4"/>
<text x="460.1" y="419" font-size="6.3" font-family='"Liberation Sans", sans-serif' text-anchor="middle" fill="#f4a53b" stroke="#f4a53b">R</text>
<text x="477.3" y="419" font-size="6" font-family='"Liberation Sans", sans-serif' text-anchor="middle" fill="#a0a0a0" stroke="#a0a0a0">A<tspan font-size="5.7" dy="0.4">i</tspan></text>
<text x="495.2" y="419" font-size="6.3" font-family='"Liberation Sans", sans-serif' text-anchor="middle" fill="#2fae4a" stroke="#2fae4a">B</text>
<line x1="530.2" y1="424.3" x2="538.1" y2="424.3" stroke="#4d4d4d" stroke-width="1.4"/>
<line x1="538.1" y1="424.3" x2="556" y2="424.3" stroke="#5cc06e" stroke-width="1.4"/>
<circle cx="556" cy="424.3" r="1.7" fill="#7a7a7a"/>
<text x="534.3" y="420.7" font-size="5.8" font-family='"Liberation Sans", sans-serif' font-weight="bold" text-anchor="middle" fill="#111" stroke="#111">X</text>
<text x="546.9" y="420.7" font-size="5.8" font-family='"Liberation Sans", sans-serif' font-weight="bold" text-anchor="middle" fill="#2fae4a" stroke="#2fae4a">B</text>
<text x="605.8" y="403.3" font-size="8.1" font-family='"Liberation Sans", sans-serif' fill="#222" textLength="41.6" lengthAdjust="spacingAndGlyphs" stroke="#222">Input strand</text>
<line x1="609.1" y1="424.1" x2="619.1" y2="424.1" stroke="#2aa7e0" stroke-width="1.4"/>
<line x1="619.1" y1="424.1" x2="626.8" y2="424.1" stroke="#4d4d4d" stroke-width="1.4"/>
<line x1="626.8" y1="424.1" x2="638.6" y2="412.6" stroke="#8e8e8e" stroke-width="1.2" stroke-dasharray="2,1.1"/>
<path d="M0,0 L-3.6,-2.1 L-3.6,2.1 Z" fill="#8e8e8e" transform="translate(641.2,410.1) rotate(-44)"/>
<text x="615" y="422.4" font-size="5.8" font-family='"Liberation Sans", sans-serif' font-weight="bold" text-anchor="middle" fill="#2aa7e0" stroke="#2aa7e0">D</text>
<text x="623.4" y="422.4" font-size="5.8" font-family='"Liberation Sans", sans-serif' font-weight="bold" text-anchor="middle" fill="#111" stroke="#111">X</text>
<text x="629.4" y="414.6" font-size="5.2" font-family='"Liberation Sans", sans-serif' text-anchor="middle" fill="#a0a0a0" stroke="#a0a0a0">A<tspan font-size="4.94" dy="0.4">i</tspan></text>
<rect x="420.8" y="430.0" width="179.5" height="73.5" rx="9" ry="9" fill="#fef2e2"/>
<path d="M423.3,441.1 Q449,519.9 476.9,435.9" stroke="#1a1a1a" stroke-width="0.9" fill="none"/>
<path d="M0,0 L-4.4,-2.0 L-4.4,2.0 Z" fill="#1a1a1a" transform="translate(476.9,435.9) rotate(-71.63)"/>
<path d="M425,485.5 Q452,468 484.4,493.8" stroke="#1a1a1a" stroke-width="0.9" fill="none"/>
<path d="M0,0 L-4.4,-2.0 L-4.4,2.0 Z" fill="#1a1a1a" transform="translate(484.4,493.8) rotate(38.53)"/>
<path d="M542.9,437.5 Q562,527.3 595.6,435.9" stroke="#1a1a1a" stroke-width="0.9" fill="none"/>
<path d="M0,0 L-4.4,-2.0 L-4.4,2.0 Z" fill="#1a1a1a" transform="translate(595.6,435.9) rotate(-69.82)"/>
<path d="M535.1,493 Q566,468 594.8,492.4" stroke="#1a1a1a" stroke-width="0.9" fill="none"/>
<path d="M0,0 L-4.4,-2.0 L-4.4,2.0 Z" fill="#1a1a1a" transform="translate(594.8,492.4) rotate(40.27)"/>
<circle cx="510.7" cy="452.2" r="13.9" fill="#fff" stroke="#1a1a1a" stroke-width="1.3"/>
<rect x="504.5" y="446.3" width="2.4" height="10" rx="1.2" fill="#fff" stroke="#a0a0a0" stroke-width="0.55"/>
<circle cx="505.7" cy="457.2" r="2.9" fill="#fff" stroke="#a0a0a0" stroke-width="0.55"/>
<line x1="505.7" y1="447.6" x2="505.7" y2="457.2" stroke="#f04a5a" stroke-width="1"/>
<circle cx="505.7" cy="457.2" r="1.8" fill="#f04a5a"/>
<rect x="515.9" y="446.3" width="2.4" height="10" rx="1.2" fill="#d6d6d6" stroke="#a0a0a0" stroke-width="0.55"/>
<circle cx="517.1" cy="457.2" r="2.9" fill="#fff" stroke="#a0a0a0" stroke-width="0.55"/>
<line x1="517.1" y1="451.6" x2="517.1" y2="457.2" stroke="#23a2e0" stroke-width="1"/>
<circle cx="517.1" cy="457.2" r="1.8" fill="#23a2e0"/>
<circle cx="502.2" cy="446.6" r="1.4" fill="#f04a5a"/>
<path d="M512.4,445.4 L514.6,445.4 L513.5,447.6 Z" stroke="none" stroke-width="1" fill="#40b8e8"/>
<path d="M490.00,492.9 L490.00,495.9 M491.70,492.9 L491.70,495.9 M493.40,492.9 L493.40,495.9 M495.10,492.9 L495.10,495.9 M496.80,492.9 L496.80,495.9 M498.50,492.9 L498.50,495.9 M500.20,492.9 L500.20,495.9 M501.90,492.9 L501.90,495.9 M503.60,492.9 L503.60,495.9 M505.30,492.9 L505.30,495.9 M507.00,492.9 L507.00,495.9 M508.70,492.9 L508.70,495.9 M510.40,492.9 L510.40,495.9 M512.10,492.9 L512.10,495.9 M513.80,492.9 L513.80,495.9 M515.50,492.9 L515.50,495.9 M517.20,492.9 L517.20,495.9 M518.90,492.9 L518.90,495.9 M520.60,492.9 L520.60,495.9 M522.30,492.9 L522.30,495.9" stroke="#9a9a9a" stroke-width="0.5" fill="none"/>
<line x1="490" y1="494.4" x2="524" y2="494.4" stroke="#c8c8c8" stroke-width="0.4"/>
<line x1="490.5" y1="492.1" x2="499" y2="492.1" stroke="#2aa7e0" stroke-width="1.4"/>
<line x1="499" y1="492.1" x2="504.6" y2="492.1" stroke="#4d4d4d" stroke-width="1.4"/>
<line x1="504.6" y1="492.1" x2="524.5" y2="492.1" stroke="#b0b0b0" stroke-width="0.7" stroke-dasharray="1,1"/>
<line x1="504.6" y1="492.1" x2="517" y2="479.9" stroke="#8e8e8e" stroke-width="1.2" stroke-dasharray="2,1.1"/>
<path d="M0,0 L-3.6,-2.1 L-3.6,2.1 Z" fill="#8e8e8e" transform="translate(519.6,477.4) rotate(-44)"/>
<line x1="490.5" y1="496.6" x2="499" y2="496.6" stroke="#2aa7e0" stroke-width="1.4"/>
<path d="M488,496.6 L491.3,494.7 L491.3,498.5 Z" stroke="none" stroke-width="1" fill="#2aa7e0"/>
<line x1="499" y1="496.6" x2="504.6" y2="496.6" stroke="#4d4d4d" stroke-width="1.4"/>
<line x1="504.6" y1="496.6" x2="524.9" y2="496.6" stroke="#2fae4a" stroke-width="1.4"/>
<circle cx="524.9" cy="496.6" r="3.9" fill="#7fd68a" opacity="0.55"/>
<circle cx="524.9" cy="496.6" r="2.6" fill="#1fae3a"/>
<text x="493.5" y="490.4" font-size="5.8" font-family='"Liberation Sans", sans-serif' font-weight="bold" text-anchor="middle" fill="#2aa7e0" stroke="#2aa7e0">D</text>
<text x="502.4" y="490.4" font-size="5.8" font-family='"Liberation Sans", sans-serif' font-weight="bold" text-anchor="middle" fill="#111" stroke="#111">X</text>
<text x="508.2" y="483.5" font-size="5.2" font-family='"Liberation Sans", sans-serif' text-anchor="middle" fill="#a0a0a0" stroke="#a0a0a0">A<tspan font-size="4.94" dy="0.4">i</tspan></text>
<path d="M382,480.7 L395.5,469" stroke="#a8a8a8" stroke-width="3.6" fill="none" stroke-dasharray="0.7,1.0"/>
<line x1="380.6" y1="481.7" x2="394" y2="469.5" stroke="#808080" stroke-width="0.8" stroke-dasharray="1.6,0.7"/>
<line x1="384.5" y1="481.7" x2="397.5" y2="470.1" stroke="#808080" stroke-width="0.8" stroke-dasharray="1.6,0.7"/>
<line x1="396.5" y1="469.6" x2="409.8" y2="469.6" stroke="#f4a53b" stroke-width="1.3"/>
<text x="413.5" y="471" font-size="6" font-family='"Liberation Sans", sans-serif' font-weight="bold" text-anchor="middle" fill="#f4a53b" stroke="#f4a53b">R</text>
<text x="383" y="472.2" font-size="5.4" font-family='"Liberation Sans", sans-serif' text-anchor="middle" fill="#a0a0a0" stroke="#a0a0a0">A<tspan font-size="5.13" dy="0.4">i</tspan></text>
<path d="M364.50,482.5 L364.50,485.1 M366.20,482.5 L366.20,485.1 M367.90,482.5 L367.90,485.1 M369.60,482.5 L369.60,485.1 M371.30,482.5 L371.30,485.1 M373.00,482.5 L373.00,485.1 M374.70,482.5 L374.70,485.1 M376.40,482.5 L376.40,485.1 M378.10,482.5 L378.10,485.1 M379.80,482.5 L379.80,485.1 M381.50,482.5 L381.50,485.1 M383.20,482.5 L383.20,485.1 M384.90,482.5 L384.90,485.1 M386.60,482.5 L386.60,485.1 M388.30,482.5 L388.30,485.1 M390.00,482.5 L390.00,485.1 M391.70,482.5 L391.70,485.1 M393.40,482.5 L393.40,485.1 M395.10,482.5 L395.10,485.1 M396.80,482.5 L396.80,485.1 M398.50,482.5 L398.50,485.1" stroke="#9a9a9a" stroke-width="0.5" fill="none"/>
<line x1="364.5" y1="483.8" x2="400" y2="483.8" stroke="#c8c8c8" stroke-width="0.4"/>
<line x1="362.9" y1="481.7" x2="373" y2="481.7" stroke="#2aa7e0" stroke-width="1.4"/>
<line x1="373" y1="481.7" x2="380.6" y2="481.7" stroke="#4d4d4d" stroke-width="1.4"/>
<line x1="365.3" y1="485.9" x2="373" y2="485.9" stroke="#2aa7e0" stroke-width="1.4"/>
<path d="M362.5,485.9 L365.8,484 L365.8,487.8 Z" stroke="none" stroke-width="1" fill="#2aa7e0"/>
<line x1="373" y1="485.9" x2="380.6" y2="485.9" stroke="#4d4d4d" stroke-width="1.4"/>
<line x1="384" y1="481.7" x2="396" y2="481.7" stroke="#2fae4a" stroke-width="1.4"/>
<path d="M398.5,481.7 L395.2,479.8 L395.2,483.6 Z" stroke="none" stroke-width="1" fill="#2fae4a"/>
<line x1="380.6" y1="485.9" x2="399.9" y2="485.9" stroke="#2fae4a" stroke-width="1.4"/>
<circle cx="399.9" cy="485.9" r="3.7" fill="#7fd68a" opacity="0.55"/>
<circle cx="399.9" cy="485.9" r="2.4" fill="#1fae3a"/>
<text x="368.2" y="479.6" font-size="6.1" font-family='"Liberation Sans", sans-serif' font-weight="bold" text-anchor="middle" fill="#2aa7e0" stroke="#2aa7e0">D</text>
<text x="376.6" y="479.6" font-size="6.1" font-family='"Liberation Sans", sans-serif' font-weight="bold" text-anchor="middle" fill="#111" stroke="#111">X</text>
<text x="395" y="479.6" font-size="6.1" font-family='"Liberation Sans", sans-serif' font-weight="bold" text-anchor="middle" fill="#2fae4a" stroke="#2fae4a">B</text>
<path d="M382,510.6 L395.5,499" stroke="#a8a8a8" stroke-width="3.6" fill="none" stroke-dasharray="0.7,1.0"/>
<line x1="380.6" y1="511.6" x2="394" y2="499.5" stroke="#808080" stroke-width="0.8" stroke-dasharray="1.6,0.7"/>
<line x1="384.5" y1="511.6" x2="397.5" y2="500.1" stroke="#808080" stroke-width="0.8" stroke-dasharray="1.6,0.7"/>
<line x1="396.5" y1="499.3" x2="409.8" y2="499.3" stroke="#f4a53b" stroke-width="1.3"/>
<text x="413.5" y="500.7" font-size="6" font-family='"Liberation Sans", sans-serif' font-weight="bold" text-anchor="middle" fill="#f4a53b" stroke="#f4a53b">R</text>
<text x="383" y="501.9" font-size="5.4" font-family='"Liberation Sans", sans-serif' text-anchor="middle" fill="#a0a0a0" stroke="#a0a0a0">A<tspan font-size="5.13" dy="0.4">i</tspan></text>
<path d="M364.50,512.4 L364.50,514.9 M366.20,512.4 L366.20,514.9 M367.90,512.4 L367.90,514.9 M369.60,512.4 L369.60,514.9 M371.30,512.4 L371.30,514.9 M373.00,512.4 L373.00,514.9 M374.70,512.4 L374.70,514.9 M376.40,512.4 L376.40,514.9 M378.10,512.4 L378.10,514.9 M379.80,512.4 L379.80,514.9 M381.50,512.4 L381.50,514.9 M383.20,512.4 L383.20,514.9 M384.90,512.4 L384.90,514.9 M386.60,512.4 L386.60,514.9 M388.30,512.4 L388.30,514.9 M390.00,512.4 L390.00,514.9 M391.70,512.4 L391.70,514.9 M393.40,512.4 L393.40,514.9 M395.10,512.4 L395.10,514.9 M396.80,512.4 L396.80,514.9 M398.50,512.4 L398.50,514.9" stroke="#9a9a9a" stroke-width="0.5" fill="none"/>
<line x1="364.5" y1="513.65" x2="400" y2="513.65" stroke="#c8c8c8" stroke-width="0.4"/>
<line x1="362.9" y1="511.6" x2="373" y2="511.6" stroke="#2aa7e0" stroke-width="1.4"/>
<line x1="373" y1="511.6" x2="380.6" y2="511.6" stroke="#4d4d4d" stroke-width="1.4"/>
<line x1="365.3" y1="515.7" x2="373" y2="515.7" stroke="#2aa7e0" stroke-width="1.4"/>
<path d="M362.5,515.7 L365.8,513.8 L365.8,517.6 Z" stroke="none" stroke-width="1" fill="#2aa7e0"/>
<line x1="373" y1="515.7" x2="380.6" y2="515.7" stroke="#4d4d4d" stroke-width="1.4"/>
<line x1="384.9" y1="511.6" x2="402" y2="511.6" stroke="#2fae4a" stroke-width="1.4"/>
<circle cx="402" cy="511.3" r="1.8" fill="#7a7a7a"/>
<line x1="380.6" y1="515.7" x2="402" y2="515.7" stroke="#2fae4a" stroke-width="1.4"/>
<circle cx="402" cy="515.7" r="2" fill="#1fae3a"/>
<text x="368.2" y="509.5" font-size="6.1" font-family='"Liberation Sans", sans-serif' font-weight="bold" text-anchor="middle" fill="#2aa7e0" stroke="#2aa7e0">D</text>
<text x="376.6" y="509.5" font-size="6.1" font-family='"Liberation Sans", sans-serif' font-weight="bold" text-anchor="middle" fill="#111" stroke="#111">X</text>
<text x="395" y="509.5" font-size="6.1" font-family='"Liberation Sans", sans-serif' font-weight="bold" text-anchor="middle" fill="#2fae4a" stroke="#2fae4a">B</text>
<text x="602.9" y="479" font-size="8.1" font-family='"Liberation Sans", sans-serif' fill="#222" textLength="56.1" lengthAdjust="spacingAndGlyphs" stroke="#222">Reporter strand</text>
<text x="623.6" y="488.5" font-size="5.8" font-family='"Liberation Sans", sans-serif' font-weight="bold" text-anchor="middle" fill="#111" stroke="#111">X</text>
<text x="636.4" y="488.5" font-size="5.8" font-family='"Liberation Sans", sans-serif' font-weight="bold" text-anchor="middle" fill="#2fae4a" stroke="#2fae4a">B</text>
<path d="M620.00,492.7 L620.00,496 M621.70,492.7 L621.70,496 M623.40,492.7 L623.40,496 M625.10,492.7 L625.10,496 M626.80,492.7 L626.80,496 M628.50,492.7 L628.50,496 M630.20,492.7 L630.20,496 M631.90,492.7 L631.90,496 M633.60,492.7 L633.60,496 M635.30,492.7 L635.30,496 M637.00,492.7 L637.00,496 M638.70,492.7 L638.70,496 M640.40,492.7 L640.40,496 M642.10,492.7 L642.10,496 M643.80,492.7 L643.80,496" stroke="#9a9a9a" stroke-width="0.5" fill="none"/>
<line x1="620" y1="494.35" x2="645" y2="494.35" stroke="#c8c8c8" stroke-width="0.4"/>
<line x1="619.3" y1="491.9" x2="627.2" y2="491.9" stroke="#4d4d4d" stroke-width="1.4"/>
<line x1="627.2" y1="491.9" x2="646.2" y2="491.9" stroke="#5cc06e" stroke-width="1.4"/>
<circle cx="646.2" cy="491.9" r="1.7" fill="#7a7a7a"/>
<line x1="611.5" y1="496.8" x2="619.3" y2="496.8" stroke="#2aa7e0" stroke-width="1.4"/>
<path d="M609.2,496.8 L612.5,494.9 L612.5,498.7 Z" stroke="none" stroke-width="1" fill="#2aa7e0"/>
<line x1="619.3" y1="496.8" x2="627.2" y2="496.8" stroke="#4d4d4d" stroke-width="1.4"/>
<line x1="627.2" y1="496.8" x2="646.2" y2="496.8" stroke="#2fae4a" stroke-width="1.4"/>
<circle cx="646.2" cy="496.8" r="2" fill="#1fae3a"/>
<rect x="346" y="525" width="115.5" height="12.5" fill="#ecbcd2"/>
<text x="403.7" y="534.4" font-size="8.2" font-family='"Liberation Sans", sans-serif' text-anchor="middle" fill="#333" textLength="35.7" lengthAdjust="spacingAndGlyphs" stroke="#333">End State</text>
<path d="M467.5,524.7 L576.6,524.7 L576.6,537.5 L512.0,560.5 L500.0,560.5 L467.5,537.5 Z" stroke="none" stroke-width="1" fill="url(#rg)"/>
<text x="524" y="534.8" font-size="8.2" font-family='"Liberation Sans", sans-serif' text-anchor="middle" fill="#333" textLength="21.4" lengthAdjust="spacingAndGlyphs" stroke="#333">Reset</text>
<rect x="584.8" y="524.7" width="88.4" height="12.8" fill="#a5d5c4"/>
<text x="629" y="534.3" font-size="8.2" font-family='"Liberation Sans", sans-serif' text-anchor="middle" fill="#333" textLength="40" lengthAdjust="spacingAndGlyphs" stroke="#333">Initial State</text>
<rect x="504.6" y="561.5" width="2.6" height="56" fill="#fde3bf"/>
<rect x="413.5" y="585.77" width="91.3" height="1.79" fill="#fcd8c8" opacity="0.7"/>
<line x1="413.5" y1="586.67" x2="504.8" y2="586.67" stroke="#f59c82" stroke-width="0.8" stroke-dasharray="1.6,1"/>
<rect x="507.85" y="586.67" width="105.65" height="2.15" fill="#fcd8c8" opacity="0.9"/>
<line x1="507.85" y1="587.74" x2="616.5" y2="587.74" stroke="#f59c82" stroke-width="0.7" stroke-dasharray="1.6,1"/>
<path d="M423.60,592.76 L424.11,592.72 L424.62,592.69 L425.12,592.65 L425.63,592.62 L426.14,592.58 L426.65,592.55 L427.15,592.52 L427.66,592.48 L428.17,592.45 L428.68,592.42 L429.18,592.38 L429.69,592.35 L430.20,592.31 L430.71,592.28 L431.21,592.24 L431.72,592.20 L432.23,592.16 L432.74,592.12 L433.24,592.08 L433.75,592.04 L434.26,592.00 L434.77,591.95 L435.27,591.90 L435.78,591.86 L436.29,591.81 L436.80,591.76 L437.30,591.71 L437.81,591.65 L438.32,591.60 L438.83,591.54 L439.33,591.49 L439.84,591.43 L440.35,591.38 L440.86,591.32 L441.36,591.26 L441.87,591.20 L442.38,591.14 L442.88,591.08 L443.39,591.03 L443.90,590.97 L444.41,590.91 L444.92,590.84 L445.42,590.78 L445.93,590.71 L446.44,590.65 L446.94,590.58 L447.45,590.51 L447.96,590.44 L448.47,590.37 L448.98,590.30 L449.48,590.23 L449.99,590.16 L450.50,590.09 L451.00,590.02 L451.51,589.95 L452.02,589.88 L452.53,589.82 L453.04,589.75 L453.54,589.69 L454.05,589.62 L454.56,589.56 L455.06,589.50 L455.57,589.44 L456.08,589.38 L456.59,589.31 L457.10,589.25 L457.60,589.19 L458.11,589.13 L458.62,589.07 L459.12,589.01 L459.63,588.95 L460.14,588.90 L460.65,588.84 L461.16,588.78 L461.66,588.73 L462.17,588.67 L462.68,588.62 L463.19,588.56 L463.69,588.51 L464.20,588.46 L464.71,588.41 L465.22,588.36 L465.72,588.31 L466.23,588.26 L466.74,588.21 L467.25,588.16 L467.75,588.12 L468.26,588.07 L468.77,588.02 L469.28,587.98 L469.78,587.93 L470.29,587.89 L470.80,587.85 L471.31,587.80 L471.81,587.76 L472.32,587.72 L472.83,587.68 L473.34,587.64 L473.84,587.60 L474.35,587.57 L474.86,587.53 L475.37,587.49 L475.87,587.46 L476.38,587.42 L476.89,587.39 L477.40,587.35 L477.90,587.32 L478.41,587.29 L478.92,587.26 L479.43,587.22 L479.93,587.19 L480.44,587.16 L480.95,587.13 L481.46,587.10 L481.96,587.08 L482.47,587.05 L482.98,587.02 L483.49,586.99 L483.99,586.96 L484.50,586.94 L485.01,586.91 L485.51,586.89 L486.02,586.86 L486.53,586.83 L487.04,586.81 L487.55,586.78 L488.05,586.76 L488.56,586.73 L489.07,586.71 L489.58,586.68 L490.08,586.66 L490.59,586.64 L491.10,586.61 L491.61,586.59 L492.11,586.57 L492.62,586.55 L493.13,586.54 L493.63,586.52 L494.14,586.50 L494.65,586.49 L495.16,586.48 L495.67,586.47 L496.17,586.46 L496.68,586.45 L497.19,586.44 L497.70,586.43 L498.20,586.42 L498.71,586.41 L499.22,586.40 L499.73,586.39 L500.23,586.38 L500.74,586.38 L501.25,586.37 L501.75,586.36 L502.26,586.35 L502.77,586.35 L503.28,586.34 L503.79,586.33 L504.29,586.32 L504.80,586.31 L505.41,606.36 L505.92,603.28 L506.42,600.29 L506.93,597.47 L507.44,594.67 L507.95,593.63 L508.45,593.51 L508.96,593.42 L509.47,593.34 L509.98,593.27 L510.48,593.22 L510.99,593.18 L511.50,593.14 L512.01,593.12 L512.51,593.09 L513.02,593.06 L513.53,593.04 L514.04,593.01 L514.54,592.97 L515.05,592.93 L515.56,592.88 L516.07,592.83 L516.57,592.79 L517.08,592.74 L517.59,592.70 L518.10,592.66 L518.60,592.61 L519.11,592.57 L519.62,592.53 L520.13,592.49 L520.63,592.44 L521.14,592.40 L521.65,592.36 L522.16,592.31 L522.66,592.27 L523.17,592.22 L523.68,592.18 L524.19,592.13 L524.69,592.08 L525.20,592.03 L525.71,591.98 L526.22,591.93 L526.72,591.87 L527.23,591.82 L527.74,591.76 L528.25,591.70 L528.75,591.65 L529.26,591.59 L529.77,591.53 L530.28,591.47 L530.78,591.41 L531.29,591.35 L531.80,591.29 L532.31,591.23 L532.81,591.17 L533.32,591.11 L533.83,591.05 L534.34,590.99 L534.84,590.92 L535.35,590.86 L535.86,590.80 L536.37,590.74 L536.87,590.68 L537.38,590.62 L537.89,590.56 L538.40,590.49 L538.90,590.43 L539.41,590.36 L539.92,590.30 L540.43,590.24 L540.93,590.17 L541.44,590.11 L541.95,590.05 L542.46,589.98 L542.96,589.92 L543.47,589.86 L543.98,589.79 L544.49,589.73 L544.99,589.67 L545.50,589.61 L546.01,589.55 L546.52,589.49 L547.02,589.43 L547.53,589.37 L548.04,589.31 L548.55,589.26 L549.05,589.20 L549.56,589.14 L550.07,589.08 L550.58,589.02 L551.08,588.97 L551.59,588.91 L552.10,588.85 L552.61,588.79 L553.11,588.74 L553.62,588.68 L554.13,588.62 L554.64,588.56 L555.14,588.51 L555.65,588.45 L556.16,588.39 L556.67,588.33 L557.17,588.27 L557.68,588.21 L558.19,588.15 L558.70,588.09 L559.20,588.02 L559.71,587.96 L560.22,587.90 L560.73,587.84 L561.23,587.78 L561.74,587.72 L562.25,587.66 L562.76,587.60 L563.26,587.55 L563.77,587.49 L564.28,587.44 L564.79,587.39 L565.29,587.34 L565.80,587.29 L566.31,587.24 L566.82,587.19 L567.32,587.15 L567.83,587.11 L568.34,587.06 L568.85,587.02 L569.35,586.98 L569.86,586.94 L570.37,586.90 L570.88,586.86 L571.38,586.82 L571.89,586.78 L572.40,586.75 L572.91,586.71 L573.41,586.67 L573.92,586.63 L574.43,586.60 L574.94,586.56 L575.44,586.52 L575.95,586.48 L576.46,586.45 L576.97,586.41 L577.47,586.37 L577.98,586.33 L578.49,586.29 L579.00,586.26 L579.50,586.22 L580.01,586.18 L580.52,586.14 L581.03,586.11 L581.53,586.07 L582.04,586.04 L582.55,586.00 L583.06,585.97 L583.56,585.93 L584.07,585.90 L584.58,585.86 L585.09,585.83 L585.59,585.80 L586.10,585.77 L586.61,585.74 L587.12,585.71 L587.62,585.68 L588.13,585.65 L588.64,585.62 L589.15,585.59 L589.65,585.56 L590.16,585.53 L590.67,585.50 L591.18,585.47 L591.68,585.45 L592.19,585.42 L592.70,585.39 L593.21,585.37 L593.71,585.34 L594.22,585.32 L594.73,585.30 L595.24,585.27 L595.74,585.25 L596.25,585.23 L596.76,585.22 L597.27,585.20 L597.77,585.18 L598.28,585.16 L598.79,585.15 L599.30,585.13 L599.80,585.11 L600.31,585.10 L600.82,585.09 L601.33,585.07 L601.83,585.06 L602.34,585.04 L602.85,585.03 L603.36,585.02 L603.86,585.00 L604.37,584.99 L604.88,584.98 L605.39,584.96 L605.89,584.95 L606.40,584.93 L606.91,584.92 L607.42,584.91 L607.92,584.89 L608.33,584.88" stroke="#f6450e" stroke-width="2.1" fill="none" stroke-linejoin="round" stroke-linecap="round"/>
<circle cx="423.6" cy="592.76" r="1.3" fill="#f6450e"/>
<circle cx="433.75" cy="592.04" r="1.3" fill="#f6450e"/>
<circle cx="443.9" cy="590.97" r="1.3" fill="#f6450e"/>
<circle cx="454.05" cy="589.62" r="1.3" fill="#f6450e"/>
<circle cx="505.41" cy="606.36" r="1.3" fill="#f6450e"/>
<circle cx="506.63" cy="599.2" r="1.3" fill="#f6450e"/>
<circle cx="507.85" cy="593.65" r="1.3" fill="#f6450e"/>
<rect x="413.5" y="561.5" width="204" height="56" fill="none" stroke="#4a4a4a" stroke-width="1"/>
<line x1="413.5" y1="617.1" x2="415.3" y2="617.1" stroke="#4a4a4a" stroke-width="0.7"/>
<text x="411.7" y="619.8" font-size="7.6" font-family='"Liberation Sans", sans-serif' text-anchor="end" fill="#3a3a3a" stroke="#3a3a3a">0</text>
<line x1="413.5" y1="608.15" x2="415.3" y2="608.15" stroke="#4a4a4a" stroke-width="0.7"/>
<text x="411.7" y="610.85" font-size="7.6" font-family='"Liberation Sans", sans-serif' text-anchor="end" fill="#3a3a3a" stroke="#3a3a3a">1</text>
<line x1="413.5" y1="599.2" x2="415.3" y2="599.2" stroke="#4a4a4a" stroke-width="0.7"/>
<text x="411.7" y="601.9" font-size="7.6" font-family='"Liberation Sans", sans-serif' text-anchor="end" fill="#3a3a3a" stroke="#3a3a3a">2</text>
<line x1="413.5" y1="590.25" x2="415.3" y2="590.25" stroke="#4a4a4a" stroke-width="0.7"/>
<text x="411.7" y="592.95" font-size="7.6" font-family='"Liberation Sans", sans-serif' text-anchor="end" fill="#3a3a3a" stroke="#3a3a3a">3</text>
<line x1="413.5" y1="581.3" x2="415.3" y2="581.3" stroke="#4a4a4a" stroke-width="0.7"/>
<text x="411.7" y="584" font-size="7.6" font-family='"Liberation Sans", sans-serif' text-anchor="end" fill="#3a3a3a" stroke="#3a3a3a">4</text>
<line x1="413.5" y1="572.35" x2="415.3" y2="572.35" stroke="#4a4a4a" stroke-width="0.7"/>
<text x="411.7" y="575.05" font-size="7.6" font-family='"Liberation Sans", sans-serif' text-anchor="end" fill="#3a3a3a" stroke="#3a3a3a">5</text>
<line x1="413.5" y1="563.4" x2="415.3" y2="563.4" stroke="#4a4a4a" stroke-width="0.7"/>
<text x="411.7" y="566.1" font-size="7.6" font-family='"Liberation Sans", sans-serif' text-anchor="end" fill="#3a3a3a" stroke="#3a3a3a">6</text>
<line x1="423.6" y1="617.5" x2="423.6" y2="615.7" stroke="#4a4a4a" stroke-width="0.7"/>
<text x="423.6" y="625.7" font-size="7.6" font-family='"Liberation Sans", sans-serif' text-anchor="middle" fill="#3a3a3a" stroke="#3a3a3a">0</text>
<line x1="443.9" y1="617.5" x2="443.9" y2="615.7" stroke="#4a4a4a" stroke-width="0.7"/>
<text x="443.9" y="625.7" font-size="7.6" font-family='"Liberation Sans", sans-serif' text-anchor="middle" fill="#3a3a3a" stroke="#3a3a3a">10</text>
<line x1="464.2" y1="617.5" x2="464.2" y2="615.7" stroke="#4a4a4a" stroke-width="0.7"/>
<text x="464.2" y="625.7" font-size="7.6" font-family='"Liberation Sans", sans-serif' text-anchor="middle" fill="#3a3a3a" stroke="#3a3a3a">20</text>
<line x1="484.5" y1="617.5" x2="484.5" y2="615.7" stroke="#4a4a4a" stroke-width="0.7"/>
<text x="484.5" y="625.7" font-size="7.6" font-family='"Liberation Sans", sans-serif' text-anchor="middle" fill="#3a3a3a" stroke="#3a3a3a">30</text>
<line x1="504.8" y1="617.5" x2="504.8" y2="615.7" stroke="#4a4a4a" stroke-width="0.7"/>
<text x="504.8" y="625.7" font-size="7.6" font-family='"Liberation Sans", sans-serif' text-anchor="middle" fill="#3a3a3a" stroke="#3a3a3a">40</text>
<line x1="525.1" y1="617.5" x2="525.1" y2="615.7" stroke="#4a4a4a" stroke-width="0.7"/>
<text x="525.1" y="625.7" font-size="7.6" font-family='"Liberation Sans", sans-serif' text-anchor="middle" fill="#3a3a3a" stroke="#3a3a3a">50</text>
<line x1="545.4" y1="617.5" x2="545.4" y2="615.7" stroke="#4a4a4a" stroke-width="0.7"/>
<text x="545.4" y="625.7" font-size="7.6" font-family='"Liberation Sans", sans-serif' text-anchor="middle" fill="#3a3a3a" stroke="#3a3a3a">60</text>
<line x1="565.7" y1="617.5" x2="565.7" y2="615.7" stroke="#4a4a4a" stroke-width="0.7"/>
<text x="565.7" y="625.7" font-size="7.6" font-family='"Liberation Sans", sans-serif' text-anchor="middle" fill="#3a3a3a" stroke="#3a3a3a">70</text>
<line x1="586" y1="617.5" x2="586" y2="615.7" stroke="#4a4a4a" stroke-width="0.7"/>
<text x="586" y="625.7" font-size="7.6" font-family='"Liberation Sans", sans-serif' text-anchor="middle" fill="#3a3a3a" stroke="#3a3a3a">80</text>
<line x1="606.3" y1="617.5" x2="606.3" y2="615.7" stroke="#4a4a4a" stroke-width="0.7"/>
<text x="606.3" y="625.7" font-size="7.6" font-family='"Liberation Sans", sans-serif' text-anchor="middle" fill="#3a3a3a" stroke="#3a3a3a">90</text>
<text x="515.5" y="632.8" font-size="8" font-family='"Liberation Sans", sans-serif' text-anchor="middle" fill="#3a3a3a" stroke="#3a3a3a">Time(min)</text>
<text transform="translate(404.3,587.7) rotate(-90)" font-size="7.8" font-family='"Liberation Sans", sans-serif' text-anchor="middle" fill="#3a3a3a" stroke="#3a3a3a">Output Value</text>
<text x="463.6" y="585.4" font-size="7.9" font-family='"Liberation Sans", sans-serif' fill="#555" stroke="#555"><tspan fill="#f2283f" font-weight="bold" stroke="#f2283f">3.44</tspan><tspan dx="3.3">3.40</tspan></text>
<text x="571.9" y="584" font-size="7.9" font-family='"Liberation Sans", sans-serif' fill="#555" stroke="#555"><tspan fill="#f2283f" font-weight="bold" stroke="#f2283f">3.60</tspan><tspan dx="4.5">3.28</tspan></text>
<path d="M350.3,559.4 L348.5,559.4 L348.5,617.5 L350.3,617.5" stroke="#777" stroke-width="0.75" fill="none"/>
<path d="M365.7,559.4 L367.5,559.4 L367.5,617.5 L365.7,617.5" stroke="#777" stroke-width="0.75" fill="none"/>
<text x="358.45" y="555.7" font-size="6.3" font-family='"Liberation Serif", serif' text-anchor="middle" font-weight="bold" font-style="italic" fill="#222" stroke="#222">W =</text>
<text x="358.35" y="563.8" font-size="6.2" font-family='"Liberation Sans", sans-serif' text-anchor="middle" fill="#4a4a4a" style="stroke-width:0.1px" stroke="#4a4a4a">0.80</text>
<text x="358.35" y="571.36" font-size="6.2" font-family='"Liberation Sans", sans-serif' text-anchor="middle" fill="#4a4a4a" style="stroke-width:0.1px" stroke="#4a4a4a">0.60</text>
<text x="358.35" y="578.92" font-size="6.2" font-family='"Liberation Sans", sans-serif' text-anchor="middle" fill="#4a4a4a" style="stroke-width:0.1px" stroke="#4a4a4a">0.40</text>
<text x="358.35" y="586.48" font-size="6.2" font-family='"Liberation Sans", sans-serif' text-anchor="middle" fill="#4a4a4a" style="stroke-width:0.1px" stroke="#4a4a4a">0.80</text>
<text x="358.35" y="594.04" font-size="6.2" font-family='"Liberation Sans", sans-serif' text-anchor="middle" fill="#4a4a4a" style="stroke-width:0.1px" stroke="#4a4a4a">0.60</text>
<text x="358.35" y="601.6" font-size="6.2" font-family='"Liberation Sans", sans-serif' text-anchor="middle" fill="#4a4a4a" style="stroke-width:0.1px" stroke="#4a4a4a">1.00</text>
<text x="358.35" y="609.16" font-size="6.2" font-family='"Liberation Sans", sans-serif' text-anchor="middle" fill="#4a4a4a" style="stroke-width:0.1px" stroke="#4a4a4a">1.00</text>
<text x="358.35" y="616.72" font-size="6.2" font-family='"Liberation Sans", sans-serif' text-anchor="middle" fill="#4a4a4a" style="stroke-width:0.1px" stroke="#4a4a4a">0.40</text>
<path d="M374.3,559.4 L372.5,559.4 L372.5,617.5 L374.3,617.5" stroke="#777" stroke-width="0.75" fill="none"/>
<path d="M389.7,559.4 L391.5,559.4 L391.5,617.5 L389.7,617.5" stroke="#777" stroke-width="0.75" fill="none"/>
<text x="382.45" y="555.7" font-size="6.3" font-family='"Liberation Serif", serif' text-anchor="middle" font-weight="bold" font-style="italic" fill="#222" stroke="#222">I =</text>
<text x="382.35" y="563.8" font-size="6.2" font-family='"Liberation Sans", sans-serif' text-anchor="middle" fill="#4a4a4a" style="stroke-width:0.1px" stroke="#4a4a4a">0.50</text>
<text x="382.35" y="571.36" font-size="6.2" font-family='"Liberation Sans", sans-serif' text-anchor="middle" fill="#4a4a4a" style="stroke-width:0.1px" stroke="#4a4a4a">0.50</text>
<text x="382.35" y="578.92" font-size="6.2" font-family='"Liberation Sans", sans-serif' text-anchor="middle" fill="#4a4a4a" style="stroke-width:0.1px" stroke="#4a4a4a">0.25</text>
<text x="382.35" y="586.48" font-size="6.2" font-family='"Liberation Sans", sans-serif' text-anchor="middle" fill="#4a4a4a" style="stroke-width:0.1px" stroke="#4a4a4a">0.75</text>
<text x="382.35" y="594.04" font-size="6.2" font-family='"Liberation Sans", sans-serif' text-anchor="middle" fill="#4a4a4a" style="stroke-width:0.1px" stroke="#4a4a4a">1.00</text>
<text x="382.35" y="601.6" font-size="6.2" font-family='"Liberation Sans", sans-serif' text-anchor="middle" fill="#4a4a4a" style="stroke-width:0.1px" stroke="#4a4a4a">0.25</text>
<text x="382.35" y="609.16" font-size="6.2" font-family='"Liberation Sans", sans-serif' text-anchor="middle" fill="#4a4a4a" style="stroke-width:0.1px" stroke="#4a4a4a">0.75</text>
<text x="382.35" y="616.72" font-size="6.2" font-family='"Liberation Sans", sans-serif' text-anchor="middle" fill="#4a4a4a" style="stroke-width:0.1px" stroke="#4a4a4a">1.00</text>
<path d="M629.3,559.4 L627.5,559.4 L627.5,617.3 L629.3,617.3" stroke="#777" stroke-width="0.75" fill="none"/>
<path d="M644.7,559.4 L646.5,559.4 L646.5,617.3 L644.7,617.3" stroke="#777" stroke-width="0.75" fill="none"/>
<text x="637.2" y="555.7" font-size="6.3" font-family='"Liberation Serif", serif' text-anchor="middle" font-weight="bold" font-style="italic" fill="#222" stroke="#222">W =</text>
<text x="637.1" y="563.8" font-size="6.2" font-family='"Liberation Sans", sans-serif' text-anchor="middle" fill="#4a4a4a" style="stroke-width:0.1px" stroke="#4a4a4a">0.64</text>
<text x="637.1" y="571.36" font-size="6.2" font-family='"Liberation Sans", sans-serif' text-anchor="middle" fill="#4a4a4a" style="stroke-width:0.1px" stroke="#4a4a4a">0.80</text>
<text x="637.1" y="578.92" font-size="6.2" font-family='"Liberation Sans", sans-serif' text-anchor="middle" fill="#4a4a4a" style="stroke-width:0.1px" stroke="#4a4a4a">0.80</text>
<text x="637.1" y="586.48" font-size="6.2" font-family='"Liberation Sans", sans-serif' text-anchor="middle" fill="#4a4a4a" style="stroke-width:0.1px" stroke="#4a4a4a">0.64</text>
<text x="637.1" y="594.04" font-size="6.2" font-family='"Liberation Sans", sans-serif' text-anchor="middle" fill="#4a4a4a" style="stroke-width:0.1px" stroke="#4a4a4a">0.64</text>
<text x="637.1" y="601.6" font-size="6.2" font-family='"Liberation Sans", sans-serif' text-anchor="middle" fill="#4a4a4a" style="stroke-width:0.1px" stroke="#4a4a4a">0.64</text>
<text x="637.1" y="609.16" font-size="6.2" font-family='"Liberation Sans", sans-serif' text-anchor="middle" fill="#4a4a4a" style="stroke-width:0.1px" stroke="#4a4a4a">0.80</text>
<text x="637.1" y="616.72" font-size="6.2" font-family='"Liberation Sans", sans-serif' text-anchor="middle" fill="#4a4a4a" style="stroke-width:0.1px" stroke="#4a4a4a">0.48</text>
<path d="M653.3,559.4 L651.5,559.4 L651.5,617.3 L653.3,617.3" stroke="#777" stroke-width="0.75" fill="none"/>
<path d="M668.7,559.4 L670.5,559.4 L670.5,617.3 L668.7,617.3" stroke="#777" stroke-width="0.75" fill="none"/>
<text x="661.25" y="555.7" font-size="6.3" font-family='"Liberation Serif", serif' text-anchor="middle" font-weight="bold" font-style="italic" fill="#222" stroke="#222">I =</text>
<text x="661.15" y="563.8" font-size="6.2" font-family='"Liberation Sans", sans-serif' text-anchor="middle" fill="#4a4a4a" style="stroke-width:0.1px" stroke="#4a4a4a">0.50</text>
<text x="661.15" y="571.36" font-size="6.2" font-family='"Liberation Sans", sans-serif' text-anchor="middle" fill="#4a4a4a" style="stroke-width:0.1px" stroke="#4a4a4a">0.50</text>
<text x="661.15" y="578.92" font-size="6.2" font-family='"Liberation Sans", sans-serif' text-anchor="middle" fill="#4a4a4a" style="stroke-width:0.1px" stroke="#4a4a4a">0.25</text>
<text x="661.15" y="586.48" font-size="6.2" font-family='"Liberation Sans", sans-serif' text-anchor="middle" fill="#4a4a4a" style="stroke-width:0.1px" stroke="#4a4a4a">0.75</text>
<text x="661.15" y="594.04" font-size="6.2" font-family='"Liberation Sans", sans-serif' text-anchor="middle" fill="#4a4a4a" style="stroke-width:0.1px" stroke="#4a4a4a">1.00</text>
<text x="661.15" y="601.6" font-size="6.2" font-family='"Liberation Sans", sans-serif' text-anchor="middle" fill="#4a4a4a" style="stroke-width:0.1px" stroke="#4a4a4a">0.25</text>
<text x="661.15" y="609.16" font-size="6.2" font-family='"Liberation Sans", sans-serif' text-anchor="middle" fill="#4a4a4a" style="stroke-width:0.1px" stroke="#4a4a4a">0.75</text>
<text x="661.15" y="616.72" font-size="6.2" font-family='"Liberation Sans", sans-serif' text-anchor="middle" fill="#4a4a4a" style="stroke-width:0.1px" stroke="#4a4a4a">1.00</text>
</svg></body></html>
